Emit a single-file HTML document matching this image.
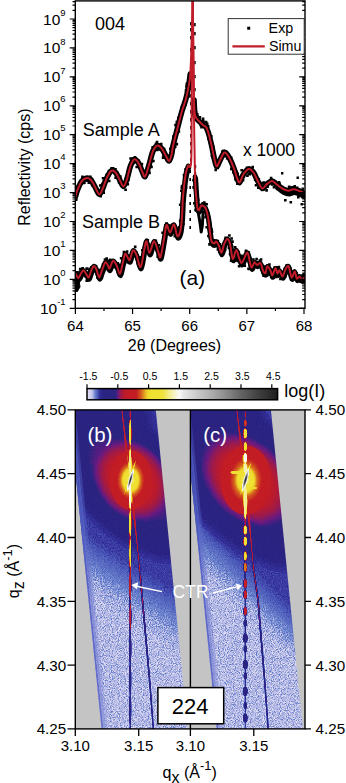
<!DOCTYPE html>
<html><head><meta charset="utf-8"><style>
html,body{margin:0;padding:0;background:#fff;width:346px;height:783px;overflow:hidden}
svg{display:block}
</style></head><body>
<svg xmlns="http://www.w3.org/2000/svg" width="346" height="783" viewBox="0 0 346 783">
<defs>
<clipPath id="plotclip"><rect x="75.3" y="0.9" width="229.7" height="307.4"/></clipPath>
</defs>
<rect width="346" height="783" fill="#fff"/>
<g clip-path="url(#plotclip)" fill="none" stroke-linejoin="round" stroke-linecap="round">
<path d="M74.00,198.50 C74.17,198.37 74.42,199.13 75.00,197.70 C75.58,196.27 76.37,192.65 77.50,189.90 C78.63,187.15 80.37,183.15 81.80,181.20 C83.23,179.25 84.65,178.48 86.10,178.20 C87.55,177.92 89.05,178.13 90.50,179.50 C91.95,180.87 93.37,183.95 94.80,186.40 C96.23,188.85 97.80,193.77 99.10,194.20 C100.40,194.63 101.30,191.75 102.60,189.00 C103.90,186.25 105.45,180.73 106.90,177.70 C108.35,174.67 109.85,171.67 111.30,170.80 C112.75,169.93 114.17,170.92 115.60,172.50 C117.03,174.08 118.60,177.98 119.90,180.30 C121.20,182.62 122.23,186.53 123.40,186.40 C124.57,186.27 125.75,182.82 126.90,179.50 C128.05,176.18 129.07,169.85 130.30,166.50 C131.53,163.15 132.93,159.98 134.30,159.40 C135.67,158.82 137.22,161.07 138.50,163.00 C139.78,164.93 140.90,168.75 142.00,171.00 C143.10,173.25 143.93,177.50 145.10,176.50 C146.27,175.50 147.68,169.25 149.00,165.00 C150.32,160.75 151.55,154.25 153.00,151.00 C154.45,147.75 156.20,145.83 157.70,145.50 C159.20,145.17 160.62,147.25 162.00,149.00 C163.38,150.75 164.83,154.00 166.00,156.00 C167.17,158.00 168.08,161.17 169.00,161.00 C169.92,160.83 170.78,157.72 171.50,155.00 C172.22,152.28 172.27,149.32 173.30,144.70 C174.33,140.08 176.25,132.92 177.70,127.30 C179.15,121.68 180.68,115.55 182.00,111.00 C183.32,106.45 184.55,103.83 185.60,100.00 C186.65,96.17 187.52,92.33 188.30,88.00 C189.08,83.67 189.97,76.33 190.30,74.00" stroke="#000" stroke-width="5.6"/>
<path d="M194.00,100.00 C194.17,102.50 194.42,111.75 195.00,115.00 C195.58,118.25 196.50,118.17 197.50,119.50 C198.50,120.83 199.98,121.98 201.00,123.00 C202.02,124.02 202.73,124.88 203.60,125.60 C204.47,126.32 205.33,125.85 206.20,127.30 C207.07,128.75 207.93,131.40 208.80,134.30 C209.67,137.20 210.53,140.95 211.40,144.70 C212.27,148.45 213.13,153.20 214.00,156.80 C214.87,160.40 215.60,165.72 216.60,166.30 C217.60,166.88 218.70,162.60 220.00,160.30 C221.30,158.00 222.95,153.08 224.40,152.50 C225.85,151.92 227.15,154.27 228.70,156.80 C230.25,159.33 232.30,164.15 233.70,167.70 C235.10,171.25 236.10,175.63 237.10,178.10 C238.10,180.57 238.68,183.07 239.70,182.50 C240.72,181.93 241.70,176.95 243.20,174.70 C244.70,172.45 246.98,169.37 248.70,169.00 C250.42,168.63 251.95,170.42 253.50,172.50 C255.05,174.58 256.53,178.83 258.00,181.50 C259.47,184.17 260.88,188.00 262.30,188.50 C263.72,189.00 264.88,185.75 266.50,184.50 C268.12,183.25 270.22,180.95 272.00,181.00 C273.78,181.05 275.37,183.47 277.20,184.80 C279.03,186.13 281.10,188.02 283.00,189.00 C284.90,189.98 286.83,190.67 288.60,190.70 C290.37,190.73 291.92,189.20 293.60,189.20 C295.28,189.20 296.83,189.95 298.70,190.70 C300.57,191.45 303.58,193.10 304.80,193.70 C306.02,194.30 305.80,194.20 306.00,194.30" stroke="#000" stroke-width="5.6"/>
<path d="M277.20,184.80 C278.17,185.50 281.10,188.02 283.00,189.00 C284.90,189.98 286.83,190.67 288.60,190.70 C290.37,190.73 291.92,189.20 293.60,189.20 C295.28,189.20 296.83,189.95 298.70,190.70 C300.57,191.45 303.58,193.10 304.80,193.70 C306.02,194.30 305.80,194.20 306.00,194.30" stroke="#000" stroke-width="5" transform="translate(0.5,3.2)"/>
<path d="M284,199h2.6v2.6h-2.6zM289.5,201h2.6v2.6h-2.6zM297,196h2.6v2.6h-2.6zM300.5,203h2.4v2.4h-2.4zM281,172h2.4v2.4h-2.4zM296.5,176.5h2.4v2.4h-2.4z" fill="#000" stroke="none"/>
<path d="M74.00,272.50 C74.17,272.58 74.57,272.50 75.00,273.00 C75.43,273.50 76.05,274.65 76.60,275.50 C77.15,276.35 77.58,278.38 78.30,278.10 C79.02,277.82 80.03,275.10 80.90,273.80 C81.77,272.50 82.63,270.30 83.50,270.30 C84.37,270.30 85.23,272.63 86.10,273.80 C86.97,274.97 87.83,277.88 88.70,277.30 C89.57,276.72 90.43,272.18 91.30,270.30 C92.17,268.42 93.03,266.13 93.90,266.00 C94.77,265.87 95.63,267.62 96.50,269.50 C97.37,271.38 98.23,277.02 99.10,277.30 C99.97,277.58 100.68,273.67 101.70,271.20 C102.72,268.73 104.18,263.52 105.20,262.50 C106.22,261.48 107.08,264.08 107.80,265.10 C108.52,266.12 108.63,269.32 109.50,268.60 C110.37,267.88 111.83,261.38 113.00,260.80 C114.17,260.22 115.35,262.93 116.50,265.10 C117.65,267.27 118.90,273.93 119.90,273.80 C120.90,273.67 121.63,267.62 122.50,264.30 C123.37,260.98 124.23,255.03 125.10,253.90 C125.97,252.77 126.92,256.48 127.70,257.50 C128.48,258.52 128.92,261.17 129.80,260.00 C130.68,258.83 131.88,251.33 133.00,250.50 C134.12,249.67 135.23,252.25 136.50,255.00 C137.77,257.75 139.35,267.67 140.60,267.00 C141.85,266.33 143.02,255.30 144.00,251.00 C144.98,246.70 145.58,240.87 146.50,241.20 C147.42,241.53 148.25,253.00 149.50,253.00 C150.75,253.00 152.58,241.53 154.00,241.20 C155.42,240.87 156.92,248.37 158.00,251.00 C159.08,253.63 159.50,259.00 160.50,257.00 C161.50,255.00 163.00,244.33 164.00,239.00 C165.00,233.67 165.50,226.08 166.50,225.00 C167.50,223.92 168.75,232.58 170.00,232.50 C171.25,232.42 172.78,223.92 174.00,224.50 C175.22,225.08 176.23,234.97 177.30,236.00 C178.37,237.03 179.62,233.87 180.40,230.70 C181.18,227.53 181.60,222.20 182.00,217.00 C182.40,211.80 182.42,204.97 182.80,199.50 C183.18,194.03 183.80,188.53 184.30,184.20 C184.80,179.87 185.17,176.57 185.80,173.50 C186.43,170.43 187.72,167.08 188.10,165.80" stroke="#000" stroke-width="4.6"/>
<path d="M74.00,272.50 C74.17,272.58 74.57,272.50 75.00,273.00 C75.43,273.50 76.05,274.65 76.60,275.50 C77.15,276.35 77.58,278.38 78.30,278.10 C79.02,277.82 80.03,275.10 80.90,273.80 C81.77,272.50 82.63,270.30 83.50,270.30 C84.37,270.30 85.23,272.63 86.10,273.80 C86.97,274.97 87.83,277.88 88.70,277.30 C89.57,276.72 90.43,272.18 91.30,270.30 C92.17,268.42 93.03,266.13 93.90,266.00 C94.77,265.87 95.63,267.62 96.50,269.50 C97.37,271.38 98.23,277.02 99.10,277.30 C99.97,277.58 100.68,273.67 101.70,271.20 C102.72,268.73 104.18,263.52 105.20,262.50 C106.22,261.48 107.08,264.08 107.80,265.10 C108.52,266.12 108.63,269.32 109.50,268.60 C110.37,267.88 111.83,261.38 113.00,260.80 C114.17,260.22 115.35,262.93 116.50,265.10 C117.65,267.27 118.90,273.93 119.90,273.80 C120.90,273.67 121.63,267.62 122.50,264.30 C123.37,260.98 124.23,255.03 125.10,253.90 C125.97,252.77 126.92,256.48 127.70,257.50 C128.48,258.52 128.92,261.17 129.80,260.00 C130.68,258.83 131.88,251.33 133.00,250.50 C134.12,249.67 135.23,252.25 136.50,255.00 C137.77,257.75 139.35,267.67 140.60,267.00 C141.85,266.33 143.02,255.30 144.00,251.00 C144.98,246.70 145.58,240.87 146.50,241.20 C147.42,241.53 148.25,253.00 149.50,253.00 C150.75,253.00 152.58,241.53 154.00,241.20 C155.42,240.87 156.92,248.37 158.00,251.00 C159.08,253.63 159.50,259.00 160.50,257.00 C161.50,255.00 163.00,244.33 164.00,239.00 C165.00,233.67 165.50,226.08 166.50,225.00 C167.50,223.92 168.75,232.58 170.00,232.50 C171.25,232.42 172.78,223.92 174.00,224.50 C175.22,225.08 176.23,234.97 177.30,236.00 C178.37,237.03 179.62,233.87 180.40,230.70 C181.18,227.53 181.60,222.20 182.00,217.00 C182.40,211.80 182.42,204.97 182.80,199.50 C183.18,194.03 183.80,188.53 184.30,184.20 C184.80,179.87 185.17,176.57 185.80,173.50 C186.43,170.43 187.72,167.08 188.10,165.80" stroke="#000" stroke-width="5" transform="translate(0.6,1.9)"/>
<path d="M195.00,176.60 C195.25,180.42 196.12,194.40 196.50,199.50 C196.88,204.60 196.92,205.40 197.30,207.20 C197.68,209.00 198.17,210.55 198.80,210.30 C199.43,210.05 200.32,206.38 201.10,205.70 C201.88,205.02 202.72,205.72 203.50,206.20 C204.28,206.68 205.02,206.67 205.80,208.60 C206.58,210.53 207.42,213.18 208.20,217.80 C208.98,222.42 209.88,232.22 210.50,236.30 C211.12,240.38 211.23,241.15 211.90,242.30 C212.57,243.45 213.77,243.33 214.50,243.20 C215.23,243.07 215.57,241.07 216.30,241.50 C217.03,241.93 218.03,243.93 218.90,245.80 C219.77,247.67 220.63,252.98 221.50,252.70 C222.37,252.42 223.10,246.40 224.10,244.10 C225.10,241.80 226.50,238.90 227.50,238.90 C228.50,238.90 229.23,240.78 230.10,244.10 C230.97,247.42 231.68,257.80 232.70,258.80 C233.72,259.80 235.18,250.38 236.20,250.10 C237.22,249.82 237.93,254.93 238.80,257.10 C239.67,259.27 240.53,262.82 241.40,263.10 C242.27,263.38 242.98,260.53 244.00,258.80 C245.02,257.07 246.48,251.98 247.50,252.70 C248.52,253.42 249.38,260.63 250.10,263.10 C250.82,265.57 251.08,267.63 251.80,267.50 C252.52,267.37 253.53,262.73 254.40,262.30 C255.27,261.87 255.98,264.77 257.00,264.90 C258.02,265.03 259.48,262.10 260.50,263.10 C261.52,264.10 262.27,269.25 263.10,270.90 C263.93,272.55 264.80,273.77 265.50,273.00 C266.20,272.23 266.48,266.73 267.30,266.30 C268.12,265.87 269.55,268.88 270.40,270.40 C271.25,271.92 271.57,275.75 272.40,275.40 C273.23,275.05 274.57,268.63 275.40,268.30 C276.23,267.97 276.72,273.05 277.40,273.40 C278.08,273.75 278.65,269.90 279.50,270.40 C280.35,270.90 281.50,276.57 282.50,276.40 C283.50,276.23 284.48,271.08 285.50,269.40 C286.52,267.72 287.58,264.97 288.60,266.30 C289.62,267.63 290.58,276.55 291.60,277.40 C292.62,278.25 293.85,271.22 294.70,271.40 C295.55,271.58 295.87,277.67 296.70,278.50 C297.53,279.33 298.87,276.23 299.70,276.40 C300.53,276.57 300.85,279.33 301.70,279.50 C302.55,279.67 304.08,277.65 304.80,277.40 C305.52,277.15 305.80,277.90 306.00,278.00" stroke="#000" stroke-width="4.6"/>
<path d="M195.00,176.60 C195.25,180.42 196.12,194.40 196.50,199.50 C196.88,204.60 196.92,205.40 197.30,207.20 C197.68,209.00 198.17,210.55 198.80,210.30 C199.43,210.05 200.32,206.38 201.10,205.70 C201.88,205.02 202.72,205.72 203.50,206.20 C204.28,206.68 205.02,206.67 205.80,208.60 C206.58,210.53 207.42,213.18 208.20,217.80 C208.98,222.42 209.88,232.22 210.50,236.30 C211.12,240.38 211.23,241.15 211.90,242.30 C212.57,243.45 213.77,243.33 214.50,243.20 C215.23,243.07 215.57,241.07 216.30,241.50 C217.03,241.93 218.03,243.93 218.90,245.80 C219.77,247.67 220.63,252.98 221.50,252.70 C222.37,252.42 223.10,246.40 224.10,244.10 C225.10,241.80 226.50,238.90 227.50,238.90 C228.50,238.90 229.23,240.78 230.10,244.10 C230.97,247.42 231.68,257.80 232.70,258.80 C233.72,259.80 235.18,250.38 236.20,250.10 C237.22,249.82 237.93,254.93 238.80,257.10 C239.67,259.27 240.53,262.82 241.40,263.10 C242.27,263.38 242.98,260.53 244.00,258.80 C245.02,257.07 246.48,251.98 247.50,252.70 C248.52,253.42 249.38,260.63 250.10,263.10 C250.82,265.57 251.08,267.63 251.80,267.50 C252.52,267.37 253.53,262.73 254.40,262.30 C255.27,261.87 255.98,264.77 257.00,264.90 C258.02,265.03 259.48,262.10 260.50,263.10 C261.52,264.10 262.27,269.25 263.10,270.90 C263.93,272.55 264.80,273.77 265.50,273.00 C266.20,272.23 266.48,266.73 267.30,266.30 C268.12,265.87 269.55,268.88 270.40,270.40 C271.25,271.92 271.57,275.75 272.40,275.40 C273.23,275.05 274.57,268.63 275.40,268.30 C276.23,267.97 276.72,273.05 277.40,273.40 C278.08,273.75 278.65,269.90 279.50,270.40 C280.35,270.90 281.50,276.57 282.50,276.40 C283.50,276.23 284.48,271.08 285.50,269.40 C286.52,267.72 287.58,264.97 288.60,266.30 C289.62,267.63 290.58,276.55 291.60,277.40 C292.62,278.25 293.85,271.22 294.70,271.40 C295.55,271.58 295.87,277.67 296.70,278.50 C297.53,279.33 298.87,276.23 299.70,276.40 C300.53,276.57 300.85,279.33 301.70,279.50 C302.55,279.67 304.08,277.65 304.80,277.40 C305.52,277.15 305.80,277.90 306.00,278.00" stroke="#000" stroke-width="5" transform="translate(0.6,1.9)"/>
<path d="M75,276 L79,280 L80,287 L77,292 L75,290 Z" fill="#000" stroke="#000" stroke-width="1"/>
<path d="M196.5,206 L198.5,214 L200.2,224 L201.2,232 L202.3,226 L203.2,212" stroke="#000" stroke-width="3"/>
<path d="M190.1,22.0h1.7v3.4h-1.7zM190.1,28.0h1.7v3.4h-1.7zM190.1,36.0h1.7v3.4h-1.7zM190.1,48.0h1.7v3.4h-1.7zM190.1,57.0h1.7v3.4h-1.7zM190.1,64.0h1.7v3.4h-1.7zM190.1,70.0h1.7v3.4h-1.7zM190.1,77.0h1.7v3.4h-1.7zM190.1,86.0h1.7v3.4h-1.7zM190.1,94.0h1.7v3.4h-1.7zM190.1,102.0h1.7v3.4h-1.7zM190.1,110.0h1.7v3.4h-1.7zM190.1,118.0h1.7v3.4h-1.7zM190.1,126.0h1.7v3.4h-1.7zM190.1,134.0h1.7v3.4h-1.7zM190.1,142.0h1.7v3.4h-1.7zM190.1,150.0h1.7v3.4h-1.7zM190.1,158.0h1.7v3.4h-1.7zM194.1,23.0h1.6v3.2h-1.6zM194.1,32.0h1.6v3.2h-1.6zM194.1,46.0h1.6v3.2h-1.6zM194.1,61.0h1.6v3.2h-1.6zM194.1,75.0h1.6v3.2h-1.6zM194.1,88.0h1.6v3.2h-1.6zM194.6,165.0h1.6v3.2h-1.6zM194.6,172.0h1.6v3.2h-1.6zM194.6,179.0h1.6v3.2h-1.6zM194.6,186.0h1.6v3.2h-1.6zM194.6,193.0h1.6v3.2h-1.6zM194.6,200.0h1.6v3.2h-1.6zM189.4,170.0h1.6v3h-1.6zM189.4,178.0h1.6v3h-1.6zM189.4,186.0h1.6v3h-1.6zM189.4,194.0h1.6v3h-1.6zM189.4,202.0h1.6v3h-1.6zM189.4,210.0h1.6v3h-1.6zM189.4,218.0h1.6v3h-1.6zM189.4,226.0h1.6v3h-1.6z" fill="#000" stroke="none"/>
<path d="M71.3,198.2h2.6v2.6h-2.6zM73.0,196.0h2.6v2.6h-2.6zM72.8,193.3h2.6v2.6h-2.6zM71.0,193.4h2.6v2.6h-2.6zM74.8,193.7h2.6v2.6h-2.6zM74.9,198.4h2.6v2.6h-2.6zM74.6,195.9h2.6v2.6h-2.6zM75.6,194.3h2.6v2.6h-2.6zM72.1,193.7h2.6v2.6h-2.6zM74.1,190.7h2.6v2.6h-2.6zM78.3,183.4h2.6v2.6h-2.6zM74.3,185.6h2.6v2.6h-2.6zM78.8,181.1h2.6v2.6h-2.6zM78.5,181.8h2.6v2.6h-2.6zM80.6,179.5h2.6v2.6h-2.6zM83.1,181.3h2.6v2.6h-2.6zM82.6,181.7h2.6v2.6h-2.6zM80.6,181.7h2.6v2.6h-2.6zM81.1,175.6h2.6v2.6h-2.6zM84.7,178.5h2.6v2.6h-2.6zM87.7,179.7h2.6v2.6h-2.6zM87.8,177.3h2.6v2.6h-2.6zM90.7,177.8h2.6v2.6h-2.6zM85.5,179.5h2.6v2.6h-2.6zM90.1,180.4h2.6v2.6h-2.6zM89.9,181.6h2.6v2.6h-2.6zM89.1,175.6h2.6v2.6h-2.6zM87.5,181.3h2.6v2.6h-2.6zM88.5,178.2h2.6v2.6h-2.6zM90.9,183.8h2.6v2.6h-2.6zM97.8,192.1h2.6v2.6h-2.6zM96.1,191.1h2.6v2.6h-2.6zM97.0,191.7h2.6v2.6h-2.6zM92.5,184.0h2.6v2.6h-2.6zM94.4,187.7h2.6v2.6h-2.6zM96.2,190.9h2.6v2.6h-2.6zM99.4,194.8h2.6v2.6h-2.6zM100.3,190.3h2.6v2.6h-2.6zM97.9,192.7h2.6v2.6h-2.6zM102.4,191.3h2.6v2.6h-2.6zM102.5,179.9h2.6v2.6h-2.6zM101.8,176.9h2.6v2.6h-2.6zM100.5,184.0h2.6v2.6h-2.6zM99.0,184.2h2.6v2.6h-2.6zM101.1,182.6h2.6v2.6h-2.6zM110.0,167.4h2.6v2.6h-2.6zM105.9,173.5h2.6v2.6h-2.6zM107.9,179.7h2.6v2.6h-2.6zM107.6,169.7h2.6v2.6h-2.6zM105.3,173.7h2.6v2.6h-2.6zM111.9,166.9h2.6v2.6h-2.6zM114.2,168.1h2.6v2.6h-2.6zM110.0,170.7h2.6v2.6h-2.6zM116.0,172.8h2.6v2.6h-2.6zM110.5,167.1h2.6v2.6h-2.6zM117.8,179.6h2.6v2.6h-2.6zM114.3,176.4h2.6v2.6h-2.6zM120.3,181.5h2.6v2.6h-2.6zM119.0,175.3h2.6v2.6h-2.6zM115.8,171.3h2.6v2.6h-2.6zM117.6,177.1h2.6v2.6h-2.6zM123.3,182.8h2.6v2.6h-2.6zM124.3,188.5h2.6v2.6h-2.6zM118.5,178.9h2.6v2.6h-2.6zM117.8,181.2h2.6v2.6h-2.6zM127.0,178.7h2.6v2.6h-2.6zM125.9,177.1h2.6v2.6h-2.6zM126.5,182.9h2.6v2.6h-2.6zM124.6,177.2h2.6v2.6h-2.6zM124.0,182.2h2.6v2.6h-2.6zM128.4,164.7h2.6v2.6h-2.6zM129.9,163.1h2.6v2.6h-2.6zM124.3,179.9h2.6v2.6h-2.6zM126.6,170.5h2.6v2.6h-2.6zM129.7,164.2h2.6v2.6h-2.6zM129.3,157.2h2.6v2.6h-2.6zM133.6,158.5h2.6v2.6h-2.6zM132.4,161.7h2.6v2.6h-2.6zM130.9,157.2h2.6v2.6h-2.6zM128.9,163.8h2.6v2.6h-2.6zM133.7,155.9h2.6v2.6h-2.6zM136.1,161.0h2.6v2.6h-2.6zM137.5,159.5h2.6v2.6h-2.6zM136.9,161.7h2.6v2.6h-2.6zM132.8,159.5h2.6v2.6h-2.6zM135.4,165.7h2.6v2.6h-2.6zM137.7,165.0h2.6v2.6h-2.6zM138.3,166.3h2.6v2.6h-2.6zM140.6,162.8h2.6v2.6h-2.6zM137.9,164.3h2.6v2.6h-2.6zM143.1,174.5h2.6v2.6h-2.6zM145.1,173.4h2.6v2.6h-2.6zM142.6,173.2h2.6v2.6h-2.6zM142.6,173.8h2.6v2.6h-2.6zM144.4,174.0h2.6v2.6h-2.6zM149.4,163.1h2.6v2.6h-2.6zM148.2,171.6h2.6v2.6h-2.6zM142.4,173.1h2.6v2.6h-2.6zM142.8,170.8h2.6v2.6h-2.6zM147.8,170.8h2.6v2.6h-2.6zM149.4,162.9h2.6v2.6h-2.6zM150.2,165.6h2.6v2.6h-2.6zM150.8,159.8h2.6v2.6h-2.6zM152.1,159.7h2.6v2.6h-2.6zM148.0,161.6h2.6v2.6h-2.6zM151.8,146.3h2.6v2.6h-2.6zM152.7,146.2h2.6v2.6h-2.6zM151.4,145.9h2.6v2.6h-2.6zM154.7,142.6h2.6v2.6h-2.6zM157.8,148.2h2.6v2.6h-2.6zM155.7,140.7h2.6v2.6h-2.6zM158.6,143.8h2.6v2.6h-2.6zM160.3,148.4h2.6v2.6h-2.6zM155.8,148.6h2.6v2.6h-2.6zM159.9,142.7h2.6v2.6h-2.6zM161.9,147.5h2.6v2.6h-2.6zM163.2,149.3h2.6v2.6h-2.6zM161.8,156.3h2.6v2.6h-2.6zM162.8,147.8h2.6v2.6h-2.6zM162.3,153.7h2.6v2.6h-2.6zM163.6,156.3h2.6v2.6h-2.6zM163.5,153.0h2.6v2.6h-2.6zM163.4,153.4h2.6v2.6h-2.6zM166.9,154.5h2.6v2.6h-2.6zM164.6,155.9h2.6v2.6h-2.6zM166.5,155.5h2.6v2.6h-2.6zM169.8,152.7h2.6v2.6h-2.6zM171.1,153.5h2.6v2.6h-2.6zM169.4,154.7h2.6v2.6h-2.6zM169.3,154.7h2.6v2.6h-2.6zM173.9,145.3h2.6v2.6h-2.6zM172.7,146.3h2.6v2.6h-2.6zM170.2,145.8h2.6v2.6h-2.6zM168.3,154.4h2.6v2.6h-2.6zM169.0,147.6h2.6v2.6h-2.6zM177.6,130.2h2.6v2.6h-2.6zM172.0,136.8h2.6v2.6h-2.6zM172.3,135.0h2.6v2.6h-2.6zM175.5,142.8h2.6v2.6h-2.6zM173.1,137.8h2.6v2.6h-2.6zM177.0,116.8h2.6v2.6h-2.6zM177.9,119.8h2.6v2.6h-2.6zM177.3,118.6h2.6v2.6h-2.6zM175.5,120.8h2.6v2.6h-2.6zM174.2,123.7h2.6v2.6h-2.6zM182.0,107.4h2.6v2.6h-2.6zM184.2,103.3h2.6v2.6h-2.6zM183.3,98.6h2.6v2.6h-2.6zM182.5,100.8h2.6v2.6h-2.6zM180.7,105.4h2.6v2.6h-2.6zM187.3,90.0h2.6v2.6h-2.6zM184.7,89.2h2.6v2.6h-2.6zM187.3,95.2h2.6v2.6h-2.6zM187.0,92.1h2.6v2.6h-2.6zM187.1,88.2h2.6v2.6h-2.6zM185.2,85.1h2.6v2.6h-2.6zM188.9,85.7h2.6v2.6h-2.6zM188.9,79.4h2.6v2.6h-2.6zM185.5,82.4h2.6v2.6h-2.6zM188.5,76.5h2.6v2.6h-2.6zM191.2,110.6h2.6v2.6h-2.6zM190.8,100.5h2.6v2.6h-2.6zM192.0,111.7h2.6v2.6h-2.6zM193.6,112.3h2.6v2.6h-2.6zM194.1,108.1h2.6v2.6h-2.6zM196.0,112.9h2.6v2.6h-2.6zM192.8,116.4h2.6v2.6h-2.6zM194.8,111.0h2.6v2.6h-2.6zM192.7,115.4h2.6v2.6h-2.6zM196.3,115.1h2.6v2.6h-2.6zM197.8,119.7h2.6v2.6h-2.6zM198.6,116.1h2.6v2.6h-2.6zM201.8,117.6h2.6v2.6h-2.6zM199.4,123.7h2.6v2.6h-2.6zM196.6,117.3h2.6v2.6h-2.6zM200.7,124.8h2.6v2.6h-2.6zM200.2,125.9h2.6v2.6h-2.6zM201.6,122.1h2.6v2.6h-2.6zM203.0,121.7h2.6v2.6h-2.6zM202.0,120.0h2.6v2.6h-2.6zM202.3,123.9h2.6v2.6h-2.6zM201.3,123.5h2.6v2.6h-2.6zM204.8,120.7h2.6v2.6h-2.6zM205.9,122.4h2.6v2.6h-2.6zM205.8,129.2h2.6v2.6h-2.6zM205.0,127.1h2.6v2.6h-2.6zM207.9,131.8h2.6v2.6h-2.6zM204.9,125.2h2.6v2.6h-2.6zM206.8,124.9h2.6v2.6h-2.6zM206.1,130.6h2.6v2.6h-2.6zM207.3,137.3h2.6v2.6h-2.6zM211.9,145.6h2.6v2.6h-2.6zM211.2,143.3h2.6v2.6h-2.6zM210.0,134.9h2.6v2.6h-2.6zM209.2,142.7h2.6v2.6h-2.6zM210.7,147.4h2.6v2.6h-2.6zM210.6,154.4h2.6v2.6h-2.6zM210.0,149.6h2.6v2.6h-2.6zM211.4,156.5h2.6v2.6h-2.6zM211.2,146.2h2.6v2.6h-2.6zM211.4,154.6h2.6v2.6h-2.6zM215.0,161.8h2.6v2.6h-2.6zM217.5,163.7h2.6v2.6h-2.6zM211.5,153.4h2.6v2.6h-2.6zM211.5,156.6h2.6v2.6h-2.6zM216.5,166.7h2.6v2.6h-2.6zM217.4,159.8h2.6v2.6h-2.6zM216.5,160.5h2.6v2.6h-2.6zM214.4,168.6h2.6v2.6h-2.6zM215.7,165.3h2.6v2.6h-2.6zM221.1,150.3h2.6v2.6h-2.6zM219.3,156.6h2.6v2.6h-2.6zM224.6,154.7h2.6v2.6h-2.6zM216.5,160.6h2.6v2.6h-2.6zM222.5,152.7h2.6v2.6h-2.6zM222.6,154.8h2.6v2.6h-2.6zM228.4,158.7h2.6v2.6h-2.6zM222.2,149.4h2.6v2.6h-2.6zM226.3,157.2h2.6v2.6h-2.6zM226.9,156.5h2.6v2.6h-2.6zM229.9,156.6h2.6v2.6h-2.6zM230.0,167.6h2.6v2.6h-2.6zM229.6,159.4h2.6v2.6h-2.6zM229.3,159.9h2.6v2.6h-2.6zM225.8,156.9h2.6v2.6h-2.6zM233.8,170.1h2.6v2.6h-2.6zM232.0,171.0h2.6v2.6h-2.6zM236.3,172.4h2.6v2.6h-2.6zM235.3,173.4h2.6v2.6h-2.6zM235.5,170.7h2.6v2.6h-2.6zM234.2,178.1h2.6v2.6h-2.6zM237.2,177.7h2.6v2.6h-2.6zM239.7,177.4h2.6v2.6h-2.6zM235.1,176.3h2.6v2.6h-2.6zM236.1,182.3h2.6v2.6h-2.6zM241.0,173.0h2.6v2.6h-2.6zM240.9,176.3h2.6v2.6h-2.6zM237.8,181.6h2.6v2.6h-2.6zM241.7,178.9h2.6v2.6h-2.6zM237.7,179.0h2.6v2.6h-2.6zM247.8,166.6h2.6v2.6h-2.6zM242.6,175.1h2.6v2.6h-2.6zM240.4,168.9h2.6v2.6h-2.6zM246.1,174.4h2.6v2.6h-2.6zM248.4,172.8h2.6v2.6h-2.6zM247.4,172.5h2.6v2.6h-2.6zM248.6,171.7h2.6v2.6h-2.6zM248.6,167.6h2.6v2.6h-2.6zM245.7,166.4h2.6v2.6h-2.6zM251.4,165.8h2.6v2.6h-2.6zM255.1,178.7h2.6v2.6h-2.6zM257.5,178.0h2.6v2.6h-2.6zM252.3,170.6h2.6v2.6h-2.6zM254.8,178.3h2.6v2.6h-2.6zM253.9,178.5h2.6v2.6h-2.6zM261.5,182.0h2.6v2.6h-2.6zM254.7,184.0h2.6v2.6h-2.6zM259.0,185.3h2.6v2.6h-2.6zM257.0,186.4h2.6v2.6h-2.6zM258.2,186.3h2.6v2.6h-2.6zM261.2,181.8h2.6v2.6h-2.6zM266.3,185.3h2.6v2.6h-2.6zM262.6,181.2h2.6v2.6h-2.6zM265.3,189.1h2.6v2.6h-2.6zM261.4,185.1h2.6v2.6h-2.6zM270.1,178.8h2.6v2.6h-2.6zM270.8,183.1h2.6v2.6h-2.6zM270.0,179.0h2.6v2.6h-2.6zM266.3,184.5h2.6v2.6h-2.6zM264.1,185.0h2.6v2.6h-2.6zM269.8,176.7h2.6v2.6h-2.6zM272.7,185.8h2.6v2.6h-2.6zM277.7,181.1h2.6v2.6h-2.6zM269.1,180.0h2.6v2.6h-2.6zM274.1,180.2h2.6v2.6h-2.6zM278.9,186.7h2.6v2.6h-2.6zM282.0,188.0h2.6v2.6h-2.6zM278.3,182.3h2.6v2.6h-2.6zM278.6,187.9h2.6v2.6h-2.6zM275.8,182.2h2.6v2.6h-2.6zM284.5,188.6h2.6v2.6h-2.6zM283.0,192.4h2.6v2.6h-2.6zM283.2,191.2h2.6v2.6h-2.6zM287.8,185.5h2.6v2.6h-2.6zM286.0,191.4h2.6v2.6h-2.6zM289.6,186.3h2.6v2.6h-2.6zM286.3,193.2h2.6v2.6h-2.6zM292.4,187.5h2.6v2.6h-2.6zM291.4,186.1h2.6v2.6h-2.6zM293.4,184.9h2.6v2.6h-2.6zM295.9,186.4h2.6v2.6h-2.6zM292.4,186.0h2.6v2.6h-2.6zM294.1,189.6h2.6v2.6h-2.6zM290.9,186.8h2.6v2.6h-2.6zM294.2,187.3h2.6v2.6h-2.6zM300.1,190.4h2.6v2.6h-2.6zM295.8,188.7h2.6v2.6h-2.6zM301.5,187.6h2.6v2.6h-2.6zM299.4,189.1h2.6v2.6h-2.6zM298.2,194.1h2.6v2.6h-2.6zM304.2,191.4h2.6v2.6h-2.6zM305.8,196.8h2.6v2.6h-2.6zM302.4,194.5h2.6v2.6h-2.6zM301.3,195.9h2.6v2.6h-2.6zM305.6,191.9h2.6v2.6h-2.6zM73.4,268.8h2.6v2.6h-2.6zM73.0,272.4h2.6v2.6h-2.6zM71.6,272.7h2.6v2.6h-2.6zM73.1,268.4h2.6v2.6h-2.6zM73.1,274.9h2.6v2.6h-2.6zM73.8,274.5h2.6v2.6h-2.6zM73.7,271.0h2.6v2.6h-2.6zM77.6,273.9h2.6v2.6h-2.6zM75.9,270.9h2.6v2.6h-2.6zM75.7,276.7h2.6v2.6h-2.6zM77.0,272.3h2.6v2.6h-2.6zM77.7,278.0h2.6v2.6h-2.6zM74.2,273.8h2.6v2.6h-2.6zM75.6,272.4h2.6v2.6h-2.6zM76.8,278.2h2.6v2.6h-2.6zM77.4,278.8h2.6v2.6h-2.6zM78.8,273.4h2.6v2.6h-2.6zM78.8,275.3h2.6v2.6h-2.6zM77.4,276.2h2.6v2.6h-2.6zM78.9,274.5h2.6v2.6h-2.6zM78.4,272.0h2.6v2.6h-2.6zM79.5,273.0h2.6v2.6h-2.6zM81.4,267.1h2.6v2.6h-2.6zM78.9,267.7h2.6v2.6h-2.6zM78.7,270.5h2.6v2.6h-2.6zM81.2,271.9h2.6v2.6h-2.6zM83.6,271.6h2.6v2.6h-2.6zM81.3,270.8h2.6v2.6h-2.6zM85.4,267.3h2.6v2.6h-2.6zM86.9,273.9h2.6v2.6h-2.6zM85.4,279.4h2.6v2.6h-2.6zM88.4,277.7h2.6v2.6h-2.6zM86.7,276.7h2.6v2.6h-2.6zM84.2,274.9h2.6v2.6h-2.6zM87.2,271.2h2.6v2.6h-2.6zM87.7,270.3h2.6v2.6h-2.6zM88.3,267.6h2.6v2.6h-2.6zM87.8,268.6h2.6v2.6h-2.6zM86.2,278.4h2.6v2.6h-2.6zM91.1,268.5h2.6v2.6h-2.6zM90.1,265.9h2.6v2.6h-2.6zM91.0,269.4h2.6v2.6h-2.6zM91.8,269.8h2.6v2.6h-2.6zM92.7,269.6h2.6v2.6h-2.6zM92.5,265.3h2.6v2.6h-2.6zM95.6,267.0h2.6v2.6h-2.6zM94.3,264.7h2.6v2.6h-2.6zM92.3,270.0h2.6v2.6h-2.6zM94.0,269.7h2.6v2.6h-2.6zM94.9,265.2h2.6v2.6h-2.6zM92.9,265.3h2.6v2.6h-2.6zM96.5,273.1h2.6v2.6h-2.6zM95.7,272.9h2.6v2.6h-2.6zM94.5,269.1h2.6v2.6h-2.6zM94.2,269.8h2.6v2.6h-2.6zM98.8,275.4h2.6v2.6h-2.6zM99.0,274.5h2.6v2.6h-2.6zM100.3,273.0h2.6v2.6h-2.6zM96.2,276.3h2.6v2.6h-2.6zM101.5,269.9h2.6v2.6h-2.6zM98.9,268.8h2.6v2.6h-2.6zM101.6,266.2h2.6v2.6h-2.6zM104.1,268.0h2.6v2.6h-2.6zM103.3,263.9h2.6v2.6h-2.6zM101.8,263.1h2.6v2.6h-2.6zM105.4,257.3h2.6v2.6h-2.6zM107.5,259.6h2.6v2.6h-2.6zM105.0,261.8h2.6v2.6h-2.6zM107.1,260.1h2.6v2.6h-2.6zM103.7,258.2h2.6v2.6h-2.6zM109.4,268.7h2.6v2.6h-2.6zM108.2,265.9h2.6v2.6h-2.6zM108.5,265.0h2.6v2.6h-2.6zM104.9,262.3h2.6v2.6h-2.6zM105.7,266.0h2.6v2.6h-2.6zM112.4,263.7h2.6v2.6h-2.6zM109.4,264.7h2.6v2.6h-2.6zM111.1,259.2h2.6v2.6h-2.6zM112.8,259.9h2.6v2.6h-2.6zM108.9,258.4h2.6v2.6h-2.6zM113.7,264.3h2.6v2.6h-2.6zM113.4,265.9h2.6v2.6h-2.6zM111.5,264.3h2.6v2.6h-2.6zM114.9,263.6h2.6v2.6h-2.6zM115.0,266.6h2.6v2.6h-2.6zM119.4,269.3h2.6v2.6h-2.6zM118.0,268.5h2.6v2.6h-2.6zM116.5,262.1h2.6v2.6h-2.6zM116.5,267.7h2.6v2.6h-2.6zM117.7,263.4h2.6v2.6h-2.6zM116.6,267.3h2.6v2.6h-2.6zM121.1,267.6h2.6v2.6h-2.6zM118.3,266.3h2.6v2.6h-2.6zM121.1,271.7h2.6v2.6h-2.6zM118.7,267.1h2.6v2.6h-2.6zM125.8,250.2h2.6v2.6h-2.6zM119.8,256.9h2.6v2.6h-2.6zM125.0,255.3h2.6v2.6h-2.6zM124.0,252.6h2.6v2.6h-2.6zM119.4,264.1h2.6v2.6h-2.6zM123.4,252.7h2.6v2.6h-2.6zM122.6,250.8h2.6v2.6h-2.6zM125.0,253.7h2.6v2.6h-2.6zM126.3,259.0h2.6v2.6h-2.6zM123.1,254.1h2.6v2.6h-2.6zM128.7,256.0h2.6v2.6h-2.6zM128.1,255.6h2.6v2.6h-2.6zM126.2,261.0h2.6v2.6h-2.6zM124.3,254.1h2.6v2.6h-2.6zM130.4,253.9h2.6v2.6h-2.6zM130.0,256.5h2.6v2.6h-2.6zM129.1,255.7h2.6v2.6h-2.6zM130.0,254.5h2.6v2.6h-2.6zM128.0,257.7h2.6v2.6h-2.6zM128.1,255.1h2.6v2.6h-2.6zM133.4,251.2h2.6v2.6h-2.6zM135.1,251.5h2.6v2.6h-2.6zM132.6,254.3h2.6v2.6h-2.6zM133.9,245.6h2.6v2.6h-2.6zM131.2,253.5h2.6v2.6h-2.6zM136.7,262.9h2.6v2.6h-2.6zM136.0,256.8h2.6v2.6h-2.6zM139.6,264.0h2.6v2.6h-2.6zM135.8,255.0h2.6v2.6h-2.6zM139.5,265.8h2.6v2.6h-2.6zM139.6,265.3h2.6v2.6h-2.6zM139.4,256.1h2.6v2.6h-2.6zM141.0,248.9h2.6v2.6h-2.6zM141.3,263.8h2.6v2.6h-2.6zM138.1,261.1h2.6v2.6h-2.6zM143.6,243.7h2.6v2.6h-2.6zM142.0,250.5h2.6v2.6h-2.6zM142.5,246.4h2.6v2.6h-2.6zM142.4,252.8h2.6v2.6h-2.6zM145.9,241.4h2.6v2.6h-2.6zM146.5,238.9h2.6v2.6h-2.6zM145.3,238.4h2.6v2.6h-2.6zM147.9,246.2h2.6v2.6h-2.6zM147.4,245.5h2.6v2.6h-2.6zM146.1,240.8h2.6v2.6h-2.6zM153.6,242.4h2.6v2.6h-2.6zM152.0,244.3h2.6v2.6h-2.6zM150.3,252.2h2.6v2.6h-2.6zM152.7,245.5h2.6v2.6h-2.6zM152.0,243.3h2.6v2.6h-2.6zM154.6,239.6h2.6v2.6h-2.6zM155.8,245.8h2.6v2.6h-2.6zM154.0,245.4h2.6v2.6h-2.6zM155.1,243.6h2.6v2.6h-2.6zM157.6,243.9h2.6v2.6h-2.6zM159.7,252.7h2.6v2.6h-2.6zM160.3,248.8h2.6v2.6h-2.6zM156.4,255.3h2.6v2.6h-2.6zM159.1,252.0h2.6v2.6h-2.6zM158.3,255.0h2.6v2.6h-2.6zM161.7,249.2h2.6v2.6h-2.6zM160.6,250.1h2.6v2.6h-2.6zM160.9,251.0h2.6v2.6h-2.6zM160.0,246.0h2.6v2.6h-2.6zM158.2,247.4h2.6v2.6h-2.6zM161.3,231.4h2.6v2.6h-2.6zM164.7,230.6h2.6v2.6h-2.6zM162.0,236.0h2.6v2.6h-2.6zM165.2,222.2h2.6v2.6h-2.6zM164.2,224.1h2.6v2.6h-2.6zM167.0,227.3h2.6v2.6h-2.6zM167.3,229.0h2.6v2.6h-2.6zM168.3,224.2h2.6v2.6h-2.6zM169.0,231.1h2.6v2.6h-2.6zM165.8,227.6h2.6v2.6h-2.6zM170.9,229.0h2.6v2.6h-2.6zM170.9,223.4h2.6v2.6h-2.6zM169.3,226.5h2.6v2.6h-2.6zM169.8,229.3h2.6v2.6h-2.6zM168.7,229.1h2.6v2.6h-2.6zM174.8,229.5h2.6v2.6h-2.6zM176.0,230.3h2.6v2.6h-2.6zM174.5,227.3h2.6v2.6h-2.6zM173.5,235.0h2.6v2.6h-2.6zM172.4,226.4h2.6v2.6h-2.6zM179.7,227.6h2.6v2.6h-2.6zM174.5,231.9h2.6v2.6h-2.6zM177.6,227.7h2.6v2.6h-2.6zM180.3,227.1h2.6v2.6h-2.6zM179.3,232.3h2.6v2.6h-2.6zM182.1,222.7h2.6v2.6h-2.6zM178.9,219.5h2.6v2.6h-2.6zM181.2,221.6h2.6v2.6h-2.6zM180.8,215.3h2.6v2.6h-2.6zM177.7,226.1h2.6v2.6h-2.6zM180.6,211.7h2.6v2.6h-2.6zM181.1,207.4h2.6v2.6h-2.6zM178.9,203.5h2.6v2.6h-2.6zM181.4,208.9h2.6v2.6h-2.6zM180.7,200.3h2.6v2.6h-2.6zM180.8,184.7h2.6v2.6h-2.6zM180.1,189.4h2.6v2.6h-2.6zM184.7,186.3h2.6v2.6h-2.6zM183.0,183.1h2.6v2.6h-2.6zM180.5,186.3h2.6v2.6h-2.6zM183.1,179.2h2.6v2.6h-2.6zM183.4,179.2h2.6v2.6h-2.6zM182.7,174.1h2.6v2.6h-2.6zM183.9,181.1h2.6v2.6h-2.6zM185.1,179.0h2.6v2.6h-2.6zM184.5,168.4h2.6v2.6h-2.6zM187.5,167.1h2.6v2.6h-2.6zM184.3,168.0h2.6v2.6h-2.6zM186.5,170.1h2.6v2.6h-2.6zM185.7,175.1h2.6v2.6h-2.6zM192.3,186.1h2.6v2.6h-2.6zM192.2,179.0h2.6v2.6h-2.6zM195.4,191.7h2.6v2.6h-2.6zM195.6,197.1h2.6v2.6h-2.6zM195.6,190.5h2.6v2.6h-2.6zM194.3,204.8h2.6v2.6h-2.6zM196.9,198.4h2.6v2.6h-2.6zM193.0,201.9h2.6v2.6h-2.6zM196.7,204.1h2.6v2.6h-2.6zM197.3,205.1h2.6v2.6h-2.6zM195.4,206.0h2.6v2.6h-2.6zM196.1,208.1h2.6v2.6h-2.6zM195.2,209.4h2.6v2.6h-2.6zM194.2,208.6h2.6v2.6h-2.6zM199.0,207.2h2.6v2.6h-2.6zM197.0,209.7h2.6v2.6h-2.6zM202.1,204.5h2.6v2.6h-2.6zM196.5,208.3h2.6v2.6h-2.6zM196.2,204.0h2.6v2.6h-2.6zM198.4,205.8h2.6v2.6h-2.6zM200.1,208.0h2.6v2.6h-2.6zM197.7,206.3h2.6v2.6h-2.6zM201.5,201.9h2.6v2.6h-2.6zM201.3,206.2h2.6v2.6h-2.6zM203.0,201.3h2.6v2.6h-2.6zM204.7,206.1h2.6v2.6h-2.6zM203.1,211.0h2.6v2.6h-2.6zM201.4,202.5h2.6v2.6h-2.6zM205.3,202.9h2.6v2.6h-2.6zM204.1,202.8h2.6v2.6h-2.6zM206.5,211.5h2.6v2.6h-2.6zM205.8,210.2h2.6v2.6h-2.6zM204.3,216.0h2.6v2.6h-2.6zM206.1,211.7h2.6v2.6h-2.6zM204.9,213.5h2.6v2.6h-2.6zM210.5,234.5h2.6v2.6h-2.6zM205.4,225.9h2.6v2.6h-2.6zM210.2,228.1h2.6v2.6h-2.6zM210.7,230.5h2.6v2.6h-2.6zM207.3,227.0h2.6v2.6h-2.6zM209.8,241.9h2.6v2.6h-2.6zM212.0,241.2h2.6v2.6h-2.6zM207.1,234.7h2.6v2.6h-2.6zM210.2,240.2h2.6v2.6h-2.6zM208.2,243.1h2.6v2.6h-2.6zM214.5,242.3h2.6v2.6h-2.6zM213.1,243.8h2.6v2.6h-2.6zM214.4,240.3h2.6v2.6h-2.6zM211.1,243.6h2.6v2.6h-2.6zM212.4,244.8h2.6v2.6h-2.6zM214.2,243.0h2.6v2.6h-2.6zM212.6,239.0h2.6v2.6h-2.6zM216.0,240.3h2.6v2.6h-2.6zM214.9,244.0h2.6v2.6h-2.6zM214.0,244.8h2.6v2.6h-2.6zM217.4,243.8h2.6v2.6h-2.6zM215.0,240.1h2.6v2.6h-2.6zM216.5,239.8h2.6v2.6h-2.6zM216.0,242.8h2.6v2.6h-2.6zM213.1,245.0h2.6v2.6h-2.6zM216.6,248.2h2.6v2.6h-2.6zM217.9,250.7h2.6v2.6h-2.6zM218.6,242.9h2.6v2.6h-2.6zM220.1,247.8h2.6v2.6h-2.6zM219.2,245.9h2.6v2.6h-2.6zM221.9,248.4h2.6v2.6h-2.6zM223.8,248.7h2.6v2.6h-2.6zM218.5,246.7h2.6v2.6h-2.6zM218.6,246.1h2.6v2.6h-2.6zM223.5,246.3h2.6v2.6h-2.6zM228.1,234.2h2.6v2.6h-2.6zM224.3,236.5h2.6v2.6h-2.6zM224.8,238.4h2.6v2.6h-2.6zM227.3,240.9h2.6v2.6h-2.6zM223.9,237.9h2.6v2.6h-2.6zM231.2,240.3h2.6v2.6h-2.6zM225.1,236.6h2.6v2.6h-2.6zM230.6,245.1h2.6v2.6h-2.6zM227.8,239.6h2.6v2.6h-2.6zM230.3,237.2h2.6v2.6h-2.6zM230.5,248.6h2.6v2.6h-2.6zM229.6,253.5h2.6v2.6h-2.6zM228.8,252.5h2.6v2.6h-2.6zM227.6,246.4h2.6v2.6h-2.6zM227.9,242.3h2.6v2.6h-2.6zM231.3,253.4h2.6v2.6h-2.6zM229.8,259.4h2.6v2.6h-2.6zM234.3,258.7h2.6v2.6h-2.6zM232.7,249.3h2.6v2.6h-2.6zM233.9,259.5h2.6v2.6h-2.6zM236.3,251.9h2.6v2.6h-2.6zM236.9,255.6h2.6v2.6h-2.6zM233.9,246.1h2.6v2.6h-2.6zM237.0,250.8h2.6v2.6h-2.6zM236.0,254.2h2.6v2.6h-2.6zM236.8,259.6h2.6v2.6h-2.6zM236.7,257.7h2.6v2.6h-2.6zM240.3,254.5h2.6v2.6h-2.6zM237.8,265.0h2.6v2.6h-2.6zM237.8,259.6h2.6v2.6h-2.6zM239.6,258.1h2.6v2.6h-2.6zM243.5,264.4h2.6v2.6h-2.6zM240.5,256.1h2.6v2.6h-2.6zM240.2,259.8h2.6v2.6h-2.6zM243.3,256.5h2.6v2.6h-2.6zM244.7,249.6h2.6v2.6h-2.6zM244.4,257.7h2.6v2.6h-2.6zM243.0,259.8h2.6v2.6h-2.6zM243.8,253.1h2.6v2.6h-2.6zM244.7,258.2h2.6v2.6h-2.6zM244.6,250.0h2.6v2.6h-2.6zM247.8,255.8h2.6v2.6h-2.6zM247.3,255.3h2.6v2.6h-2.6zM248.7,257.3h2.6v2.6h-2.6zM247.5,251.3h2.6v2.6h-2.6zM247.8,267.6h2.6v2.6h-2.6zM251.1,266.3h2.6v2.6h-2.6zM247.2,267.4h2.6v2.6h-2.6zM251.5,261.9h2.6v2.6h-2.6zM250.8,261.5h2.6v2.6h-2.6zM250.3,266.1h2.6v2.6h-2.6zM250.6,265.7h2.6v2.6h-2.6zM249.9,265.3h2.6v2.6h-2.6zM254.5,260.5h2.6v2.6h-2.6zM251.8,264.6h2.6v2.6h-2.6zM255.1,265.0h2.6v2.6h-2.6zM254.5,262.5h2.6v2.6h-2.6zM252.1,266.3h2.6v2.6h-2.6zM252.1,258.2h2.6v2.6h-2.6zM255.3,257.7h2.6v2.6h-2.6zM257.0,260.9h2.6v2.6h-2.6zM256.3,264.2h2.6v2.6h-2.6zM258.5,259.3h2.6v2.6h-2.6zM259.8,258.2h2.6v2.6h-2.6zM256.1,263.4h2.6v2.6h-2.6zM258.0,263.2h2.6v2.6h-2.6zM260.0,265.9h2.6v2.6h-2.6zM259.9,265.0h2.6v2.6h-2.6zM261.3,266.8h2.6v2.6h-2.6zM259.8,267.7h2.6v2.6h-2.6zM262.5,274.4h2.6v2.6h-2.6zM262.9,269.1h2.6v2.6h-2.6zM262.3,274.3h2.6v2.6h-2.6zM265.8,273.9h2.6v2.6h-2.6zM261.6,271.5h2.6v2.6h-2.6zM268.1,263.2h2.6v2.6h-2.6zM265.6,267.7h2.6v2.6h-2.6zM263.0,267.6h2.6v2.6h-2.6zM262.7,265.3h2.6v2.6h-2.6zM267.3,268.9h2.6v2.6h-2.6zM269.5,270.8h2.6v2.6h-2.6zM266.4,269.8h2.6v2.6h-2.6zM267.7,264.2h2.6v2.6h-2.6zM269.8,268.2h2.6v2.6h-2.6zM266.9,265.5h2.6v2.6h-2.6zM269.9,272.2h2.6v2.6h-2.6zM268.5,273.1h2.6v2.6h-2.6zM271.1,271.9h2.6v2.6h-2.6zM270.2,268.5h2.6v2.6h-2.6zM267.5,268.0h2.6v2.6h-2.6zM271.3,269.1h2.6v2.6h-2.6zM271.6,276.3h2.6v2.6h-2.6zM273.3,271.0h2.6v2.6h-2.6zM272.8,272.3h2.6v2.6h-2.6zM273.3,269.9h2.6v2.6h-2.6zM273.4,266.2h2.6v2.6h-2.6zM274.5,270.3h2.6v2.6h-2.6zM273.4,270.1h2.6v2.6h-2.6zM274.9,268.1h2.6v2.6h-2.6zM277.1,266.7h2.6v2.6h-2.6zM276.0,266.1h2.6v2.6h-2.6zM277.6,265.8h2.6v2.6h-2.6zM276.6,272.9h2.6v2.6h-2.6zM275.0,275.6h2.6v2.6h-2.6zM275.9,268.5h2.6v2.6h-2.6zM280.1,272.2h2.6v2.6h-2.6zM282.4,274.3h2.6v2.6h-2.6zM281.6,275.7h2.6v2.6h-2.6zM281.1,273.7h2.6v2.6h-2.6zM279.1,277.7h2.6v2.6h-2.6zM282.5,275.8h2.6v2.6h-2.6zM285.0,272.2h2.6v2.6h-2.6zM283.9,275.3h2.6v2.6h-2.6zM282.4,270.4h2.6v2.6h-2.6zM283.7,270.2h2.6v2.6h-2.6zM285.7,265.9h2.6v2.6h-2.6zM286.6,270.0h2.6v2.6h-2.6zM285.5,263.9h2.6v2.6h-2.6zM283.4,267.8h2.6v2.6h-2.6zM283.9,269.8h2.6v2.6h-2.6zM290.0,271.4h2.6v2.6h-2.6zM288.7,275.0h2.6v2.6h-2.6zM287.6,271.3h2.6v2.6h-2.6zM289.0,274.8h2.6v2.6h-2.6zM289.8,277.8h2.6v2.6h-2.6zM292.0,274.6h2.6v2.6h-2.6zM290.8,274.6h2.6v2.6h-2.6zM293.6,275.5h2.6v2.6h-2.6zM289.9,271.9h2.6v2.6h-2.6zM291.8,274.3h2.6v2.6h-2.6zM297.5,276.2h2.6v2.6h-2.6zM294.9,277.4h2.6v2.6h-2.6zM294.2,275.2h2.6v2.6h-2.6zM292.8,275.3h2.6v2.6h-2.6zM295.1,272.7h2.6v2.6h-2.6zM299.0,278.0h2.6v2.6h-2.6zM300.3,274.5h2.6v2.6h-2.6zM294.8,277.0h2.6v2.6h-2.6zM295.4,273.5h2.6v2.6h-2.6zM297.8,274.6h2.6v2.6h-2.6zM301.1,274.3h2.6v2.6h-2.6zM300.7,274.8h2.6v2.6h-2.6zM297.3,275.6h2.6v2.6h-2.6zM300.5,279.1h2.6v2.6h-2.6zM298.8,276.2h2.6v2.6h-2.6zM302.0,277.9h2.6v2.6h-2.6zM303.9,275.4h2.6v2.6h-2.6zM299.1,280.1h2.6v2.6h-2.6zM298.7,275.2h2.6v2.6h-2.6zM303.6,278.1h2.6v2.6h-2.6zM302.3,272.5h2.6v2.6h-2.6zM303.5,278.4h2.6v2.6h-2.6zM302.3,274.4h2.6v2.6h-2.6zM305.6,276.9h2.6v2.6h-2.6zM303.7,275.3h2.6v2.6h-2.6z" fill="#000" stroke="none"/>
<path d="M74.00,198.50 C74.17,198.37 74.42,199.13 75.00,197.70 C75.58,196.27 76.37,192.65 77.50,189.90 C78.63,187.15 80.37,183.15 81.80,181.20 C83.23,179.25 84.65,178.48 86.10,178.20 C87.55,177.92 89.05,178.13 90.50,179.50 C91.95,180.87 93.37,183.95 94.80,186.40 C96.23,188.85 97.80,193.77 99.10,194.20 C100.40,194.63 101.30,191.75 102.60,189.00 C103.90,186.25 105.45,180.73 106.90,177.70 C108.35,174.67 109.85,171.67 111.30,170.80 C112.75,169.93 114.17,170.92 115.60,172.50 C117.03,174.08 118.60,177.98 119.90,180.30 C121.20,182.62 122.23,186.53 123.40,186.40 C124.57,186.27 125.75,182.82 126.90,179.50 C128.05,176.18 129.07,169.85 130.30,166.50 C131.53,163.15 132.93,159.98 134.30,159.40 C135.67,158.82 137.22,161.07 138.50,163.00 C139.78,164.93 140.90,168.75 142.00,171.00 C143.10,173.25 143.93,177.50 145.10,176.50 C146.27,175.50 147.68,169.25 149.00,165.00 C150.32,160.75 151.55,154.25 153.00,151.00 C154.45,147.75 156.20,145.83 157.70,145.50 C159.20,145.17 160.62,147.25 162.00,149.00 C163.38,150.75 164.83,154.00 166.00,156.00 C167.17,158.00 168.08,161.17 169.00,161.00 C169.92,160.83 170.78,157.72 171.50,155.00 C172.22,152.28 172.27,149.32 173.30,144.70 C174.33,140.08 176.25,132.92 177.70,127.30 C179.15,121.68 180.68,115.55 182.00,111.00 C183.32,106.45 184.55,103.83 185.60,100.00 C186.65,96.17 187.52,92.33 188.30,88.00 C189.08,83.67 189.77,81.17 190.30,74.00 C190.83,66.83 191.17,54.83 191.50,45.00 C191.83,35.17 192.12,23.33 192.30,15.00 C192.48,6.67 192.55,-1.67 192.60,-5.00" stroke="#c01c2a" stroke-width="2.0"/>
<path d="M192.90,-5.00 C192.93,0.83 192.98,17.50 193.10,30.00 C193.22,42.50 193.45,58.33 193.60,70.00 C193.75,81.67 193.77,92.50 194.00,100.00 C194.23,107.50 194.42,111.75 195.00,115.00 C195.58,118.25 196.50,118.17 197.50,119.50 C198.50,120.83 199.98,121.98 201.00,123.00 C202.02,124.02 202.73,124.88 203.60,125.60 C204.47,126.32 205.33,125.85 206.20,127.30 C207.07,128.75 207.93,131.40 208.80,134.30 C209.67,137.20 210.53,140.95 211.40,144.70 C212.27,148.45 213.13,153.20 214.00,156.80 C214.87,160.40 215.60,165.72 216.60,166.30 C217.60,166.88 218.70,162.60 220.00,160.30 C221.30,158.00 222.95,153.08 224.40,152.50 C225.85,151.92 227.15,154.27 228.70,156.80 C230.25,159.33 232.30,164.15 233.70,167.70 C235.10,171.25 236.10,175.63 237.10,178.10 C238.10,180.57 238.68,183.07 239.70,182.50 C240.72,181.93 241.70,176.95 243.20,174.70 C244.70,172.45 246.98,169.37 248.70,169.00 C250.42,168.63 251.95,170.42 253.50,172.50 C255.05,174.58 256.53,178.83 258.00,181.50 C259.47,184.17 260.88,188.00 262.30,188.50 C263.72,189.00 264.88,185.75 266.50,184.50 C268.12,183.25 270.22,180.95 272.00,181.00 C273.78,181.05 275.37,183.47 277.20,184.80 C279.03,186.13 281.10,188.02 283.00,189.00 C284.90,189.98 286.83,190.67 288.60,190.70 C290.37,190.73 291.92,189.20 293.60,189.20 C295.28,189.20 296.83,189.95 298.70,190.70 C300.57,191.45 303.58,193.10 304.80,193.70 C306.02,194.30 305.80,194.20 306.00,194.30" stroke="#c01c2a" stroke-width="2.0"/>
<path d="M74.00,272.50 C74.17,272.58 74.57,272.50 75.00,273.00 C75.43,273.50 76.05,274.65 76.60,275.50 C77.15,276.35 77.58,278.38 78.30,278.10 C79.02,277.82 80.03,275.10 80.90,273.80 C81.77,272.50 82.63,270.30 83.50,270.30 C84.37,270.30 85.23,272.63 86.10,273.80 C86.97,274.97 87.83,277.88 88.70,277.30 C89.57,276.72 90.43,272.18 91.30,270.30 C92.17,268.42 93.03,266.13 93.90,266.00 C94.77,265.87 95.63,267.62 96.50,269.50 C97.37,271.38 98.23,277.02 99.10,277.30 C99.97,277.58 100.68,273.67 101.70,271.20 C102.72,268.73 104.18,263.52 105.20,262.50 C106.22,261.48 107.08,264.08 107.80,265.10 C108.52,266.12 108.63,269.32 109.50,268.60 C110.37,267.88 111.83,261.38 113.00,260.80 C114.17,260.22 115.35,262.93 116.50,265.10 C117.65,267.27 118.90,273.93 119.90,273.80 C120.90,273.67 121.63,267.62 122.50,264.30 C123.37,260.98 124.23,255.03 125.10,253.90 C125.97,252.77 126.92,256.48 127.70,257.50 C128.48,258.52 128.92,261.17 129.80,260.00 C130.68,258.83 131.88,251.33 133.00,250.50 C134.12,249.67 135.23,252.25 136.50,255.00 C137.77,257.75 139.35,267.67 140.60,267.00 C141.85,266.33 143.02,255.30 144.00,251.00 C144.98,246.70 145.58,240.87 146.50,241.20 C147.42,241.53 148.25,253.00 149.50,253.00 C150.75,253.00 152.58,241.53 154.00,241.20 C155.42,240.87 156.92,248.37 158.00,251.00 C159.08,253.63 159.50,259.00 160.50,257.00 C161.50,255.00 163.00,244.33 164.00,239.00 C165.00,233.67 165.50,226.08 166.50,225.00 C167.50,223.92 168.75,232.58 170.00,232.50 C171.25,232.42 172.78,223.92 174.00,224.50 C175.22,225.08 176.23,234.97 177.30,236.00 C178.37,237.03 179.62,233.87 180.40,230.70 C181.18,227.53 181.60,222.20 182.00,217.00 C182.40,211.80 182.42,204.97 182.80,199.50 C183.18,194.03 183.80,188.53 184.30,184.20 C184.80,179.87 185.17,176.57 185.80,173.50 C186.43,170.43 187.20,167.83 188.10,165.80 C189.00,163.77 190.60,172.27 191.20,161.30 C191.80,150.33 191.53,119.38 191.70,100.00 C191.87,80.62 192.05,62.50 192.20,45.00 C192.35,27.50 192.53,3.33 192.60,-5.00" stroke="#c01c2a" stroke-width="2.0"/>
<path d="M192.90,-5.00 C192.95,3.33 193.05,27.50 193.20,45.00 C193.35,62.50 193.50,78.07 193.80,100.00 C194.10,121.93 194.55,160.02 195.00,176.60 C195.45,193.18 196.12,194.40 196.50,199.50 C196.88,204.60 196.92,205.40 197.30,207.20 C197.68,209.00 198.17,210.55 198.80,210.30 C199.43,210.05 200.32,206.38 201.10,205.70 C201.88,205.02 202.72,205.72 203.50,206.20 C204.28,206.68 205.02,206.67 205.80,208.60 C206.58,210.53 207.42,213.18 208.20,217.80 C208.98,222.42 209.88,232.22 210.50,236.30 C211.12,240.38 211.23,241.15 211.90,242.30 C212.57,243.45 213.77,243.33 214.50,243.20 C215.23,243.07 215.57,241.07 216.30,241.50 C217.03,241.93 218.03,243.93 218.90,245.80 C219.77,247.67 220.63,252.98 221.50,252.70 C222.37,252.42 223.10,246.40 224.10,244.10 C225.10,241.80 226.50,238.90 227.50,238.90 C228.50,238.90 229.23,240.78 230.10,244.10 C230.97,247.42 231.68,257.80 232.70,258.80 C233.72,259.80 235.18,250.38 236.20,250.10 C237.22,249.82 237.93,254.93 238.80,257.10 C239.67,259.27 240.53,262.82 241.40,263.10 C242.27,263.38 242.98,260.53 244.00,258.80 C245.02,257.07 246.48,251.98 247.50,252.70 C248.52,253.42 249.38,260.63 250.10,263.10 C250.82,265.57 251.08,267.63 251.80,267.50 C252.52,267.37 253.53,262.73 254.40,262.30 C255.27,261.87 255.98,264.77 257.00,264.90 C258.02,265.03 259.48,262.10 260.50,263.10 C261.52,264.10 262.27,269.25 263.10,270.90 C263.93,272.55 264.80,273.77 265.50,273.00 C266.20,272.23 266.48,266.73 267.30,266.30 C268.12,265.87 269.55,268.88 270.40,270.40 C271.25,271.92 271.57,275.75 272.40,275.40 C273.23,275.05 274.57,268.63 275.40,268.30 C276.23,267.97 276.72,273.05 277.40,273.40 C278.08,273.75 278.65,269.90 279.50,270.40 C280.35,270.90 281.50,276.57 282.50,276.40 C283.50,276.23 284.48,271.08 285.50,269.40 C286.52,267.72 287.58,264.97 288.60,266.30 C289.62,267.63 290.58,276.55 291.60,277.40 C292.62,278.25 293.85,271.22 294.70,271.40 C295.55,271.58 295.87,277.67 296.70,278.50 C297.53,279.33 298.87,276.23 299.70,276.40 C300.53,276.57 300.85,279.33 301.70,279.50 C302.55,279.67 304.08,277.65 304.80,277.40 C305.52,277.15 305.80,277.90 306.00,278.00" stroke="#c01c2a" stroke-width="2.0"/>
</g>
<rect x="75.30" y="0.90" width="229.70" height="307.40" fill="none" stroke="#000" stroke-width="1.4"/>
<path d="M69.70,308.30H75.30M305.00,308.30H299.20M72.50,299.59H75.30M305.00,299.59H302.20M72.50,294.50H75.30M305.00,294.50H302.20M72.50,290.88H75.30M305.00,290.88H302.20M72.50,288.08H75.30M305.00,288.08H302.20M72.50,285.79H75.30M305.00,285.79H302.20M72.50,283.85H75.30M305.00,283.85H302.20M72.50,282.17H75.30M305.00,282.17H302.20M72.50,280.69H75.30M305.00,280.69H302.20M69.70,279.37H75.30M305.00,279.37H299.20M72.50,270.66H75.30M305.00,270.66H302.20M72.50,265.57H75.30M305.00,265.57H302.20M72.50,261.95H75.30M305.00,261.95H302.20M72.50,259.15H75.30M305.00,259.15H302.20M72.50,256.86H75.30M305.00,256.86H302.20M72.50,254.92H75.30M305.00,254.92H302.20M72.50,253.24H75.30M305.00,253.24H302.20M72.50,251.76H75.30M305.00,251.76H302.20M69.70,250.44H75.30M305.00,250.44H299.20M72.50,241.73H75.30M305.00,241.73H302.20M72.50,236.64H75.30M305.00,236.64H302.20M72.50,233.02H75.30M305.00,233.02H302.20M72.50,230.22H75.30M305.00,230.22H302.20M72.50,227.93H75.30M305.00,227.93H302.20M72.50,225.99H75.30M305.00,225.99H302.20M72.50,224.31H75.30M305.00,224.31H302.20M72.50,222.83H75.30M305.00,222.83H302.20M69.70,221.51H75.30M305.00,221.51H299.20M72.50,212.80H75.30M305.00,212.80H302.20M72.50,207.71H75.30M305.00,207.71H302.20M72.50,204.09H75.30M305.00,204.09H302.20M72.50,201.29H75.30M305.00,201.29H302.20M72.50,199.00H75.30M305.00,199.00H302.20M72.50,197.06H75.30M305.00,197.06H302.20M72.50,195.38H75.30M305.00,195.38H302.20M72.50,193.90H75.30M305.00,193.90H302.20M69.70,192.58H75.30M305.00,192.58H299.20M72.50,183.87H75.30M305.00,183.87H302.20M72.50,178.78H75.30M305.00,178.78H302.20M72.50,175.16H75.30M305.00,175.16H302.20M72.50,172.36H75.30M305.00,172.36H302.20M72.50,170.07H75.30M305.00,170.07H302.20M72.50,168.13H75.30M305.00,168.13H302.20M72.50,166.45H75.30M305.00,166.45H302.20M72.50,164.97H75.30M305.00,164.97H302.20M69.70,163.65H75.30M305.00,163.65H299.20M72.50,154.94H75.30M305.00,154.94H302.20M72.50,149.85H75.30M305.00,149.85H302.20M72.50,146.23H75.30M305.00,146.23H302.20M72.50,143.43H75.30M305.00,143.43H302.20M72.50,141.14H75.30M305.00,141.14H302.20M72.50,139.20H75.30M305.00,139.20H302.20M72.50,137.52H75.30M305.00,137.52H302.20M72.50,136.04H75.30M305.00,136.04H302.20M69.70,134.72H75.30M305.00,134.72H299.20M72.50,126.01H75.30M305.00,126.01H302.20M72.50,120.92H75.30M305.00,120.92H302.20M72.50,117.30H75.30M305.00,117.30H302.20M72.50,114.50H75.30M305.00,114.50H302.20M72.50,112.21H75.30M305.00,112.21H302.20M72.50,110.27H75.30M305.00,110.27H302.20M72.50,108.59H75.30M305.00,108.59H302.20M72.50,107.11H75.30M305.00,107.11H302.20M69.70,105.79H75.30M305.00,105.79H299.20M72.50,97.08H75.30M305.00,97.08H302.20M72.50,91.99H75.30M305.00,91.99H302.20M72.50,88.37H75.30M305.00,88.37H302.20M72.50,85.57H75.30M305.00,85.57H302.20M72.50,83.28H75.30M305.00,83.28H302.20M72.50,81.34H75.30M305.00,81.34H302.20M72.50,79.66H75.30M305.00,79.66H302.20M72.50,78.18H75.30M305.00,78.18H302.20M69.70,76.86H75.30M305.00,76.86H299.20M72.50,68.15H75.30M305.00,68.15H302.20M72.50,63.06H75.30M305.00,63.06H302.20M72.50,59.44H75.30M305.00,59.44H302.20M72.50,56.64H75.30M305.00,56.64H302.20M72.50,54.35H75.30M305.00,54.35H302.20M72.50,52.41H75.30M305.00,52.41H302.20M72.50,50.73H75.30M305.00,50.73H302.20M72.50,49.25H75.30M305.00,49.25H302.20M69.70,47.93H75.30M305.00,47.93H299.20M72.50,39.22H75.30M305.00,39.22H302.20M72.50,34.13H75.30M305.00,34.13H302.20M72.50,30.51H75.30M305.00,30.51H302.20M72.50,27.71H75.30M305.00,27.71H302.20M72.50,25.42H75.30M305.00,25.42H302.20M72.50,23.48H75.30M305.00,23.48H302.20M72.50,21.80H75.30M305.00,21.80H302.20M72.50,20.32H75.30M305.00,20.32H302.20M69.70,19.00H75.30M305.00,19.00H299.20M72.50,10.29H75.30M305.00,10.29H302.20M72.50,5.20H75.30M305.00,5.20H302.20M72.50,1.58H75.30M305.00,1.58H302.20M75.40,308.30V313.90M103.98,308.30V311.10M132.55,308.30V313.90M161.12,308.30V311.10M189.70,308.30V313.90M218.28,308.30V311.10M246.85,308.30V313.90M275.43,308.30V311.10M304.00,308.30V313.90" stroke="#000" stroke-width="1.2" fill="none"/>
<text x="65.6" y="313.80" font-family='"Liberation Sans", sans-serif' font-size="15.5" text-anchor="end">10<tspan dy="-8.8" font-size="9.5">-1</tspan></text>
<text x="65.6" y="284.87" font-family='"Liberation Sans", sans-serif' font-size="15.5" text-anchor="end">10<tspan dy="-8.8" font-size="9.5">0</tspan></text>
<text x="65.6" y="255.94" font-family='"Liberation Sans", sans-serif' font-size="15.5" text-anchor="end">10<tspan dy="-8.8" font-size="9.5">1</tspan></text>
<text x="65.6" y="227.01" font-family='"Liberation Sans", sans-serif' font-size="15.5" text-anchor="end">10<tspan dy="-8.8" font-size="9.5">2</tspan></text>
<text x="65.6" y="198.08" font-family='"Liberation Sans", sans-serif' font-size="15.5" text-anchor="end">10<tspan dy="-8.8" font-size="9.5">3</tspan></text>
<text x="65.6" y="169.15" font-family='"Liberation Sans", sans-serif' font-size="15.5" text-anchor="end">10<tspan dy="-8.8" font-size="9.5">4</tspan></text>
<text x="65.6" y="140.22" font-family='"Liberation Sans", sans-serif' font-size="15.5" text-anchor="end">10<tspan dy="-8.8" font-size="9.5">5</tspan></text>
<text x="65.6" y="111.29" font-family='"Liberation Sans", sans-serif' font-size="15.5" text-anchor="end">10<tspan dy="-8.8" font-size="9.5">6</tspan></text>
<text x="65.6" y="82.36" font-family='"Liberation Sans", sans-serif' font-size="15.5" text-anchor="end">10<tspan dy="-8.8" font-size="9.5">7</tspan></text>
<text x="65.6" y="53.43" font-family='"Liberation Sans", sans-serif' font-size="15.5" text-anchor="end">10<tspan dy="-8.8" font-size="9.5">8</tspan></text>
<text x="65.6" y="24.50" font-family='"Liberation Sans", sans-serif' font-size="15.5" text-anchor="end">10<tspan dy="-8.8" font-size="9.5">9</tspan></text>
<text x="75.40" y="330.8" font-family='"Liberation Sans", sans-serif' font-size="15" text-anchor="middle">64</text>
<text x="132.55" y="330.8" font-family='"Liberation Sans", sans-serif' font-size="15" text-anchor="middle">65</text>
<text x="189.70" y="330.8" font-family='"Liberation Sans", sans-serif' font-size="15" text-anchor="middle">66</text>
<text x="246.85" y="330.8" font-family='"Liberation Sans", sans-serif' font-size="15" text-anchor="middle">67</text>
<text x="304.00" y="330.8" font-family='"Liberation Sans", sans-serif' font-size="15" text-anchor="middle">68</text>
<text x="174.5" y="350.8" font-family='"Liberation Sans", sans-serif' font-size="16" text-anchor="middle">2θ (Degrees)</text>
<text transform="translate(30.4,167.1) rotate(-90)" font-family='"Liberation Sans", sans-serif' font-size="16" text-anchor="middle">Reflectivity (cps)</text>
<text x="95" y="30" font-family='"Liberation Sans", sans-serif' font-size="18">004</text>
<text x="82.8" y="136.4" font-family='"Liberation Sans", sans-serif' font-size="18">Sample A</text>
<text x="82" y="227.9" font-family='"Liberation Sans", sans-serif' font-size="18">Sample B</text>
<text x="243" y="155.9" font-family='"Liberation Sans", sans-serif' font-size="17.5" textLength="52" lengthAdjust="spacing">x 1000</text>
<text x="179.6" y="284.6" font-family='"Liberation Sans", sans-serif' font-size="21">(a)</text>
<rect x="228.2" y="18.6" width="76" height="35.6" fill="#fff" stroke="#333" stroke-width="1"/>
<rect x="247.2" y="26.7" width="3" height="3" fill="#000"/>
<path d="M232.4,46.4H264.8" stroke="#c01c2a" stroke-width="2.2"/>
<text x="268.6" y="33.3" font-family='"Liberation Sans", sans-serif' font-size="14.3">Exp</text>
<text x="268.9" y="50.8" font-family='"Liberation Sans", sans-serif' font-size="14.3">Simu</text>
<defs><linearGradient id="cbar" x1="0" y1="0" x2="1" y2="0"><stop offset="0.0000" stop-color="#e2e2f4"/><stop offset="0.0083" stop-color="#d9d9f1"/><stop offset="0.0167" stop-color="#d0d0ee"/><stop offset="0.0250" stop-color="#c5c6eb"/><stop offset="0.0333" stop-color="#a1abde"/><stop offset="0.0417" stop-color="#6d84ce"/><stop offset="0.0500" stop-color="#596bc2"/><stop offset="0.0583" stop-color="#454fb1"/><stop offset="0.0667" stop-color="#332e97"/><stop offset="0.0750" stop-color="#2e288c"/><stop offset="0.0833" stop-color="#2a2484"/><stop offset="0.0917" stop-color="#2a2483"/><stop offset="0.1000" stop-color="#2b2483"/><stop offset="0.1083" stop-color="#2b2482"/><stop offset="0.1167" stop-color="#2b2482"/><stop offset="0.1250" stop-color="#2b2482"/><stop offset="0.1333" stop-color="#2b2481"/><stop offset="0.1417" stop-color="#2c2481"/><stop offset="0.1500" stop-color="#2c2480"/><stop offset="0.1583" stop-color="#501e80"/><stop offset="0.1667" stop-color="#781a72"/><stop offset="0.1750" stop-color="#951a53"/><stop offset="0.1833" stop-color="#a91a3f"/><stop offset="0.1917" stop-color="#b51a33"/><stop offset="0.2000" stop-color="#bc1b2c"/><stop offset="0.2083" stop-color="#c11c27"/><stop offset="0.2167" stop-color="#c21c26"/><stop offset="0.2250" stop-color="#c31c25"/><stop offset="0.2333" stop-color="#c31c25"/><stop offset="0.2417" stop-color="#c31c25"/><stop offset="0.2500" stop-color="#c41c24"/><stop offset="0.2583" stop-color="#c41c24"/><stop offset="0.2667" stop-color="#c83020"/><stop offset="0.2750" stop-color="#ce4620"/><stop offset="0.2833" stop-color="#d45c20"/><stop offset="0.2917" stop-color="#db7c20"/><stop offset="0.3000" stop-color="#e19c21"/><stop offset="0.3083" stop-color="#e7b925"/><stop offset="0.3167" stop-color="#ecd229"/><stop offset="0.3250" stop-color="#eeda2d"/><stop offset="0.3333" stop-color="#f0e030"/><stop offset="0.3417" stop-color="#f0e031"/><stop offset="0.3500" stop-color="#f0e132"/><stop offset="0.3583" stop-color="#f0e133"/><stop offset="0.3667" stop-color="#f0e134"/><stop offset="0.3750" stop-color="#f0e135"/><stop offset="0.3833" stop-color="#f0e236"/><stop offset="0.3917" stop-color="#f0e237"/><stop offset="0.4000" stop-color="#f0e342"/><stop offset="0.4083" stop-color="#f1e656"/><stop offset="0.4167" stop-color="#f2e86a"/><stop offset="0.4250" stop-color="#f3eb7d"/><stop offset="0.4333" stop-color="#f4ed91"/><stop offset="0.4417" stop-color="#f4efa3"/><stop offset="0.4500" stop-color="#f5f1b3"/><stop offset="0.4583" stop-color="#f5f2c4"/><stop offset="0.4667" stop-color="#f6f4d4"/><stop offset="0.4750" stop-color="#f8f6e6"/><stop offset="0.4833" stop-color="#fafaf7"/><stop offset="0.4917" stop-color="#f4f4f4"/><stop offset="0.5000" stop-color="#ededed"/><stop offset="0.5083" stop-color="#e6e6e6"/><stop offset="0.5167" stop-color="#e3e3e3"/><stop offset="0.5250" stop-color="#dfdfdf"/><stop offset="0.5333" stop-color="#dcdcdc"/><stop offset="0.5417" stop-color="#d8d8d8"/><stop offset="0.5500" stop-color="#d5d5d5"/><stop offset="0.5583" stop-color="#d1d1d1"/><stop offset="0.5667" stop-color="#cecece"/><stop offset="0.5750" stop-color="#cacaca"/><stop offset="0.5833" stop-color="#c7c7c7"/><stop offset="0.5917" stop-color="#c4c4c4"/><stop offset="0.6000" stop-color="#c1c1c1"/><stop offset="0.6083" stop-color="#bebebe"/><stop offset="0.6167" stop-color="#bbbbbb"/><stop offset="0.6250" stop-color="#b8b8b8"/><stop offset="0.6333" stop-color="#b5b5b5"/><stop offset="0.6417" stop-color="#b2b2b2"/><stop offset="0.6500" stop-color="#aeaeae"/><stop offset="0.6583" stop-color="#ababab"/><stop offset="0.6667" stop-color="#a7a7a7"/><stop offset="0.6750" stop-color="#a3a3a3"/><stop offset="0.6833" stop-color="#9f9f9f"/><stop offset="0.6917" stop-color="#9c9c9c"/><stop offset="0.7000" stop-color="#989898"/><stop offset="0.7083" stop-color="#949494"/><stop offset="0.7167" stop-color="#919191"/><stop offset="0.7250" stop-color="#8d8d8d"/><stop offset="0.7333" stop-color="#898989"/><stop offset="0.7417" stop-color="#858585"/><stop offset="0.7500" stop-color="#818181"/><stop offset="0.7583" stop-color="#7c7c7c"/><stop offset="0.7667" stop-color="#787878"/><stop offset="0.7750" stop-color="#747474"/><stop offset="0.7833" stop-color="#707070"/><stop offset="0.7917" stop-color="#6c6c6c"/><stop offset="0.8000" stop-color="#686868"/><stop offset="0.8083" stop-color="#646464"/><stop offset="0.8167" stop-color="#606060"/><stop offset="0.8250" stop-color="#5d5d5d"/><stop offset="0.8333" stop-color="#5a5a5a"/><stop offset="0.8417" stop-color="#575757"/><stop offset="0.8500" stop-color="#535353"/><stop offset="0.8583" stop-color="#505050"/><stop offset="0.8667" stop-color="#4d4d4d"/><stop offset="0.8750" stop-color="#494949"/><stop offset="0.8833" stop-color="#464646"/><stop offset="0.8917" stop-color="#434343"/><stop offset="0.9000" stop-color="#404040"/><stop offset="0.9083" stop-color="#3d3d3d"/><stop offset="0.9167" stop-color="#3a3a3a"/><stop offset="0.9250" stop-color="#373737"/><stop offset="0.9333" stop-color="#343434"/><stop offset="0.9417" stop-color="#323232"/><stop offset="0.9500" stop-color="#2f2f2f"/><stop offset="0.9583" stop-color="#2c2c2c"/><stop offset="0.9667" stop-color="#292929"/><stop offset="0.9750" stop-color="#262626"/><stop offset="0.9833" stop-color="#232323"/><stop offset="0.9917" stop-color="#202020"/><stop offset="1.0000" stop-color="#1d1d1d"/></linearGradient><filter id="cm" filterUnits="userSpaceOnUse" x="70" y="405" width="240" height="330" color-interpolation-filters="sRGB">
<feTurbulence type="fractalNoise" baseFrequency="1.130" numOctaves="1" seed="3" result="n0"/>
<feColorMatrix in="n0" type="matrix" values="2.40 0 0 0 -0.700  2.40 0 0 0 -0.700  2.40 0 0 0 -0.700  0 0 0 0 1" result="n1"/>
<feGaussianBlur in="n1" stdDeviation="0.30" result="n2"/>
<feComponentTransfer in="SourceGraphic" result="m"><feFuncR type="table" tableValues="1.000 1.000 1.000 1.000 1.000 0.878 0.433 0.287 0.268 0.249 0.230 0.210 0.191 0.172 0.153 0.134 0.120 0.120 0.120 0.120 0.120 0.120 0.120 0.120 0.120 0.120 0.120 0.120 0.120 0.120 0.120 0.120 0.120 0.120 0.120 0.120 0.120 0.120 0.120 0.120 0.120 0.120 0.120 0.120 0.120 0.120 0.120 0.120 0.120 0.120 0.120 0.120 0.120 0.120 0.120 0.120 0.120 0.120 0.120 0.120 0.120 0.120 0.120 0.120"/><feFuncG type="table" tableValues="1.000 1.000 1.000 1.000 1.000 0.878 0.433 0.287 0.268 0.249 0.230 0.210 0.191 0.172 0.153 0.134 0.120 0.120 0.120 0.120 0.120 0.120 0.120 0.120 0.120 0.120 0.120 0.120 0.120 0.120 0.120 0.120 0.120 0.120 0.120 0.120 0.120 0.120 0.120 0.120 0.120 0.120 0.120 0.120 0.120 0.120 0.120 0.120 0.120 0.120 0.120 0.120 0.120 0.120 0.120 0.120 0.120 0.120 0.120 0.120 0.120 0.120 0.120 0.120"/><feFuncB type="table" tableValues="1.000 1.000 1.000 1.000 1.000 0.878 0.433 0.287 0.268 0.249 0.230 0.210 0.191 0.172 0.153 0.134 0.120 0.120 0.120 0.120 0.120 0.120 0.120 0.120 0.120 0.120 0.120 0.120 0.120 0.120 0.120 0.120 0.120 0.120 0.120 0.120 0.120 0.120 0.120 0.120 0.120 0.120 0.120 0.120 0.120 0.120 0.120 0.120 0.120 0.120 0.120 0.120 0.120 0.120 0.120 0.120 0.120 0.120 0.120 0.120 0.120 0.120 0.120 0.120"/></feComponentTransfer>
<feComposite in="m" in2="n2" operator="arithmetic" k1="1" k2="-0.5" k3="0" k4="0.5" result="nm"/>
<feComposite in="SourceGraphic" in2="nm" operator="arithmetic" k1="0" k2="1" k3="0.0300" k4="-0.0150" result="f"/>
<feComponentTransfer in="f" result="c"><feFuncR type="table" tableValues="0.902 0.900 0.897 0.895 0.892 0.890 0.887 0.880 0.869 0.858 0.848 0.837 0.826 0.816 0.805 0.794 0.782 0.742 0.703 0.664 0.599 0.530 0.461 0.423 0.400 0.376 0.353 0.330 0.306 0.282 0.255 0.228 0.203 0.197 0.191 0.185 0.179 0.172 0.166 0.165 0.165 0.165 0.166 0.166 0.166 0.167 0.167 0.167 0.167 0.168 0.168 0.168 0.169 0.169 0.169 0.169 0.170 0.170 0.170 0.171 0.171 0.171 0.171 0.172 0.172 0.172 0.172 0.211 0.265 0.320 0.374 0.425 0.464 0.503 0.542 0.575 0.599 0.624 0.649 0.667 0.681 0.695 0.709 0.722 0.728 0.735 0.741 0.747 0.753 0.759 0.761 0.762 0.762 0.762 0.763 0.763 0.764 0.764 0.764 0.765 0.765 0.766 0.766 0.766 0.767 0.767 0.768 0.768 0.768 0.772 0.777 0.782 0.788 0.795 0.802 0.810 0.817 0.824 0.832 0.839 0.847 0.854 0.861 0.869 0.876 0.884 0.891 0.898 0.906 0.913 0.920 0.926 0.929 0.931 0.934 0.936 0.939 0.941 0.941 0.941 0.941 0.941 0.941 0.941 0.941 0.941 0.941 0.941 0.941 0.941 0.941 0.941 0.941 0.941 0.941 0.941 0.941 0.941 0.941 0.941 0.941 0.941 0.941 0.942 0.943 0.944 0.945 0.946 0.947 0.948 0.948 0.949 0.950 0.951 0.952 0.953 0.954 0.955 0.956 0.957 0.958 0.958 0.959 0.960 0.960 0.961 0.961 0.962 0.963 0.963 0.964 0.965 0.967 0.969 0.971 0.974 0.976 0.979 0.977 0.969 0.961 0.953 0.945 0.936 0.928 0.899 0.883 0.866 0.850 0.834 0.817 0.802 0.788 0.773 0.759 0.745 0.730 0.716 0.702 0.687 0.670 0.653 0.635 0.618 0.601 0.584 0.567 0.550 0.531 0.511 0.492 0.473 0.454 0.435 0.416 0.397 0.381 0.366 0.350 0.335 0.320 0.305 0.289 0.274 0.260 0.246 0.233 0.220 0.206 0.193 0.180 0.166 0.153 0.138 0.124 0.110"/><feFuncG type="table" tableValues="0.902 0.900 0.897 0.895 0.892 0.890 0.887 0.880 0.869 0.858 0.848 0.837 0.826 0.816 0.805 0.794 0.782 0.753 0.723 0.694 0.647 0.598 0.549 0.513 0.484 0.454 0.424 0.395 0.365 0.330 0.281 0.231 0.187 0.180 0.173 0.165 0.158 0.150 0.143 0.141 0.141 0.141 0.141 0.141 0.141 0.141 0.141 0.141 0.141 0.141 0.141 0.141 0.141 0.141 0.141 0.141 0.141 0.141 0.141 0.141 0.141 0.141 0.141 0.141 0.141 0.141 0.141 0.135 0.126 0.117 0.109 0.102 0.102 0.102 0.102 0.102 0.102 0.102 0.102 0.102 0.102 0.102 0.102 0.102 0.103 0.105 0.106 0.107 0.108 0.109 0.110 0.110 0.110 0.110 0.110 0.110 0.110 0.110 0.110 0.110 0.110 0.110 0.110 0.110 0.110 0.110 0.110 0.110 0.110 0.125 0.150 0.174 0.200 0.225 0.251 0.277 0.303 0.329 0.355 0.393 0.432 0.470 0.508 0.546 0.584 0.620 0.654 0.689 0.723 0.758 0.792 0.819 0.829 0.838 0.848 0.858 0.868 0.878 0.879 0.879 0.879 0.880 0.880 0.880 0.881 0.881 0.881 0.881 0.882 0.882 0.882 0.883 0.883 0.883 0.884 0.884 0.884 0.885 0.885 0.885 0.885 0.886 0.886 0.888 0.891 0.893 0.896 0.899 0.902 0.905 0.908 0.911 0.914 0.917 0.920 0.923 0.926 0.929 0.932 0.934 0.936 0.938 0.940 0.942 0.943 0.945 0.947 0.949 0.951 0.953 0.955 0.956 0.960 0.963 0.967 0.971 0.974 0.978 0.977 0.969 0.961 0.953 0.945 0.936 0.928 0.899 0.883 0.866 0.850 0.834 0.817 0.802 0.788 0.773 0.759 0.745 0.730 0.716 0.702 0.687 0.670 0.653 0.635 0.618 0.601 0.584 0.567 0.550 0.531 0.511 0.492 0.473 0.454 0.435 0.416 0.397 0.381 0.366 0.350 0.335 0.320 0.305 0.289 0.274 0.260 0.246 0.233 0.220 0.206 0.193 0.180 0.166 0.153 0.138 0.124 0.110"/><feFuncB type="table" tableValues="0.965 0.963 0.962 0.961 0.960 0.959 0.957 0.955 0.952 0.948 0.945 0.942 0.938 0.935 0.932 0.929 0.925 0.910 0.895 0.880 0.861 0.842 0.822 0.806 0.791 0.776 0.761 0.746 0.732 0.710 0.673 0.636 0.602 0.589 0.575 0.562 0.548 0.535 0.521 0.517 0.517 0.516 0.516 0.515 0.514 0.514 0.513 0.513 0.512 0.512 0.511 0.511 0.510 0.509 0.509 0.508 0.508 0.507 0.507 0.506 0.505 0.505 0.504 0.504 0.503 0.503 0.502 0.502 0.502 0.502 0.502 0.492 0.451 0.410 0.369 0.335 0.310 0.286 0.261 0.243 0.229 0.215 0.201 0.187 0.181 0.175 0.169 0.163 0.157 0.151 0.149 0.148 0.148 0.147 0.147 0.147 0.146 0.146 0.145 0.145 0.145 0.144 0.144 0.143 0.143 0.143 0.142 0.142 0.141 0.138 0.133 0.128 0.125 0.125 0.125 0.125 0.125 0.125 0.125 0.125 0.125 0.125 0.125 0.125 0.125 0.129 0.134 0.139 0.144 0.149 0.153 0.158 0.163 0.168 0.173 0.178 0.183 0.188 0.189 0.191 0.192 0.193 0.194 0.196 0.197 0.198 0.199 0.200 0.202 0.203 0.204 0.205 0.207 0.208 0.209 0.210 0.212 0.213 0.214 0.215 0.216 0.218 0.219 0.230 0.254 0.277 0.301 0.324 0.348 0.372 0.395 0.419 0.443 0.466 0.490 0.513 0.537 0.561 0.584 0.606 0.626 0.645 0.665 0.685 0.704 0.724 0.744 0.763 0.783 0.803 0.822 0.842 0.863 0.884 0.905 0.925 0.946 0.967 0.977 0.969 0.961 0.953 0.945 0.936 0.928 0.899 0.883 0.866 0.850 0.834 0.817 0.802 0.788 0.773 0.759 0.745 0.730 0.716 0.702 0.687 0.670 0.653 0.635 0.618 0.601 0.584 0.567 0.550 0.531 0.511 0.492 0.473 0.454 0.435 0.416 0.397 0.381 0.366 0.350 0.335 0.320 0.305 0.289 0.274 0.260 0.246 0.233 0.220 0.206 0.193 0.180 0.166 0.153 0.138 0.124 0.110"/><feFuncA type="identity"/></feComponentTransfer>
<feColorMatrix in="nm" type="matrix" values="-1 0 0 0 1  -0.85 0 0 0 0.925  -0.35 0 0 0 0.675  0 0 0 0 1" result="nmc"/>
<feComposite in="c" in2="nmc" operator="arithmetic" k1="0" k2="1" k3="0.2000" k4="-0.1000" result="c2"/>
<feGaussianBlur in="c2" stdDeviation="0.55"/>
</filter>
<filter id="blur05" x="-50%" y="-10%" width="200%" height="120%" color-interpolation-filters="sRGB"><feGaussianBlur stdDeviation="0.5"/></filter>
<filter id="blur3" x="-10%" y="-10%" width="120%" height="120%" color-interpolation-filters="sRGB"><feGaussianBlur stdDeviation="2.5"/></filter></defs>
<rect x="87.0" y="388.6" width="190.6" height="11.2" fill="url(#cbar)" stroke="#000" stroke-width="1.5"/>
<text x="88.40" y="379.8" font-family='"Liberation Sans", sans-serif' font-size="10.5" text-anchor="middle">-1.5</text>
<text x="119.20" y="379.8" font-family='"Liberation Sans", sans-serif' font-size="10.5" text-anchor="middle">-0.5</text>
<text x="150.00" y="379.8" font-family='"Liberation Sans", sans-serif' font-size="10.5" text-anchor="middle">0.5</text>
<text x="180.80" y="379.8" font-family='"Liberation Sans", sans-serif' font-size="10.5" text-anchor="middle">1.5</text>
<text x="211.60" y="379.8" font-family='"Liberation Sans", sans-serif' font-size="10.5" text-anchor="middle">2.5</text>
<text x="242.40" y="379.8" font-family='"Liberation Sans", sans-serif' font-size="10.5" text-anchor="middle">3.5</text>
<text x="273.20" y="379.8" font-family='"Liberation Sans", sans-serif' font-size="10.5" text-anchor="middle">4.5</text>
<path d="M87.00,388.6V384.3M117.80,388.6V384.3M148.60,388.6V384.3M179.40,388.6V384.3M210.20,388.6V384.3M241.00,388.6V384.3M271.80,388.6V384.3" stroke="#000" stroke-width="1.2"/>
<text x="284.2" y="397" font-family='"Liberation Sans", sans-serif' font-size="18">log(I)</text>
<rect x="75.3" y="409.9" width="229.7" height="319" fill="#c4c4c4"/>
<clipPath id="clip_b"><polygon points="69.05,409.90 155.79,409.90 187.82,728.90 101.59,728.90"/></clipPath>
<clipPath id="pclip_b"><rect x="75.30" y="409.90" width="115.10" height="319.00"/></clipPath>
<defs><radialGradient id="fld0_b" gradientUnits="userSpaceOnUse" cx="0" cy="0" r="1" gradientTransform="translate(130.30 479.00) rotate(-20.0) scale(79.56 198.90)"><stop offset="0.0000" stop-color="#434343"/><stop offset="0.3771" stop-color="#333333"/><stop offset="0.5656" stop-color="#262626"/><stop offset="0.7164" stop-color="#1d1d1d"/><stop offset="0.8296" stop-color="#131313"/><stop offset="0.9804" stop-color="#0b0b0b"/><stop offset="1" stop-color="#000"/></radialGradient><radialGradient id="fld1_b" gradientUnits="userSpaceOnUse" cx="0" cy="0" r="1" gradientTransform="translate(115.30 452.00) rotate(-35.0) scale(73.44 89.76)"><stop offset="0.0000" stop-color="#464646"/><stop offset="0.3676" stop-color="#3e3e3e"/><stop offset="0.6127" stop-color="#303030"/><stop offset="0.7966" stop-color="#202020"/><stop offset="0.9804" stop-color="#0b0b0b"/><stop offset="1" stop-color="#000"/></radialGradient><radialGradient id="fld2_b" gradientUnits="userSpaceOnUse" cx="0" cy="0" r="1" gradientTransform="translate(129.80 478.00) rotate(-15.0) scale(89.25 110.67)"><stop offset="0.0000" stop-color="#6c6c6c"/><stop offset="0.1401" stop-color="#5c5c5c"/><stop offset="0.2801" stop-color="#4e4e4e"/><stop offset="0.3922" stop-color="#454545"/><stop offset="0.5042" stop-color="#3c3c3c"/><stop offset="0.6443" stop-color="#303030"/><stop offset="0.7843" stop-color="#262626"/><stop offset="0.9804" stop-color="#0b0b0b"/><stop offset="1" stop-color="#000"/></radialGradient><radialGradient id="glow_b" gradientUnits="userSpaceOnUse" cx="0" cy="0" r="1" gradientTransform="translate(130.70 480.10) scale(21.4 30.0)"><stop offset="0.0000" stop-color="#bcbcbc"/><stop offset="0.1167" stop-color="#acacac"/><stop offset="0.2334" stop-color="#999999"/><stop offset="0.3501" stop-color="#868686"/><stop offset="0.4669" stop-color="#797979"/><stop offset="0.6069" stop-color="#6e6e6e"/><stop offset="0.7937" stop-color="#636363"/><stop offset="0.9804" stop-color="#595959"/><stop offset="1" stop-color="#000"/></radialGradient><radialGradient id="pk_b" gradientUnits="userSpaceOnUse" cx="0" cy="0" r="1" gradientTransform="translate(130.40 479.90) rotate(16) scale(1.80 11.50)"><stop offset="0.0000" stop-color="#fdfdfd"/><stop offset="0.3431" stop-color="#ededed"/><stop offset="0.5882" stop-color="#d6d6d6"/><stop offset="0.7843" stop-color="#cccccc"/><stop offset="0.9804" stop-color="#b2b2b2"/><stop offset="1" stop-color="#000"/></radialGradient><linearGradient id="ctr_b" gradientUnits="userSpaceOnUse" x1="0" y1="409.9" x2="0" y2="728.9"><stop offset="0.0003" stop-color="#464646"/><stop offset="0.0944" stop-color="#737373"/><stop offset="0.2166" stop-color="#999999"/><stop offset="0.3451" stop-color="#808080"/><stop offset="0.4705" stop-color="#6c6c6c"/><stop offset="0.5959" stop-color="#4d4d4d"/><stop offset="0.7213" stop-color="#333333"/><stop offset="1.0003" stop-color="#262626"/></linearGradient><linearGradient id="an_b" gradientUnits="userSpaceOnUse" x1="0" y1="409.9" x2="0" y2="728.9"><stop offset="0.0003" stop-color="#535353"/><stop offset="0.0944" stop-color="#606060"/><stop offset="0.1884" stop-color="#868686"/><stop offset="0.2166" stop-color="#a6a6a6"/><stop offset="0.2511" stop-color="#868686"/><stop offset="0.3451" stop-color="#606060"/><stop offset="0.4705" stop-color="#535353"/><stop offset="0.5959" stop-color="#4d4d4d"/><stop offset="0.7213" stop-color="#3d3d3d"/><stop offset="0.8467" stop-color="#303030"/><stop offset="1.0003" stop-color="#292929"/></linearGradient></defs>
<g clip-path="url(#pclip_b)"><g clip-path="url(#clip_b)"><g filter="url(#cm)">
<g filter="url(#blur3)"><rect x="60.0" y="397.9" width="4.3" height="4.3" fill="#252525"/><rect x="64.0" y="397.9" width="4.3" height="4.3" fill="#282828"/><rect x="68.0" y="397.9" width="4.3" height="4.3" fill="#2a2a2a"/><rect x="72.0" y="397.9" width="4.3" height="4.3" fill="#2c2c2c"/><rect x="76.0" y="397.9" width="4.3" height="4.3" fill="#2f2f2f"/><rect x="80.0" y="397.9" width="4.3" height="4.3" fill="#303030"/><rect x="84.0" y="397.9" width="4.3" height="4.3" fill="#323232"/><rect x="88.0" y="397.9" width="4.3" height="4.3" fill="#333333"/><rect x="92.0" y="397.9" width="4.3" height="4.3" fill="#343434"/><rect x="96.0" y="397.9" width="8.3" height="4.3" fill="#353535"/><rect x="104.0" y="397.9" width="4.3" height="4.3" fill="#343434"/><rect x="108.0" y="397.9" width="4.3" height="4.3" fill="#333333"/><rect x="112.0" y="397.9" width="4.3" height="4.3" fill="#323232"/><rect x="116.0" y="397.9" width="4.3" height="4.3" fill="#303030"/><rect x="120.0" y="397.9" width="4.3" height="4.3" fill="#2f2f2f"/><rect x="124.0" y="397.9" width="4.3" height="4.3" fill="#2c2c2c"/><rect x="128.0" y="397.9" width="4.3" height="4.3" fill="#2a2a2a"/><rect x="132.0" y="397.9" width="4.3" height="4.3" fill="#282828"/><rect x="136.0" y="397.9" width="4.3" height="4.3" fill="#252525"/><rect x="140.0" y="397.9" width="4.3" height="4.3" fill="#232323"/><rect x="144.0" y="397.9" width="4.3" height="4.3" fill="#212121"/><rect x="148.0" y="397.9" width="52.3" height="4.3" fill="#1f1f1f"/><rect x="60.0" y="401.9" width="4.3" height="4.3" fill="#272727"/><rect x="64.0" y="401.9" width="4.3" height="4.3" fill="#2a2a2a"/><rect x="68.0" y="401.9" width="4.3" height="4.3" fill="#2c2c2c"/><rect x="72.0" y="401.9" width="4.3" height="4.3" fill="#2f2f2f"/><rect x="76.0" y="401.9" width="4.3" height="4.3" fill="#313131"/><rect x="80.0" y="401.9" width="4.3" height="4.3" fill="#343434"/><rect x="84.0" y="401.9" width="4.3" height="4.3" fill="#353535"/><rect x="88.0" y="401.9" width="4.3" height="4.3" fill="#373737"/><rect x="92.0" y="401.9" width="16.3" height="4.3" fill="#383838"/><rect x="108.0" y="401.9" width="4.3" height="4.3" fill="#373737"/><rect x="112.0" y="401.9" width="4.3" height="4.3" fill="#353535"/><rect x="116.0" y="401.9" width="4.3" height="4.3" fill="#343434"/><rect x="120.0" y="401.9" width="4.3" height="4.3" fill="#313131"/><rect x="124.0" y="401.9" width="4.3" height="4.3" fill="#2f2f2f"/><rect x="128.0" y="401.9" width="4.3" height="4.3" fill="#2c2c2c"/><rect x="132.0" y="401.9" width="4.3" height="4.3" fill="#2a2a2a"/><rect x="136.0" y="401.9" width="4.3" height="4.3" fill="#272727"/><rect x="140.0" y="401.9" width="4.3" height="4.3" fill="#252525"/><rect x="144.0" y="401.9" width="4.3" height="4.3" fill="#222222"/><rect x="148.0" y="401.9" width="4.3" height="4.3" fill="#202020"/><rect x="152.0" y="401.9" width="48.3" height="4.3" fill="#1f1f1f"/><rect x="60.0" y="405.9" width="4.3" height="4.3" fill="#292929"/><rect x="64.0" y="405.9" width="4.3" height="4.3" fill="#2c2c2c"/><rect x="68.0" y="405.9" width="4.3" height="4.3" fill="#2f2f2f"/><rect x="72.0" y="405.9" width="4.3" height="4.3" fill="#323232"/><rect x="76.0" y="405.9" width="4.3" height="4.3" fill="#343434"/><rect x="80.0" y="405.9" width="4.3" height="4.3" fill="#363636"/><rect x="84.0" y="405.9" width="4.3" height="4.3" fill="#393939"/><rect x="88.0" y="405.9" width="24.3" height="4.3" fill="#3a3a3a"/><rect x="112.0" y="405.9" width="4.3" height="4.3" fill="#393939"/><rect x="116.0" y="405.9" width="4.3" height="4.3" fill="#363636"/><rect x="120.0" y="405.9" width="4.3" height="4.3" fill="#343434"/><rect x="124.0" y="405.9" width="4.3" height="4.3" fill="#323232"/><rect x="128.0" y="405.9" width="4.3" height="4.3" fill="#2f2f2f"/><rect x="132.0" y="405.9" width="4.3" height="4.3" fill="#2c2c2c"/><rect x="136.0" y="405.9" width="4.3" height="4.3" fill="#292929"/><rect x="140.0" y="405.9" width="4.3" height="4.3" fill="#262626"/><rect x="144.0" y="405.9" width="4.3" height="4.3" fill="#242424"/><rect x="148.0" y="405.9" width="4.3" height="4.3" fill="#212121"/><rect x="152.0" y="405.9" width="48.3" height="4.3" fill="#1f1f1f"/><rect x="60.0" y="409.9" width="4.3" height="4.3" fill="#2a2a2a"/><rect x="64.0" y="409.9" width="4.3" height="4.3" fill="#2e2e2e"/><rect x="68.0" y="409.9" width="4.3" height="4.3" fill="#313131"/><rect x="72.0" y="409.9" width="4.3" height="4.3" fill="#343434"/><rect x="76.0" y="409.9" width="4.3" height="4.3" fill="#373737"/><rect x="80.0" y="409.9" width="4.3" height="4.3" fill="#393939"/><rect x="84.0" y="409.9" width="8.3" height="4.3" fill="#3a3a3a"/><rect x="92.0" y="409.9" width="16.3" height="4.3" fill="#3b3b3b"/><rect x="108.0" y="409.9" width="8.3" height="4.3" fill="#3a3a3a"/><rect x="116.0" y="409.9" width="4.3" height="4.3" fill="#393939"/><rect x="120.0" y="409.9" width="4.3" height="4.3" fill="#373737"/><rect x="124.0" y="409.9" width="4.3" height="4.3" fill="#343434"/><rect x="128.0" y="409.9" width="4.3" height="4.3" fill="#313131"/><rect x="132.0" y="409.9" width="4.3" height="4.3" fill="#2e2e2e"/><rect x="136.0" y="409.9" width="4.3" height="4.3" fill="#2a2a2a"/><rect x="140.0" y="409.9" width="4.3" height="4.3" fill="#282828"/><rect x="144.0" y="409.9" width="4.3" height="4.3" fill="#252525"/><rect x="148.0" y="409.9" width="4.3" height="4.3" fill="#222222"/><rect x="152.0" y="409.9" width="48.3" height="4.3" fill="#1f1f1f"/><rect x="60.0" y="413.9" width="4.3" height="4.3" fill="#2c2c2c"/><rect x="64.0" y="413.9" width="4.3" height="4.3" fill="#303030"/><rect x="68.0" y="413.9" width="4.3" height="4.3" fill="#333333"/><rect x="72.0" y="413.9" width="4.3" height="4.3" fill="#363636"/><rect x="76.0" y="413.9" width="4.3" height="4.3" fill="#393939"/><rect x="80.0" y="413.9" width="4.3" height="4.3" fill="#3a3a3a"/><rect x="84.0" y="413.9" width="12.3" height="4.3" fill="#3b3b3b"/><rect x="96.0" y="413.9" width="8.3" height="4.3" fill="#3c3c3c"/><rect x="104.0" y="413.9" width="12.3" height="4.3" fill="#3b3b3b"/><rect x="116.0" y="413.9" width="4.3" height="4.3" fill="#3a3a3a"/><rect x="120.0" y="413.9" width="4.3" height="4.3" fill="#393939"/><rect x="124.0" y="413.9" width="4.3" height="4.3" fill="#363636"/><rect x="128.0" y="413.9" width="4.3" height="4.3" fill="#333333"/><rect x="132.0" y="413.9" width="4.3" height="4.3" fill="#303030"/><rect x="136.0" y="413.9" width="4.3" height="4.3" fill="#2c2c2c"/><rect x="140.0" y="413.9" width="4.3" height="4.3" fill="#292929"/><rect x="144.0" y="413.9" width="4.3" height="4.3" fill="#262626"/><rect x="148.0" y="413.9" width="4.3" height="4.3" fill="#232323"/><rect x="152.0" y="413.9" width="4.3" height="4.3" fill="#202020"/><rect x="156.0" y="413.9" width="44.3" height="4.3" fill="#1f1f1f"/><rect x="60.0" y="417.9" width="4.3" height="4.3" fill="#2d2d2d"/><rect x="64.0" y="417.9" width="4.3" height="4.3" fill="#313131"/><rect x="68.0" y="417.9" width="4.3" height="4.3" fill="#343434"/><rect x="72.0" y="417.9" width="4.3" height="4.3" fill="#383838"/><rect x="76.0" y="417.9" width="4.3" height="4.3" fill="#3a3a3a"/><rect x="80.0" y="417.9" width="8.3" height="4.3" fill="#3b3b3b"/><rect x="88.0" y="417.9" width="8.3" height="4.3" fill="#3c3c3c"/><rect x="96.0" y="417.9" width="8.3" height="4.3" fill="#3d3d3d"/><rect x="104.0" y="417.9" width="8.3" height="4.3" fill="#3c3c3c"/><rect x="112.0" y="417.9" width="8.3" height="4.3" fill="#3b3b3b"/><rect x="120.0" y="417.9" width="4.3" height="4.3" fill="#3a3a3a"/><rect x="124.0" y="417.9" width="4.3" height="4.3" fill="#383838"/><rect x="128.0" y="417.9" width="4.3" height="4.3" fill="#343434"/><rect x="132.0" y="417.9" width="4.3" height="4.3" fill="#313131"/><rect x="136.0" y="417.9" width="4.3" height="4.3" fill="#2d2d2d"/><rect x="140.0" y="417.9" width="4.3" height="4.3" fill="#2a2a2a"/><rect x="144.0" y="417.9" width="4.3" height="4.3" fill="#272727"/><rect x="148.0" y="417.9" width="4.3" height="4.3" fill="#242424"/><rect x="152.0" y="417.9" width="4.3" height="4.3" fill="#212121"/><rect x="156.0" y="417.9" width="44.3" height="4.3" fill="#1f1f1f"/><rect x="60.0" y="421.9" width="4.3" height="4.3" fill="#2f2f2f"/><rect x="64.0" y="421.9" width="4.3" height="4.3" fill="#323232"/><rect x="68.0" y="421.9" width="4.3" height="4.3" fill="#363636"/><rect x="72.0" y="421.9" width="4.3" height="4.3" fill="#393939"/><rect x="76.0" y="421.9" width="4.3" height="4.3" fill="#3a3a3a"/><rect x="80.0" y="421.9" width="4.3" height="4.3" fill="#3b3b3b"/><rect x="84.0" y="421.9" width="8.3" height="4.3" fill="#3c3c3c"/><rect x="92.0" y="421.9" width="16.3" height="4.3" fill="#3d3d3d"/><rect x="108.0" y="421.9" width="8.3" height="4.3" fill="#3c3c3c"/><rect x="116.0" y="421.9" width="4.3" height="4.3" fill="#3b3b3b"/><rect x="120.0" y="421.9" width="4.3" height="4.3" fill="#3a3a3a"/><rect x="124.0" y="421.9" width="4.3" height="4.3" fill="#393939"/><rect x="128.0" y="421.9" width="4.3" height="4.3" fill="#363636"/><rect x="132.0" y="421.9" width="4.3" height="4.3" fill="#323232"/><rect x="136.0" y="421.9" width="4.3" height="4.3" fill="#2f2f2f"/><rect x="140.0" y="421.9" width="4.3" height="4.3" fill="#2b2b2b"/><rect x="144.0" y="421.9" width="4.3" height="4.3" fill="#282828"/><rect x="148.0" y="421.9" width="4.3" height="4.3" fill="#252525"/><rect x="152.0" y="421.9" width="4.3" height="4.3" fill="#222222"/><rect x="156.0" y="421.9" width="44.3" height="4.3" fill="#1f1f1f"/><rect x="60.0" y="425.9" width="4.3" height="4.3" fill="#2f2f2f"/><rect x="64.0" y="425.9" width="4.3" height="4.3" fill="#333333"/><rect x="68.0" y="425.9" width="4.3" height="4.3" fill="#373737"/><rect x="72.0" y="425.9" width="4.3" height="4.3" fill="#3a3a3a"/><rect x="76.0" y="425.9" width="8.3" height="4.3" fill="#3b3b3b"/><rect x="84.0" y="425.9" width="4.3" height="4.3" fill="#3c3c3c"/><rect x="88.0" y="425.9" width="4.3" height="4.3" fill="#3d3d3d"/><rect x="92.0" y="425.9" width="16.3" height="4.3" fill="#3e3e3e"/><rect x="108.0" y="425.9" width="4.3" height="4.3" fill="#3d3d3d"/><rect x="112.0" y="425.9" width="4.3" height="4.3" fill="#3c3c3c"/><rect x="116.0" y="425.9" width="8.3" height="4.3" fill="#3b3b3b"/><rect x="124.0" y="425.9" width="4.3" height="4.3" fill="#3a3a3a"/><rect x="128.0" y="425.9" width="4.3" height="4.3" fill="#373737"/><rect x="132.0" y="425.9" width="4.3" height="4.3" fill="#333333"/><rect x="136.0" y="425.9" width="4.3" height="4.3" fill="#2f2f2f"/><rect x="140.0" y="425.9" width="4.3" height="4.3" fill="#2c2c2c"/><rect x="144.0" y="425.9" width="4.3" height="4.3" fill="#282828"/><rect x="148.0" y="425.9" width="4.3" height="4.3" fill="#252525"/><rect x="152.0" y="425.9" width="4.3" height="4.3" fill="#222222"/><rect x="156.0" y="425.9" width="44.3" height="4.3" fill="#1f1f1f"/><rect x="60.0" y="429.9" width="4.3" height="4.3" fill="#303030"/><rect x="64.0" y="429.9" width="4.3" height="4.3" fill="#343434"/><rect x="68.0" y="429.9" width="4.3" height="4.3" fill="#373737"/><rect x="72.0" y="429.9" width="4.3" height="4.3" fill="#3a3a3a"/><rect x="76.0" y="429.9" width="4.3" height="4.3" fill="#3b3b3b"/><rect x="80.0" y="429.9" width="8.3" height="4.3" fill="#3c3c3c"/><rect x="88.0" y="429.9" width="4.3" height="4.3" fill="#3e3e3e"/><rect x="92.0" y="429.9" width="8.3" height="4.3" fill="#3f3f3f"/><rect x="100.0" y="429.9" width="8.3" height="4.3" fill="#404040"/><rect x="108.0" y="429.9" width="4.3" height="4.3" fill="#3f3f3f"/><rect x="112.0" y="429.9" width="4.3" height="4.3" fill="#3e3e3e"/><rect x="116.0" y="429.9" width="4.3" height="4.3" fill="#3d3d3d"/><rect x="120.0" y="429.9" width="4.3" height="4.3" fill="#3c3c3c"/><rect x="124.0" y="429.9" width="4.3" height="4.3" fill="#3a3a3a"/><rect x="128.0" y="429.9" width="4.3" height="4.3" fill="#383838"/><rect x="132.0" y="429.9" width="4.3" height="4.3" fill="#363636"/><rect x="136.0" y="429.9" width="4.3" height="4.3" fill="#323232"/><rect x="140.0" y="429.9" width="4.3" height="4.3" fill="#2f2f2f"/><rect x="144.0" y="429.9" width="4.3" height="4.3" fill="#2b2b2b"/><rect x="148.0" y="429.9" width="4.3" height="4.3" fill="#282828"/><rect x="152.0" y="429.9" width="4.3" height="4.3" fill="#252525"/><rect x="156.0" y="429.9" width="4.3" height="4.3" fill="#212121"/><rect x="160.0" y="429.9" width="40.3" height="4.3" fill="#1f1f1f"/><rect x="60.0" y="433.9" width="4.3" height="4.3" fill="#303030"/><rect x="64.0" y="433.9" width="4.3" height="4.3" fill="#343434"/><rect x="68.0" y="433.9" width="4.3" height="4.3" fill="#373737"/><rect x="72.0" y="433.9" width="4.3" height="4.3" fill="#3a3a3a"/><rect x="76.0" y="433.9" width="4.3" height="4.3" fill="#3b3b3b"/><rect x="80.0" y="433.9" width="4.3" height="4.3" fill="#3c3c3c"/><rect x="84.0" y="433.9" width="4.3" height="4.3" fill="#3e3e3e"/><rect x="88.0" y="433.9" width="4.3" height="4.3" fill="#404040"/><rect x="92.0" y="433.9" width="24.3" height="4.3" fill="#414141"/><rect x="116.0" y="433.9" width="4.3" height="4.3" fill="#404040"/><rect x="120.0" y="433.9" width="8.3" height="4.3" fill="#3f3f3f"/><rect x="128.0" y="433.9" width="4.3" height="4.3" fill="#3e3e3e"/><rect x="132.0" y="433.9" width="4.3" height="4.3" fill="#3c3c3c"/><rect x="136.0" y="433.9" width="4.3" height="4.3" fill="#393939"/><rect x="140.0" y="433.9" width="4.3" height="4.3" fill="#353535"/><rect x="144.0" y="433.9" width="4.3" height="4.3" fill="#313131"/><rect x="148.0" y="433.9" width="4.3" height="4.3" fill="#2c2c2c"/><rect x="152.0" y="433.9" width="4.3" height="4.3" fill="#282828"/><rect x="156.0" y="433.9" width="4.3" height="4.3" fill="#252525"/><rect x="160.0" y="433.9" width="4.3" height="4.3" fill="#222222"/><rect x="164.0" y="433.9" width="36.3" height="4.3" fill="#1f1f1f"/><rect x="60.0" y="437.9" width="4.3" height="4.3" fill="#303030"/><rect x="64.0" y="437.9" width="4.3" height="4.3" fill="#333333"/><rect x="68.0" y="437.9" width="4.3" height="4.3" fill="#373737"/><rect x="72.0" y="437.9" width="4.3" height="4.3" fill="#3a3a3a"/><rect x="76.0" y="437.9" width="4.3" height="4.3" fill="#3b3b3b"/><rect x="80.0" y="437.9" width="4.3" height="4.3" fill="#3e3e3e"/><rect x="84.0" y="437.9" width="4.3" height="4.3" fill="#404040"/><rect x="88.0" y="437.9" width="4.3" height="4.3" fill="#414141"/><rect x="92.0" y="437.9" width="8.3" height="4.3" fill="#424242"/><rect x="100.0" y="437.9" width="20.3" height="4.3" fill="#434343"/><rect x="120.0" y="437.9" width="8.3" height="4.3" fill="#444444"/><rect x="128.0" y="437.9" width="4.3" height="4.3" fill="#434343"/><rect x="132.0" y="437.9" width="4.3" height="4.3" fill="#424242"/><rect x="136.0" y="437.9" width="4.3" height="4.3" fill="#414141"/><rect x="140.0" y="437.9" width="4.3" height="4.3" fill="#3e3e3e"/><rect x="144.0" y="437.9" width="4.3" height="4.3" fill="#393939"/><rect x="148.0" y="437.9" width="4.3" height="4.3" fill="#343434"/><rect x="152.0" y="437.9" width="4.3" height="4.3" fill="#2f2f2f"/><rect x="156.0" y="437.9" width="4.3" height="4.3" fill="#292929"/><rect x="160.0" y="437.9" width="4.3" height="4.3" fill="#262626"/><rect x="164.0" y="437.9" width="4.3" height="4.3" fill="#222222"/><rect x="168.0" y="437.9" width="32.3" height="4.3" fill="#1f1f1f"/><rect x="60.0" y="441.9" width="4.3" height="4.3" fill="#2f2f2f"/><rect x="64.0" y="441.9" width="4.3" height="4.3" fill="#333333"/><rect x="68.0" y="441.9" width="4.3" height="4.3" fill="#363636"/><rect x="72.0" y="441.9" width="4.3" height="4.3" fill="#3a3a3a"/><rect x="76.0" y="441.9" width="4.3" height="4.3" fill="#3c3c3c"/><rect x="80.0" y="441.9" width="4.3" height="4.3" fill="#3f3f3f"/><rect x="84.0" y="441.9" width="4.3" height="4.3" fill="#414141"/><rect x="88.0" y="441.9" width="4.3" height="4.3" fill="#424242"/><rect x="92.0" y="441.9" width="4.3" height="4.3" fill="#434343"/><rect x="96.0" y="441.9" width="8.3" height="4.3" fill="#444444"/><rect x="104.0" y="441.9" width="8.3" height="4.3" fill="#454545"/><rect x="112.0" y="441.9" width="4.3" height="4.3" fill="#464646"/><rect x="116.0" y="441.9" width="4.3" height="4.3" fill="#474747"/><rect x="120.0" y="441.9" width="8.3" height="4.3" fill="#484848"/><rect x="128.0" y="441.9" width="4.3" height="4.3" fill="#474747"/><rect x="132.0" y="441.9" width="4.3" height="4.3" fill="#464646"/><rect x="136.0" y="441.9" width="4.3" height="4.3" fill="#454545"/><rect x="140.0" y="441.9" width="4.3" height="4.3" fill="#434343"/><rect x="144.0" y="441.9" width="4.3" height="4.3" fill="#414141"/><rect x="148.0" y="441.9" width="4.3" height="4.3" fill="#3c3c3c"/><rect x="152.0" y="441.9" width="4.3" height="4.3" fill="#373737"/><rect x="156.0" y="441.9" width="4.3" height="4.3" fill="#303030"/><rect x="160.0" y="441.9" width="4.3" height="4.3" fill="#292929"/><rect x="164.0" y="441.9" width="4.3" height="4.3" fill="#262626"/><rect x="168.0" y="441.9" width="4.3" height="4.3" fill="#222222"/><rect x="172.0" y="441.9" width="28.3" height="4.3" fill="#1f1f1f"/><rect x="60.0" y="445.9" width="4.3" height="4.3" fill="#2e2e2e"/><rect x="64.0" y="445.9" width="4.3" height="4.3" fill="#323232"/><rect x="68.0" y="445.9" width="4.3" height="4.3" fill="#363636"/><rect x="72.0" y="445.9" width="4.3" height="4.3" fill="#393939"/><rect x="76.0" y="445.9" width="4.3" height="4.3" fill="#3d3d3d"/><rect x="80.0" y="445.9" width="4.3" height="4.3" fill="#3f3f3f"/><rect x="84.0" y="445.9" width="4.3" height="4.3" fill="#414141"/><rect x="88.0" y="445.9" width="4.3" height="4.3" fill="#424242"/><rect x="92.0" y="445.9" width="4.3" height="4.3" fill="#444444"/><rect x="96.0" y="445.9" width="8.3" height="4.3" fill="#454545"/><rect x="104.0" y="445.9" width="4.3" height="4.3" fill="#464646"/><rect x="108.0" y="445.9" width="4.3" height="4.3" fill="#484848"/><rect x="112.0" y="445.9" width="4.3" height="4.3" fill="#4a4a4a"/><rect x="116.0" y="445.9" width="4.3" height="4.3" fill="#4b4b4b"/><rect x="120.0" y="445.9" width="8.3" height="4.3" fill="#4c4c4c"/><rect x="128.0" y="445.9" width="8.3" height="4.3" fill="#4b4b4b"/><rect x="136.0" y="445.9" width="4.3" height="4.3" fill="#494949"/><rect x="140.0" y="445.9" width="4.3" height="4.3" fill="#474747"/><rect x="144.0" y="445.9" width="4.3" height="4.3" fill="#454545"/><rect x="148.0" y="445.9" width="4.3" height="4.3" fill="#424242"/><rect x="152.0" y="445.9" width="4.3" height="4.3" fill="#3e3e3e"/><rect x="156.0" y="445.9" width="4.3" height="4.3" fill="#383838"/><rect x="160.0" y="445.9" width="4.3" height="4.3" fill="#313131"/><rect x="164.0" y="445.9" width="4.3" height="4.3" fill="#292929"/><rect x="168.0" y="445.9" width="4.3" height="4.3" fill="#262626"/><rect x="172.0" y="445.9" width="4.3" height="4.3" fill="#222222"/><rect x="176.0" y="445.9" width="24.3" height="4.3" fill="#1f1f1f"/><rect x="60.0" y="449.9" width="4.3" height="4.3" fill="#2d2d2d"/><rect x="64.0" y="449.9" width="4.3" height="4.3" fill="#313131"/><rect x="68.0" y="449.9" width="4.3" height="4.3" fill="#363636"/><rect x="72.0" y="449.9" width="4.3" height="4.3" fill="#393939"/><rect x="76.0" y="449.9" width="4.3" height="4.3" fill="#3d3d3d"/><rect x="80.0" y="449.9" width="4.3" height="4.3" fill="#404040"/><rect x="84.0" y="449.9" width="4.3" height="4.3" fill="#414141"/><rect x="88.0" y="449.9" width="4.3" height="4.3" fill="#434343"/><rect x="92.0" y="449.9" width="4.3" height="4.3" fill="#444444"/><rect x="96.0" y="449.9" width="4.3" height="4.3" fill="#454545"/><rect x="100.0" y="449.9" width="4.3" height="4.3" fill="#464646"/><rect x="104.0" y="449.9" width="4.3" height="4.3" fill="#494949"/><rect x="108.0" y="449.9" width="4.3" height="4.3" fill="#4b4b4b"/><rect x="112.0" y="449.9" width="4.3" height="4.3" fill="#4d4d4d"/><rect x="116.0" y="449.9" width="4.3" height="4.3" fill="#4f4f4f"/><rect x="120.0" y="449.9" width="4.3" height="4.3" fill="#505050"/><rect x="124.0" y="449.9" width="4.3" height="4.3" fill="#515151"/><rect x="128.0" y="449.9" width="4.3" height="4.3" fill="#505050"/><rect x="132.0" y="449.9" width="4.3" height="4.3" fill="#4f4f4f"/><rect x="136.0" y="449.9" width="4.3" height="4.3" fill="#4d4d4d"/><rect x="140.0" y="449.9" width="4.3" height="4.3" fill="#4b4b4b"/><rect x="144.0" y="449.9" width="4.3" height="4.3" fill="#494949"/><rect x="148.0" y="449.9" width="4.3" height="4.3" fill="#464646"/><rect x="152.0" y="449.9" width="4.3" height="4.3" fill="#434343"/><rect x="156.0" y="449.9" width="4.3" height="4.3" fill="#3f3f3f"/><rect x="160.0" y="449.9" width="4.3" height="4.3" fill="#373737"/><rect x="164.0" y="449.9" width="4.3" height="4.3" fill="#303030"/><rect x="168.0" y="449.9" width="4.3" height="4.3" fill="#292929"/><rect x="172.0" y="449.9" width="4.3" height="4.3" fill="#252525"/><rect x="176.0" y="449.9" width="4.3" height="4.3" fill="#212121"/><rect x="180.0" y="449.9" width="20.3" height="4.3" fill="#1f1f1f"/><rect x="60.0" y="453.9" width="4.3" height="4.3" fill="#2c2c2c"/><rect x="64.0" y="453.9" width="4.3" height="4.3" fill="#303030"/><rect x="68.0" y="453.9" width="4.3" height="4.3" fill="#353535"/><rect x="72.0" y="453.9" width="4.3" height="4.3" fill="#393939"/><rect x="76.0" y="453.9" width="4.3" height="4.3" fill="#3c3c3c"/><rect x="80.0" y="453.9" width="4.3" height="4.3" fill="#404040"/><rect x="84.0" y="453.9" width="4.3" height="4.3" fill="#414141"/><rect x="88.0" y="453.9" width="4.3" height="4.3" fill="#434343"/><rect x="92.0" y="453.9" width="8.3" height="4.3" fill="#454545"/><rect x="100.0" y="453.9" width="4.3" height="4.3" fill="#484848"/><rect x="104.0" y="453.9" width="4.3" height="4.3" fill="#4b4b4b"/><rect x="108.0" y="453.9" width="4.3" height="4.3" fill="#4e4e4e"/><rect x="112.0" y="453.9" width="4.3" height="4.3" fill="#515151"/><rect x="116.0" y="453.9" width="4.3" height="4.3" fill="#535353"/><rect x="120.0" y="453.9" width="4.3" height="4.3" fill="#555555"/><rect x="124.0" y="453.9" width="4.3" height="4.3" fill="#565656"/><rect x="128.0" y="453.9" width="4.3" height="4.3" fill="#555555"/><rect x="132.0" y="453.9" width="4.3" height="4.3" fill="#545454"/><rect x="136.0" y="453.9" width="4.3" height="4.3" fill="#525252"/><rect x="140.0" y="453.9" width="4.3" height="4.3" fill="#4f4f4f"/><rect x="144.0" y="453.9" width="4.3" height="4.3" fill="#4c4c4c"/><rect x="148.0" y="453.9" width="4.3" height="4.3" fill="#494949"/><rect x="152.0" y="453.9" width="4.3" height="4.3" fill="#464646"/><rect x="156.0" y="453.9" width="4.3" height="4.3" fill="#434343"/><rect x="160.0" y="453.9" width="4.3" height="4.3" fill="#3e3e3e"/><rect x="164.0" y="453.9" width="4.3" height="4.3" fill="#363636"/><rect x="168.0" y="453.9" width="4.3" height="4.3" fill="#2e2e2e"/><rect x="172.0" y="453.9" width="4.3" height="4.3" fill="#292929"/><rect x="176.0" y="453.9" width="4.3" height="4.3" fill="#252525"/><rect x="180.0" y="453.9" width="4.3" height="4.3" fill="#212121"/><rect x="184.0" y="453.9" width="16.3" height="4.3" fill="#1f1f1f"/><rect x="60.0" y="457.9" width="4.3" height="4.3" fill="#2a2a2a"/><rect x="64.0" y="457.9" width="4.3" height="4.3" fill="#2f2f2f"/><rect x="68.0" y="457.9" width="4.3" height="4.3" fill="#343434"/><rect x="72.0" y="457.9" width="4.3" height="4.3" fill="#383838"/><rect x="76.0" y="457.9" width="4.3" height="4.3" fill="#3c3c3c"/><rect x="80.0" y="457.9" width="4.3" height="4.3" fill="#3f3f3f"/><rect x="84.0" y="457.9" width="4.3" height="4.3" fill="#414141"/><rect x="88.0" y="457.9" width="4.3" height="4.3" fill="#434343"/><rect x="92.0" y="457.9" width="4.3" height="4.3" fill="#454545"/><rect x="96.0" y="457.9" width="4.3" height="4.3" fill="#474747"/><rect x="100.0" y="457.9" width="4.3" height="4.3" fill="#4a4a4a"/><rect x="104.0" y="457.9" width="4.3" height="4.3" fill="#4d4d4d"/><rect x="108.0" y="457.9" width="4.3" height="4.3" fill="#515151"/><rect x="112.0" y="457.9" width="4.3" height="4.3" fill="#555555"/><rect x="116.0" y="457.9" width="4.3" height="4.3" fill="#585858"/><rect x="120.0" y="457.9" width="4.3" height="4.3" fill="#5a5a5a"/><rect x="124.0" y="457.9" width="8.3" height="4.3" fill="#5b5b5b"/><rect x="132.0" y="457.9" width="4.3" height="4.3" fill="#595959"/><rect x="136.0" y="457.9" width="4.3" height="4.3" fill="#575757"/><rect x="140.0" y="457.9" width="4.3" height="4.3" fill="#545454"/><rect x="144.0" y="457.9" width="4.3" height="4.3" fill="#505050"/><rect x="148.0" y="457.9" width="4.3" height="4.3" fill="#4d4d4d"/><rect x="152.0" y="457.9" width="4.3" height="4.3" fill="#494949"/><rect x="156.0" y="457.9" width="4.3" height="4.3" fill="#464646"/><rect x="160.0" y="457.9" width="4.3" height="4.3" fill="#424242"/><rect x="164.0" y="457.9" width="4.3" height="4.3" fill="#3c3c3c"/><rect x="168.0" y="457.9" width="4.3" height="4.3" fill="#343434"/><rect x="172.0" y="457.9" width="4.3" height="4.3" fill="#2c2c2c"/><rect x="176.0" y="457.9" width="4.3" height="4.3" fill="#282828"/><rect x="180.0" y="457.9" width="4.3" height="4.3" fill="#242424"/><rect x="184.0" y="457.9" width="4.3" height="4.3" fill="#202020"/><rect x="188.0" y="457.9" width="12.3" height="4.3" fill="#1f1f1f"/><rect x="60.0" y="461.9" width="4.3" height="4.3" fill="#292929"/><rect x="64.0" y="461.9" width="4.3" height="4.3" fill="#2e2e2e"/><rect x="68.0" y="461.9" width="4.3" height="4.3" fill="#333333"/><rect x="72.0" y="461.9" width="4.3" height="4.3" fill="#373737"/><rect x="76.0" y="461.9" width="4.3" height="4.3" fill="#3b3b3b"/><rect x="80.0" y="461.9" width="4.3" height="4.3" fill="#3e3e3e"/><rect x="84.0" y="461.9" width="4.3" height="4.3" fill="#414141"/><rect x="88.0" y="461.9" width="4.3" height="4.3" fill="#434343"/><rect x="92.0" y="461.9" width="4.3" height="4.3" fill="#454545"/><rect x="96.0" y="461.9" width="4.3" height="4.3" fill="#484848"/><rect x="100.0" y="461.9" width="4.3" height="4.3" fill="#4c4c4c"/><rect x="104.0" y="461.9" width="4.3" height="4.3" fill="#505050"/><rect x="108.0" y="461.9" width="4.3" height="4.3" fill="#545454"/><rect x="112.0" y="461.9" width="4.3" height="4.3" fill="#585858"/><rect x="116.0" y="461.9" width="4.3" height="4.3" fill="#5c5c5c"/><rect x="120.0" y="461.9" width="4.3" height="4.3" fill="#5e5e5e"/><rect x="124.0" y="461.9" width="8.3" height="4.3" fill="#606060"/><rect x="132.0" y="461.9" width="4.3" height="4.3" fill="#5f5f5f"/><rect x="136.0" y="461.9" width="4.3" height="4.3" fill="#5c5c5c"/><rect x="140.0" y="461.9" width="4.3" height="4.3" fill="#595959"/><rect x="144.0" y="461.9" width="4.3" height="4.3" fill="#555555"/><rect x="148.0" y="461.9" width="4.3" height="4.3" fill="#515151"/><rect x="152.0" y="461.9" width="4.3" height="4.3" fill="#4c4c4c"/><rect x="156.0" y="461.9" width="4.3" height="4.3" fill="#494949"/><rect x="160.0" y="461.9" width="4.3" height="4.3" fill="#454545"/><rect x="164.0" y="461.9" width="4.3" height="4.3" fill="#404040"/><rect x="168.0" y="461.9" width="4.3" height="4.3" fill="#393939"/><rect x="172.0" y="461.9" width="4.3" height="4.3" fill="#303030"/><rect x="176.0" y="461.9" width="4.3" height="4.3" fill="#2b2b2b"/><rect x="180.0" y="461.9" width="4.3" height="4.3" fill="#272727"/><rect x="184.0" y="461.9" width="4.3" height="4.3" fill="#232323"/><rect x="188.0" y="461.9" width="12.3" height="4.3" fill="#1f1f1f"/><rect x="60.0" y="465.9" width="4.3" height="4.3" fill="#272727"/><rect x="64.0" y="465.9" width="4.3" height="4.3" fill="#2c2c2c"/><rect x="68.0" y="465.9" width="4.3" height="4.3" fill="#313131"/><rect x="72.0" y="465.9" width="4.3" height="4.3" fill="#363636"/><rect x="76.0" y="465.9" width="4.3" height="4.3" fill="#3a3a3a"/><rect x="80.0" y="465.9" width="4.3" height="4.3" fill="#3d3d3d"/><rect x="84.0" y="465.9" width="4.3" height="4.3" fill="#404040"/><rect x="88.0" y="465.9" width="4.3" height="4.3" fill="#424242"/><rect x="92.0" y="465.9" width="4.3" height="4.3" fill="#444444"/><rect x="96.0" y="465.9" width="4.3" height="4.3" fill="#484848"/><rect x="100.0" y="465.9" width="4.3" height="4.3" fill="#4c4c4c"/><rect x="104.0" y="465.9" width="4.3" height="4.3" fill="#515151"/><rect x="108.0" y="465.9" width="4.3" height="4.3" fill="#565656"/><rect x="112.0" y="465.9" width="4.3" height="4.3" fill="#5a5a5a"/><rect x="116.0" y="465.9" width="4.3" height="4.3" fill="#5f5f5f"/><rect x="120.0" y="465.9" width="4.3" height="4.3" fill="#636363"/><rect x="124.0" y="465.9" width="4.3" height="4.3" fill="#656565"/><rect x="128.0" y="465.9" width="4.3" height="4.3" fill="#666666"/><rect x="132.0" y="465.9" width="4.3" height="4.3" fill="#656565"/><rect x="136.0" y="465.9" width="4.3" height="4.3" fill="#626262"/><rect x="140.0" y="465.9" width="4.3" height="4.3" fill="#5e5e5e"/><rect x="144.0" y="465.9" width="4.3" height="4.3" fill="#595959"/><rect x="148.0" y="465.9" width="4.3" height="4.3" fill="#545454"/><rect x="152.0" y="465.9" width="4.3" height="4.3" fill="#4f4f4f"/><rect x="156.0" y="465.9" width="4.3" height="4.3" fill="#4b4b4b"/><rect x="160.0" y="465.9" width="4.3" height="4.3" fill="#474747"/><rect x="164.0" y="465.9" width="4.3" height="4.3" fill="#434343"/><rect x="168.0" y="465.9" width="4.3" height="4.3" fill="#3d3d3d"/><rect x="172.0" y="465.9" width="4.3" height="4.3" fill="#343434"/><rect x="176.0" y="465.9" width="4.3" height="4.3" fill="#2f2f2f"/><rect x="180.0" y="465.9" width="4.3" height="4.3" fill="#2a2a2a"/><rect x="184.0" y="465.9" width="4.3" height="4.3" fill="#262626"/><rect x="188.0" y="465.9" width="4.3" height="4.3" fill="#222222"/><rect x="192.0" y="465.9" width="8.3" height="4.3" fill="#1f1f1f"/><rect x="60.0" y="469.9" width="4.3" height="4.3" fill="#252525"/><rect x="64.0" y="469.9" width="4.3" height="4.3" fill="#292929"/><rect x="68.0" y="469.9" width="4.3" height="4.3" fill="#2f2f2f"/><rect x="72.0" y="469.9" width="4.3" height="4.3" fill="#343434"/><rect x="76.0" y="469.9" width="4.3" height="4.3" fill="#383838"/><rect x="80.0" y="469.9" width="4.3" height="4.3" fill="#3c3c3c"/><rect x="84.0" y="469.9" width="4.3" height="4.3" fill="#404040"/><rect x="88.0" y="469.9" width="4.3" height="4.3" fill="#424242"/><rect x="92.0" y="469.9" width="4.3" height="4.3" fill="#444444"/><rect x="96.0" y="469.9" width="4.3" height="4.3" fill="#494949"/><rect x="100.0" y="469.9" width="4.3" height="4.3" fill="#4d4d4d"/><rect x="104.0" y="469.9" width="4.3" height="4.3" fill="#525252"/><rect x="108.0" y="469.9" width="4.3" height="4.3" fill="#575757"/><rect x="112.0" y="469.9" width="4.3" height="4.3" fill="#5c5c5c"/><rect x="116.0" y="469.9" width="4.3" height="4.3" fill="#616161"/><rect x="120.0" y="469.9" width="4.3" height="4.3" fill="#666666"/><rect x="124.0" y="469.9" width="4.3" height="4.3" fill="#686868"/><rect x="128.0" y="469.9" width="4.3" height="4.3" fill="#696969"/><rect x="132.0" y="469.9" width="4.3" height="4.3" fill="#686868"/><rect x="136.0" y="469.9" width="4.3" height="4.3" fill="#666666"/><rect x="140.0" y="469.9" width="4.3" height="4.3" fill="#626262"/><rect x="144.0" y="469.9" width="4.3" height="4.3" fill="#5d5d5d"/><rect x="148.0" y="469.9" width="4.3" height="4.3" fill="#575757"/><rect x="152.0" y="469.9" width="4.3" height="4.3" fill="#525252"/><rect x="156.0" y="469.9" width="4.3" height="4.3" fill="#4d4d4d"/><rect x="160.0" y="469.9" width="4.3" height="4.3" fill="#494949"/><rect x="164.0" y="469.9" width="4.3" height="4.3" fill="#454545"/><rect x="168.0" y="469.9" width="4.3" height="4.3" fill="#404040"/><rect x="172.0" y="469.9" width="4.3" height="4.3" fill="#383838"/><rect x="176.0" y="469.9" width="4.3" height="4.3" fill="#323232"/><rect x="180.0" y="469.9" width="4.3" height="4.3" fill="#2d2d2d"/><rect x="184.0" y="469.9" width="4.3" height="4.3" fill="#282828"/><rect x="188.0" y="469.9" width="4.3" height="4.3" fill="#242424"/><rect x="192.0" y="469.9" width="4.3" height="4.3" fill="#202020"/><rect x="196.0" y="469.9" width="4.3" height="4.3" fill="#1f1f1f"/><rect x="60.0" y="473.9" width="4.3" height="4.3" fill="#232323"/><rect x="64.0" y="473.9" width="4.3" height="4.3" fill="#272727"/><rect x="68.0" y="473.9" width="4.3" height="4.3" fill="#2c2c2c"/><rect x="72.0" y="473.9" width="4.3" height="4.3" fill="#313131"/><rect x="76.0" y="473.9" width="4.3" height="4.3" fill="#363636"/><rect x="80.0" y="473.9" width="4.3" height="4.3" fill="#3a3a3a"/><rect x="84.0" y="473.9" width="4.3" height="4.3" fill="#3e3e3e"/><rect x="88.0" y="473.9" width="4.3" height="4.3" fill="#414141"/><rect x="92.0" y="473.9" width="4.3" height="4.3" fill="#444444"/><rect x="96.0" y="473.9" width="4.3" height="4.3" fill="#484848"/><rect x="100.0" y="473.9" width="4.3" height="4.3" fill="#4d4d4d"/><rect x="104.0" y="473.9" width="4.3" height="4.3" fill="#525252"/><rect x="108.0" y="473.9" width="4.3" height="4.3" fill="#575757"/><rect x="112.0" y="473.9" width="4.3" height="4.3" fill="#5d5d5d"/><rect x="116.0" y="473.9" width="4.3" height="4.3" fill="#636363"/><rect x="120.0" y="473.9" width="4.3" height="4.3" fill="#676767"/><rect x="124.0" y="473.9" width="4.3" height="4.3" fill="#6a6a6a"/><rect x="128.0" y="473.9" width="8.3" height="4.3" fill="#6c6c6c"/><rect x="136.0" y="473.9" width="4.3" height="4.3" fill="#696969"/><rect x="140.0" y="473.9" width="4.3" height="4.3" fill="#666666"/><rect x="144.0" y="473.9" width="4.3" height="4.3" fill="#606060"/><rect x="148.0" y="473.9" width="4.3" height="4.3" fill="#5a5a5a"/><rect x="152.0" y="473.9" width="4.3" height="4.3" fill="#555555"/><rect x="156.0" y="473.9" width="4.3" height="4.3" fill="#4f4f4f"/><rect x="160.0" y="473.9" width="4.3" height="4.3" fill="#4b4b4b"/><rect x="164.0" y="473.9" width="4.3" height="4.3" fill="#464646"/><rect x="168.0" y="473.9" width="4.3" height="4.3" fill="#424242"/><rect x="172.0" y="473.9" width="4.3" height="4.3" fill="#3b3b3b"/><rect x="176.0" y="473.9" width="4.3" height="4.3" fill="#363636"/><rect x="180.0" y="473.9" width="4.3" height="4.3" fill="#303030"/><rect x="184.0" y="473.9" width="4.3" height="4.3" fill="#2b2b2b"/><rect x="188.0" y="473.9" width="4.3" height="4.3" fill="#272727"/><rect x="192.0" y="473.9" width="4.3" height="4.3" fill="#232323"/><rect x="196.0" y="473.9" width="4.3" height="4.3" fill="#1f1f1f"/><rect x="60.0" y="477.9" width="4.3" height="4.3" fill="#212121"/><rect x="64.0" y="477.9" width="4.3" height="4.3" fill="#252525"/><rect x="68.0" y="477.9" width="4.3" height="4.3" fill="#292929"/><rect x="72.0" y="477.9" width="4.3" height="4.3" fill="#2e2e2e"/><rect x="76.0" y="477.9" width="4.3" height="4.3" fill="#343434"/><rect x="80.0" y="477.9" width="4.3" height="4.3" fill="#383838"/><rect x="84.0" y="477.9" width="4.3" height="4.3" fill="#3c3c3c"/><rect x="88.0" y="477.9" width="4.3" height="4.3" fill="#404040"/><rect x="92.0" y="477.9" width="4.3" height="4.3" fill="#434343"/><rect x="96.0" y="477.9" width="4.3" height="4.3" fill="#484848"/><rect x="100.0" y="477.9" width="4.3" height="4.3" fill="#4c4c4c"/><rect x="104.0" y="477.9" width="4.3" height="4.3" fill="#515151"/><rect x="108.0" y="477.9" width="4.3" height="4.3" fill="#565656"/><rect x="112.0" y="477.9" width="4.3" height="4.3" fill="#5c5c5c"/><rect x="116.0" y="477.9" width="4.3" height="4.3" fill="#626262"/><rect x="120.0" y="477.9" width="4.3" height="4.3" fill="#676767"/><rect x="124.0" y="477.9" width="4.3" height="4.3" fill="#6b6b6b"/><rect x="128.0" y="477.9" width="8.3" height="4.3" fill="#6e6e6e"/><rect x="136.0" y="477.9" width="4.3" height="4.3" fill="#6a6a6a"/><rect x="140.0" y="477.9" width="4.3" height="4.3" fill="#676767"/><rect x="144.0" y="477.9" width="4.3" height="4.3" fill="#626262"/><rect x="148.0" y="477.9" width="4.3" height="4.3" fill="#5c5c5c"/><rect x="152.0" y="477.9" width="4.3" height="4.3" fill="#565656"/><rect x="156.0" y="477.9" width="4.3" height="4.3" fill="#515151"/><rect x="160.0" y="477.9" width="4.3" height="4.3" fill="#4c4c4c"/><rect x="164.0" y="477.9" width="4.3" height="4.3" fill="#484848"/><rect x="168.0" y="477.9" width="4.3" height="4.3" fill="#434343"/><rect x="172.0" y="477.9" width="4.3" height="4.3" fill="#3e3e3e"/><rect x="176.0" y="477.9" width="4.3" height="4.3" fill="#383838"/><rect x="180.0" y="477.9" width="4.3" height="4.3" fill="#333333"/><rect x="184.0" y="477.9" width="4.3" height="4.3" fill="#2e2e2e"/><rect x="188.0" y="477.9" width="4.3" height="4.3" fill="#292929"/><rect x="192.0" y="477.9" width="4.3" height="4.3" fill="#252525"/><rect x="196.0" y="477.9" width="4.3" height="4.3" fill="#212121"/><rect x="60.0" y="481.9" width="4.3" height="4.3" fill="#1f1f1f"/><rect x="64.0" y="481.9" width="4.3" height="4.3" fill="#232323"/><rect x="68.0" y="481.9" width="4.3" height="4.3" fill="#272727"/><rect x="72.0" y="481.9" width="4.3" height="4.3" fill="#2c2c2c"/><rect x="76.0" y="481.9" width="4.3" height="4.3" fill="#313131"/><rect x="80.0" y="481.9" width="4.3" height="4.3" fill="#363636"/><rect x="84.0" y="481.9" width="4.3" height="4.3" fill="#3a3a3a"/><rect x="88.0" y="481.9" width="4.3" height="4.3" fill="#3d3d3d"/><rect x="92.0" y="481.9" width="4.3" height="4.3" fill="#424242"/><rect x="96.0" y="481.9" width="4.3" height="4.3" fill="#464646"/><rect x="100.0" y="481.9" width="4.3" height="4.3" fill="#4b4b4b"/><rect x="104.0" y="481.9" width="4.3" height="4.3" fill="#4f4f4f"/><rect x="108.0" y="481.9" width="4.3" height="4.3" fill="#555555"/><rect x="112.0" y="481.9" width="4.3" height="4.3" fill="#5a5a5a"/><rect x="116.0" y="481.9" width="4.3" height="4.3" fill="#606060"/><rect x="120.0" y="481.9" width="4.3" height="4.3" fill="#666666"/><rect x="124.0" y="481.9" width="4.3" height="4.3" fill="#696969"/><rect x="128.0" y="481.9" width="8.3" height="4.3" fill="#6c6c6c"/><rect x="136.0" y="481.9" width="4.3" height="4.3" fill="#6a6a6a"/><rect x="140.0" y="481.9" width="4.3" height="4.3" fill="#676767"/><rect x="144.0" y="481.9" width="4.3" height="4.3" fill="#636363"/><rect x="148.0" y="481.9" width="4.3" height="4.3" fill="#5d5d5d"/><rect x="152.0" y="481.9" width="4.3" height="4.3" fill="#575757"/><rect x="156.0" y="481.9" width="4.3" height="4.3" fill="#525252"/><rect x="160.0" y="481.9" width="4.3" height="4.3" fill="#4d4d4d"/><rect x="164.0" y="481.9" width="4.3" height="4.3" fill="#484848"/><rect x="168.0" y="481.9" width="4.3" height="4.3" fill="#444444"/><rect x="172.0" y="481.9" width="4.3" height="4.3" fill="#3f3f3f"/><rect x="176.0" y="481.9" width="4.3" height="4.3" fill="#3a3a3a"/><rect x="180.0" y="481.9" width="4.3" height="4.3" fill="#363636"/><rect x="184.0" y="481.9" width="4.3" height="4.3" fill="#313131"/><rect x="188.0" y="481.9" width="4.3" height="4.3" fill="#2c2c2c"/><rect x="192.0" y="481.9" width="4.3" height="4.3" fill="#272727"/><rect x="196.0" y="481.9" width="4.3" height="4.3" fill="#232323"/><rect x="60.0" y="485.9" width="4.3" height="4.3" fill="#1f1f1f"/><rect x="64.0" y="485.9" width="4.3" height="4.3" fill="#202020"/><rect x="68.0" y="485.9" width="4.3" height="4.3" fill="#242424"/><rect x="72.0" y="485.9" width="4.3" height="4.3" fill="#292929"/><rect x="76.0" y="485.9" width="4.3" height="4.3" fill="#2d2d2d"/><rect x="80.0" y="485.9" width="4.3" height="4.3" fill="#323232"/><rect x="84.0" y="485.9" width="4.3" height="4.3" fill="#373737"/><rect x="88.0" y="485.9" width="4.3" height="4.3" fill="#3b3b3b"/><rect x="92.0" y="485.9" width="4.3" height="4.3" fill="#404040"/><rect x="96.0" y="485.9" width="4.3" height="4.3" fill="#454545"/><rect x="100.0" y="485.9" width="4.3" height="4.3" fill="#494949"/><rect x="104.0" y="485.9" width="4.3" height="4.3" fill="#4d4d4d"/><rect x="108.0" y="485.9" width="4.3" height="4.3" fill="#525252"/><rect x="112.0" y="485.9" width="4.3" height="4.3" fill="#585858"/><rect x="116.0" y="485.9" width="4.3" height="4.3" fill="#5d5d5d"/><rect x="120.0" y="485.9" width="4.3" height="4.3" fill="#626262"/><rect x="124.0" y="485.9" width="4.3" height="4.3" fill="#676767"/><rect x="128.0" y="485.9" width="8.3" height="4.3" fill="#696969"/><rect x="136.0" y="485.9" width="4.3" height="4.3" fill="#686868"/><rect x="140.0" y="485.9" width="4.3" height="4.3" fill="#666666"/><rect x="144.0" y="485.9" width="4.3" height="4.3" fill="#626262"/><rect x="148.0" y="485.9" width="4.3" height="4.3" fill="#5c5c5c"/><rect x="152.0" y="485.9" width="4.3" height="4.3" fill="#575757"/><rect x="156.0" y="485.9" width="4.3" height="4.3" fill="#525252"/><rect x="160.0" y="485.9" width="4.3" height="4.3" fill="#4d4d4d"/><rect x="164.0" y="485.9" width="4.3" height="4.3" fill="#494949"/><rect x="168.0" y="485.9" width="4.3" height="4.3" fill="#444444"/><rect x="172.0" y="485.9" width="4.3" height="4.3" fill="#404040"/><rect x="176.0" y="485.9" width="4.3" height="4.3" fill="#3c3c3c"/><rect x="180.0" y="485.9" width="4.3" height="4.3" fill="#383838"/><rect x="184.0" y="485.9" width="4.3" height="4.3" fill="#343434"/><rect x="188.0" y="485.9" width="4.3" height="4.3" fill="#2e2e2e"/><rect x="192.0" y="485.9" width="4.3" height="4.3" fill="#292929"/><rect x="196.0" y="485.9" width="4.3" height="4.3" fill="#252525"/><rect x="60.0" y="489.9" width="8.3" height="4.3" fill="#1f1f1f"/><rect x="68.0" y="489.9" width="4.3" height="4.3" fill="#222222"/><rect x="72.0" y="489.9" width="4.3" height="4.3" fill="#262626"/><rect x="76.0" y="489.9" width="4.3" height="4.3" fill="#2a2a2a"/><rect x="80.0" y="489.9" width="4.3" height="4.3" fill="#2f2f2f"/><rect x="84.0" y="489.9" width="4.3" height="4.3" fill="#343434"/><rect x="88.0" y="489.9" width="4.3" height="4.3" fill="#383838"/><rect x="92.0" y="489.9" width="4.3" height="4.3" fill="#3d3d3d"/><rect x="96.0" y="489.9" width="4.3" height="4.3" fill="#434343"/><rect x="100.0" y="489.9" width="4.3" height="4.3" fill="#474747"/><rect x="104.0" y="489.9" width="4.3" height="4.3" fill="#4b4b4b"/><rect x="108.0" y="489.9" width="4.3" height="4.3" fill="#505050"/><rect x="112.0" y="489.9" width="4.3" height="4.3" fill="#545454"/><rect x="116.0" y="489.9" width="4.3" height="4.3" fill="#595959"/><rect x="120.0" y="489.9" width="4.3" height="4.3" fill="#5e5e5e"/><rect x="124.0" y="489.9" width="4.3" height="4.3" fill="#626262"/><rect x="128.0" y="489.9" width="4.3" height="4.3" fill="#656565"/><rect x="132.0" y="489.9" width="8.3" height="4.3" fill="#666666"/><rect x="140.0" y="489.9" width="4.3" height="4.3" fill="#636363"/><rect x="144.0" y="489.9" width="4.3" height="4.3" fill="#5f5f5f"/><rect x="148.0" y="489.9" width="4.3" height="4.3" fill="#5b5b5b"/><rect x="152.0" y="489.9" width="4.3" height="4.3" fill="#565656"/><rect x="156.0" y="489.9" width="4.3" height="4.3" fill="#515151"/><rect x="160.0" y="489.9" width="4.3" height="4.3" fill="#4c4c4c"/><rect x="164.0" y="489.9" width="4.3" height="4.3" fill="#484848"/><rect x="168.0" y="489.9" width="4.3" height="4.3" fill="#444444"/><rect x="172.0" y="489.9" width="4.3" height="4.3" fill="#404040"/><rect x="176.0" y="489.9" width="4.3" height="4.3" fill="#3d3d3d"/><rect x="180.0" y="489.9" width="4.3" height="4.3" fill="#3a3a3a"/><rect x="184.0" y="489.9" width="4.3" height="4.3" fill="#363636"/><rect x="188.0" y="489.9" width="4.3" height="4.3" fill="#313131"/><rect x="192.0" y="489.9" width="4.3" height="4.3" fill="#2c2c2c"/><rect x="196.0" y="489.9" width="4.3" height="4.3" fill="#272727"/><rect x="60.0" y="493.9" width="12.3" height="4.3" fill="#1f1f1f"/><rect x="72.0" y="493.9" width="4.3" height="4.3" fill="#232323"/><rect x="76.0" y="493.9" width="4.3" height="4.3" fill="#272727"/><rect x="80.0" y="493.9" width="4.3" height="4.3" fill="#2b2b2b"/><rect x="84.0" y="493.9" width="4.3" height="4.3" fill="#303030"/><rect x="88.0" y="493.9" width="4.3" height="4.3" fill="#353535"/><rect x="92.0" y="493.9" width="4.3" height="4.3" fill="#393939"/><rect x="96.0" y="493.9" width="4.3" height="4.3" fill="#414141"/><rect x="100.0" y="493.9" width="4.3" height="4.3" fill="#454545"/><rect x="104.0" y="493.9" width="4.3" height="4.3" fill="#494949"/><rect x="108.0" y="493.9" width="4.3" height="4.3" fill="#4c4c4c"/><rect x="112.0" y="493.9" width="4.3" height="4.3" fill="#515151"/><rect x="116.0" y="493.9" width="4.3" height="4.3" fill="#555555"/><rect x="120.0" y="493.9" width="4.3" height="4.3" fill="#595959"/><rect x="124.0" y="493.9" width="4.3" height="4.3" fill="#5d5d5d"/><rect x="128.0" y="493.9" width="4.3" height="4.3" fill="#5f5f5f"/><rect x="132.0" y="493.9" width="4.3" height="4.3" fill="#616161"/><rect x="136.0" y="493.9" width="4.3" height="4.3" fill="#606060"/><rect x="140.0" y="493.9" width="4.3" height="4.3" fill="#5f5f5f"/><rect x="144.0" y="493.9" width="4.3" height="4.3" fill="#5c5c5c"/><rect x="148.0" y="493.9" width="4.3" height="4.3" fill="#585858"/><rect x="152.0" y="493.9" width="4.3" height="4.3" fill="#545454"/><rect x="156.0" y="493.9" width="4.3" height="4.3" fill="#505050"/><rect x="160.0" y="493.9" width="4.3" height="4.3" fill="#4c4c4c"/><rect x="164.0" y="493.9" width="4.3" height="4.3" fill="#484848"/><rect x="168.0" y="493.9" width="4.3" height="4.3" fill="#444444"/><rect x="172.0" y="493.9" width="4.3" height="4.3" fill="#414141"/><rect x="176.0" y="493.9" width="4.3" height="4.3" fill="#3e3e3e"/><rect x="180.0" y="493.9" width="4.3" height="4.3" fill="#3b3b3b"/><rect x="184.0" y="493.9" width="4.3" height="4.3" fill="#373737"/><rect x="188.0" y="493.9" width="4.3" height="4.3" fill="#323232"/><rect x="192.0" y="493.9" width="4.3" height="4.3" fill="#2e2e2e"/><rect x="196.0" y="493.9" width="4.3" height="4.3" fill="#292929"/><rect x="60.0" y="497.9" width="12.3" height="4.3" fill="#1f1f1f"/><rect x="72.0" y="497.9" width="4.3" height="4.3" fill="#202020"/><rect x="76.0" y="497.9" width="4.3" height="4.3" fill="#242424"/><rect x="80.0" y="497.9" width="4.3" height="4.3" fill="#282828"/><rect x="84.0" y="497.9" width="4.3" height="4.3" fill="#2c2c2c"/><rect x="88.0" y="497.9" width="4.3" height="4.3" fill="#313131"/><rect x="92.0" y="497.9" width="4.3" height="4.3" fill="#363636"/><rect x="96.0" y="497.9" width="4.3" height="4.3" fill="#3c3c3c"/><rect x="100.0" y="497.9" width="4.3" height="4.3" fill="#424242"/><rect x="104.0" y="497.9" width="4.3" height="4.3" fill="#464646"/><rect x="108.0" y="497.9" width="4.3" height="4.3" fill="#494949"/><rect x="112.0" y="497.9" width="4.3" height="4.3" fill="#4d4d4d"/><rect x="116.0" y="497.9" width="4.3" height="4.3" fill="#515151"/><rect x="120.0" y="497.9" width="4.3" height="4.3" fill="#545454"/><rect x="124.0" y="497.9" width="4.3" height="4.3" fill="#575757"/><rect x="128.0" y="497.9" width="4.3" height="4.3" fill="#595959"/><rect x="132.0" y="497.9" width="8.3" height="4.3" fill="#5b5b5b"/><rect x="140.0" y="497.9" width="4.3" height="4.3" fill="#5a5a5a"/><rect x="144.0" y="497.9" width="4.3" height="4.3" fill="#585858"/><rect x="148.0" y="497.9" width="4.3" height="4.3" fill="#555555"/><rect x="152.0" y="497.9" width="4.3" height="4.3" fill="#515151"/><rect x="156.0" y="497.9" width="4.3" height="4.3" fill="#4e4e4e"/><rect x="160.0" y="497.9" width="4.3" height="4.3" fill="#4a4a4a"/><rect x="164.0" y="497.9" width="4.3" height="4.3" fill="#474747"/><rect x="168.0" y="497.9" width="4.3" height="4.3" fill="#434343"/><rect x="172.0" y="497.9" width="4.3" height="4.3" fill="#414141"/><rect x="176.0" y="497.9" width="4.3" height="4.3" fill="#3f3f3f"/><rect x="180.0" y="497.9" width="4.3" height="4.3" fill="#3c3c3c"/><rect x="184.0" y="497.9" width="4.3" height="4.3" fill="#383838"/><rect x="188.0" y="497.9" width="4.3" height="4.3" fill="#343434"/><rect x="192.0" y="497.9" width="4.3" height="4.3" fill="#2f2f2f"/><rect x="196.0" y="497.9" width="4.3" height="4.3" fill="#2a2a2a"/><rect x="60.0" y="501.9" width="16.3" height="4.3" fill="#1f1f1f"/><rect x="76.0" y="501.9" width="4.3" height="4.3" fill="#212121"/><rect x="80.0" y="501.9" width="4.3" height="4.3" fill="#252525"/><rect x="84.0" y="501.9" width="4.3" height="4.3" fill="#292929"/><rect x="88.0" y="501.9" width="4.3" height="4.3" fill="#2d2d2d"/><rect x="92.0" y="501.9" width="4.3" height="4.3" fill="#323232"/><rect x="96.0" y="501.9" width="4.3" height="4.3" fill="#373737"/><rect x="100.0" y="501.9" width="4.3" height="4.3" fill="#3e3e3e"/><rect x="104.0" y="501.9" width="4.3" height="4.3" fill="#434343"/><rect x="108.0" y="501.9" width="4.3" height="4.3" fill="#464646"/><rect x="112.0" y="501.9" width="4.3" height="4.3" fill="#4a4a4a"/><rect x="116.0" y="501.9" width="4.3" height="4.3" fill="#4c4c4c"/><rect x="120.0" y="501.9" width="4.3" height="4.3" fill="#4f4f4f"/><rect x="124.0" y="501.9" width="4.3" height="4.3" fill="#525252"/><rect x="128.0" y="501.9" width="4.3" height="4.3" fill="#545454"/><rect x="132.0" y="501.9" width="8.3" height="4.3" fill="#565656"/><rect x="140.0" y="501.9" width="4.3" height="4.3" fill="#555555"/><rect x="144.0" y="501.9" width="4.3" height="4.3" fill="#545454"/><rect x="148.0" y="501.9" width="4.3" height="4.3" fill="#515151"/><rect x="152.0" y="501.9" width="4.3" height="4.3" fill="#4e4e4e"/><rect x="156.0" y="501.9" width="4.3" height="4.3" fill="#4b4b4b"/><rect x="160.0" y="501.9" width="4.3" height="4.3" fill="#484848"/><rect x="164.0" y="501.9" width="4.3" height="4.3" fill="#454545"/><rect x="168.0" y="501.9" width="4.3" height="4.3" fill="#434343"/><rect x="172.0" y="501.9" width="4.3" height="4.3" fill="#414141"/><rect x="176.0" y="501.9" width="4.3" height="4.3" fill="#404040"/><rect x="180.0" y="501.9" width="4.3" height="4.3" fill="#3c3c3c"/><rect x="184.0" y="501.9" width="4.3" height="4.3" fill="#393939"/><rect x="188.0" y="501.9" width="4.3" height="4.3" fill="#353535"/><rect x="192.0" y="501.9" width="4.3" height="4.3" fill="#303030"/><rect x="196.0" y="501.9" width="4.3" height="4.3" fill="#2c2c2c"/><rect x="60.0" y="505.9" width="20.3" height="4.3" fill="#1f1f1f"/><rect x="80.0" y="505.9" width="4.3" height="4.3" fill="#222222"/><rect x="84.0" y="505.9" width="4.3" height="4.3" fill="#252525"/><rect x="88.0" y="505.9" width="4.3" height="4.3" fill="#292929"/><rect x="92.0" y="505.9" width="4.3" height="4.3" fill="#2e2e2e"/><rect x="96.0" y="505.9" width="4.3" height="4.3" fill="#323232"/><rect x="100.0" y="505.9" width="4.3" height="4.3" fill="#383838"/><rect x="104.0" y="505.9" width="4.3" height="4.3" fill="#3f3f3f"/><rect x="108.0" y="505.9" width="4.3" height="4.3" fill="#434343"/><rect x="112.0" y="505.9" width="4.3" height="4.3" fill="#464646"/><rect x="116.0" y="505.9" width="4.3" height="4.3" fill="#494949"/><rect x="120.0" y="505.9" width="4.3" height="4.3" fill="#4b4b4b"/><rect x="124.0" y="505.9" width="4.3" height="4.3" fill="#4d4d4d"/><rect x="128.0" y="505.9" width="4.3" height="4.3" fill="#4f4f4f"/><rect x="132.0" y="505.9" width="4.3" height="4.3" fill="#505050"/><rect x="136.0" y="505.9" width="4.3" height="4.3" fill="#515151"/><rect x="140.0" y="505.9" width="4.3" height="4.3" fill="#505050"/><rect x="144.0" y="505.9" width="4.3" height="4.3" fill="#4f4f4f"/><rect x="148.0" y="505.9" width="4.3" height="4.3" fill="#4d4d4d"/><rect x="152.0" y="505.9" width="4.3" height="4.3" fill="#4b4b4b"/><rect x="156.0" y="505.9" width="4.3" height="4.3" fill="#494949"/><rect x="160.0" y="505.9" width="4.3" height="4.3" fill="#464646"/><rect x="164.0" y="505.9" width="4.3" height="4.3" fill="#444444"/><rect x="168.0" y="505.9" width="4.3" height="4.3" fill="#434343"/><rect x="172.0" y="505.9" width="4.3" height="4.3" fill="#414141"/><rect x="176.0" y="505.9" width="4.3" height="4.3" fill="#404040"/><rect x="180.0" y="505.9" width="4.3" height="4.3" fill="#3d3d3d"/><rect x="184.0" y="505.9" width="4.3" height="4.3" fill="#393939"/><rect x="188.0" y="505.9" width="4.3" height="4.3" fill="#363636"/><rect x="192.0" y="505.9" width="4.3" height="4.3" fill="#313131"/><rect x="196.0" y="505.9" width="4.3" height="4.3" fill="#2d2d2d"/><rect x="60.0" y="509.9" width="24.3" height="4.3" fill="#1f1f1f"/><rect x="84.0" y="509.9" width="4.3" height="4.3" fill="#222222"/><rect x="88.0" y="509.9" width="4.3" height="4.3" fill="#262626"/><rect x="92.0" y="509.9" width="4.3" height="4.3" fill="#292929"/><rect x="96.0" y="509.9" width="4.3" height="4.3" fill="#2e2e2e"/><rect x="100.0" y="509.9" width="4.3" height="4.3" fill="#323232"/><rect x="104.0" y="509.9" width="4.3" height="4.3" fill="#383838"/><rect x="108.0" y="509.9" width="4.3" height="4.3" fill="#3e3e3e"/><rect x="112.0" y="509.9" width="4.3" height="4.3" fill="#424242"/><rect x="116.0" y="509.9" width="4.3" height="4.3" fill="#454545"/><rect x="120.0" y="509.9" width="4.3" height="4.3" fill="#474747"/><rect x="124.0" y="509.9" width="4.3" height="4.3" fill="#494949"/><rect x="128.0" y="509.9" width="4.3" height="4.3" fill="#4b4b4b"/><rect x="132.0" y="509.9" width="12.3" height="4.3" fill="#4c4c4c"/><rect x="144.0" y="509.9" width="4.3" height="4.3" fill="#4b4b4b"/><rect x="148.0" y="509.9" width="4.3" height="4.3" fill="#4a4a4a"/><rect x="152.0" y="509.9" width="4.3" height="4.3" fill="#484848"/><rect x="156.0" y="509.9" width="4.3" height="4.3" fill="#464646"/><rect x="160.0" y="509.9" width="4.3" height="4.3" fill="#454545"/><rect x="164.0" y="509.9" width="4.3" height="4.3" fill="#444444"/><rect x="168.0" y="509.9" width="4.3" height="4.3" fill="#424242"/><rect x="172.0" y="509.9" width="4.3" height="4.3" fill="#414141"/><rect x="176.0" y="509.9" width="4.3" height="4.3" fill="#3f3f3f"/><rect x="180.0" y="509.9" width="4.3" height="4.3" fill="#3d3d3d"/><rect x="184.0" y="509.9" width="4.3" height="4.3" fill="#393939"/><rect x="188.0" y="509.9" width="4.3" height="4.3" fill="#363636"/><rect x="192.0" y="509.9" width="4.3" height="4.3" fill="#323232"/><rect x="196.0" y="509.9" width="4.3" height="4.3" fill="#2d2d2d"/><rect x="60.0" y="513.9" width="28.3" height="4.3" fill="#1f1f1f"/><rect x="88.0" y="513.9" width="4.3" height="4.3" fill="#222222"/><rect x="92.0" y="513.9" width="4.3" height="4.3" fill="#262626"/><rect x="96.0" y="513.9" width="4.3" height="4.3" fill="#292929"/><rect x="100.0" y="513.9" width="4.3" height="4.3" fill="#2e2e2e"/><rect x="104.0" y="513.9" width="4.3" height="4.3" fill="#323232"/><rect x="108.0" y="513.9" width="4.3" height="4.3" fill="#373737"/><rect x="112.0" y="513.9" width="4.3" height="4.3" fill="#3d3d3d"/><rect x="116.0" y="513.9" width="4.3" height="4.3" fill="#414141"/><rect x="120.0" y="513.9" width="4.3" height="4.3" fill="#434343"/><rect x="124.0" y="513.9" width="4.3" height="4.3" fill="#454545"/><rect x="128.0" y="513.9" width="4.3" height="4.3" fill="#474747"/><rect x="132.0" y="513.9" width="16.3" height="4.3" fill="#484848"/><rect x="148.0" y="513.9" width="4.3" height="4.3" fill="#474747"/><rect x="152.0" y="513.9" width="4.3" height="4.3" fill="#454545"/><rect x="156.0" y="513.9" width="8.3" height="4.3" fill="#444444"/><rect x="164.0" y="513.9" width="4.3" height="4.3" fill="#434343"/><rect x="168.0" y="513.9" width="4.3" height="4.3" fill="#424242"/><rect x="172.0" y="513.9" width="4.3" height="4.3" fill="#414141"/><rect x="176.0" y="513.9" width="4.3" height="4.3" fill="#3f3f3f"/><rect x="180.0" y="513.9" width="4.3" height="4.3" fill="#3c3c3c"/><rect x="184.0" y="513.9" width="4.3" height="4.3" fill="#393939"/><rect x="188.0" y="513.9" width="4.3" height="4.3" fill="#363636"/><rect x="192.0" y="513.9" width="4.3" height="4.3" fill="#323232"/><rect x="196.0" y="513.9" width="4.3" height="4.3" fill="#2e2e2e"/><rect x="60.0" y="517.9" width="32.3" height="4.3" fill="#1f1f1f"/><rect x="92.0" y="517.9" width="4.3" height="4.3" fill="#222222"/><rect x="96.0" y="517.9" width="4.3" height="4.3" fill="#262626"/><rect x="100.0" y="517.9" width="4.3" height="4.3" fill="#292929"/><rect x="104.0" y="517.9" width="4.3" height="4.3" fill="#2d2d2d"/><rect x="108.0" y="517.9" width="4.3" height="4.3" fill="#313131"/><rect x="112.0" y="517.9" width="4.3" height="4.3" fill="#353535"/><rect x="116.0" y="517.9" width="4.3" height="4.3" fill="#3a3a3a"/><rect x="120.0" y="517.9" width="4.3" height="4.3" fill="#3e3e3e"/><rect x="124.0" y="517.9" width="4.3" height="4.3" fill="#414141"/><rect x="128.0" y="517.9" width="4.3" height="4.3" fill="#424242"/><rect x="132.0" y="517.9" width="4.3" height="4.3" fill="#434343"/><rect x="136.0" y="517.9" width="12.3" height="4.3" fill="#444444"/><rect x="148.0" y="517.9" width="16.3" height="4.3" fill="#434343"/><rect x="164.0" y="517.9" width="4.3" height="4.3" fill="#424242"/><rect x="168.0" y="517.9" width="4.3" height="4.3" fill="#414141"/><rect x="172.0" y="517.9" width="4.3" height="4.3" fill="#404040"/><rect x="176.0" y="517.9" width="4.3" height="4.3" fill="#3e3e3e"/><rect x="180.0" y="517.9" width="4.3" height="4.3" fill="#3b3b3b"/><rect x="184.0" y="517.9" width="4.3" height="4.3" fill="#393939"/><rect x="188.0" y="517.9" width="4.3" height="4.3" fill="#363636"/><rect x="192.0" y="517.9" width="4.3" height="4.3" fill="#323232"/><rect x="196.0" y="517.9" width="4.3" height="4.3" fill="#2e2e2e"/><rect x="60.0" y="521.9" width="8.3" height="4.3" fill="#1e1e1e"/><rect x="68.0" y="521.9" width="28.3" height="4.3" fill="#1f1f1f"/><rect x="96.0" y="521.9" width="4.3" height="4.3" fill="#222222"/><rect x="100.0" y="521.9" width="4.3" height="4.3" fill="#252525"/><rect x="104.0" y="521.9" width="4.3" height="4.3" fill="#292929"/><rect x="108.0" y="521.9" width="4.3" height="4.3" fill="#2d2d2d"/><rect x="112.0" y="521.9" width="4.3" height="4.3" fill="#303030"/><rect x="116.0" y="521.9" width="4.3" height="4.3" fill="#343434"/><rect x="120.0" y="521.9" width="4.3" height="4.3" fill="#373737"/><rect x="124.0" y="521.9" width="4.3" height="4.3" fill="#3a3a3a"/><rect x="128.0" y="521.9" width="4.3" height="4.3" fill="#3c3c3c"/><rect x="132.0" y="521.9" width="4.3" height="4.3" fill="#3e3e3e"/><rect x="136.0" y="521.9" width="8.3" height="4.3" fill="#404040"/><rect x="144.0" y="521.9" width="8.3" height="4.3" fill="#414141"/><rect x="152.0" y="521.9" width="4.3" height="4.3" fill="#424242"/><rect x="156.0" y="521.9" width="12.3" height="4.3" fill="#414141"/><rect x="168.0" y="521.9" width="4.3" height="4.3" fill="#404040"/><rect x="172.0" y="521.9" width="4.3" height="4.3" fill="#3e3e3e"/><rect x="176.0" y="521.9" width="4.3" height="4.3" fill="#3c3c3c"/><rect x="180.0" y="521.9" width="4.3" height="4.3" fill="#3a3a3a"/><rect x="184.0" y="521.9" width="4.3" height="4.3" fill="#383838"/><rect x="188.0" y="521.9" width="4.3" height="4.3" fill="#353535"/><rect x="192.0" y="521.9" width="4.3" height="4.3" fill="#313131"/><rect x="196.0" y="521.9" width="4.3" height="4.3" fill="#2d2d2d"/><rect x="60.0" y="525.9" width="8.3" height="4.3" fill="#1d1d1d"/><rect x="68.0" y="525.9" width="4.3" height="4.3" fill="#1e1e1e"/><rect x="72.0" y="525.9" width="28.3" height="4.3" fill="#1f1f1f"/><rect x="100.0" y="525.9" width="4.3" height="4.3" fill="#222222"/><rect x="104.0" y="525.9" width="4.3" height="4.3" fill="#252525"/><rect x="108.0" y="525.9" width="4.3" height="4.3" fill="#282828"/><rect x="112.0" y="525.9" width="4.3" height="4.3" fill="#2b2b2b"/><rect x="116.0" y="525.9" width="4.3" height="4.3" fill="#2f2f2f"/><rect x="120.0" y="525.9" width="4.3" height="4.3" fill="#333333"/><rect x="124.0" y="525.9" width="4.3" height="4.3" fill="#363636"/><rect x="128.0" y="525.9" width="4.3" height="4.3" fill="#383838"/><rect x="132.0" y="525.9" width="4.3" height="4.3" fill="#3a3a3a"/><rect x="136.0" y="525.9" width="4.3" height="4.3" fill="#3c3c3c"/><rect x="140.0" y="525.9" width="4.3" height="4.3" fill="#3d3d3d"/><rect x="144.0" y="525.9" width="8.3" height="4.3" fill="#3f3f3f"/><rect x="152.0" y="525.9" width="12.3" height="4.3" fill="#404040"/><rect x="164.0" y="525.9" width="4.3" height="4.3" fill="#3f3f3f"/><rect x="168.0" y="525.9" width="4.3" height="4.3" fill="#3e3e3e"/><rect x="172.0" y="525.9" width="4.3" height="4.3" fill="#3c3c3c"/><rect x="176.0" y="525.9" width="4.3" height="4.3" fill="#3b3b3b"/><rect x="180.0" y="525.9" width="4.3" height="4.3" fill="#393939"/><rect x="184.0" y="525.9" width="4.3" height="4.3" fill="#373737"/><rect x="188.0" y="525.9" width="4.3" height="4.3" fill="#343434"/><rect x="192.0" y="525.9" width="4.3" height="4.3" fill="#303030"/><rect x="196.0" y="525.9" width="4.3" height="4.3" fill="#2d2d2d"/><rect x="60.0" y="529.9" width="8.3" height="4.3" fill="#1c1c1c"/><rect x="68.0" y="529.9" width="4.3" height="4.3" fill="#1d1d1d"/><rect x="72.0" y="529.9" width="8.3" height="4.3" fill="#1e1e1e"/><rect x="80.0" y="529.9" width="24.3" height="4.3" fill="#1f1f1f"/><rect x="104.0" y="529.9" width="4.3" height="4.3" fill="#212121"/><rect x="108.0" y="529.9" width="4.3" height="4.3" fill="#242424"/><rect x="112.0" y="529.9" width="4.3" height="4.3" fill="#272727"/><rect x="116.0" y="529.9" width="4.3" height="4.3" fill="#2a2a2a"/><rect x="120.0" y="529.9" width="4.3" height="4.3" fill="#2d2d2d"/><rect x="124.0" y="529.9" width="4.3" height="4.3" fill="#313131"/><rect x="128.0" y="529.9" width="4.3" height="4.3" fill="#343434"/><rect x="132.0" y="529.9" width="4.3" height="4.3" fill="#363636"/><rect x="136.0" y="529.9" width="4.3" height="4.3" fill="#383838"/><rect x="140.0" y="529.9" width="4.3" height="4.3" fill="#3a3a3a"/><rect x="144.0" y="529.9" width="4.3" height="4.3" fill="#3b3b3b"/><rect x="148.0" y="529.9" width="8.3" height="4.3" fill="#3c3c3c"/><rect x="156.0" y="529.9" width="8.3" height="4.3" fill="#3d3d3d"/><rect x="164.0" y="529.9" width="4.3" height="4.3" fill="#3c3c3c"/><rect x="168.0" y="529.9" width="4.3" height="4.3" fill="#3b3b3b"/><rect x="172.0" y="529.9" width="4.3" height="4.3" fill="#3a3a3a"/><rect x="176.0" y="529.9" width="4.3" height="4.3" fill="#393939"/><rect x="180.0" y="529.9" width="4.3" height="4.3" fill="#373737"/><rect x="184.0" y="529.9" width="4.3" height="4.3" fill="#353535"/><rect x="188.0" y="529.9" width="4.3" height="4.3" fill="#323232"/><rect x="192.0" y="529.9" width="4.3" height="4.3" fill="#2f2f2f"/><rect x="196.0" y="529.9" width="4.3" height="4.3" fill="#2c2c2c"/><rect x="60.0" y="533.9" width="4.3" height="4.3" fill="#1b1b1b"/><rect x="64.0" y="533.9" width="8.3" height="4.3" fill="#1c1c1c"/><rect x="72.0" y="533.9" width="8.3" height="4.3" fill="#1d1d1d"/><rect x="80.0" y="533.9" width="4.3" height="4.3" fill="#1e1e1e"/><rect x="84.0" y="533.9" width="24.3" height="4.3" fill="#1f1f1f"/><rect x="108.0" y="533.9" width="4.3" height="4.3" fill="#202020"/><rect x="112.0" y="533.9" width="4.3" height="4.3" fill="#232323"/><rect x="116.0" y="533.9" width="4.3" height="4.3" fill="#262626"/><rect x="120.0" y="533.9" width="4.3" height="4.3" fill="#292929"/><rect x="124.0" y="533.9" width="4.3" height="4.3" fill="#2c2c2c"/><rect x="128.0" y="533.9" width="4.3" height="4.3" fill="#2f2f2f"/><rect x="132.0" y="533.9" width="4.3" height="4.3" fill="#313131"/><rect x="136.0" y="533.9" width="4.3" height="4.3" fill="#343434"/><rect x="140.0" y="533.9" width="4.3" height="4.3" fill="#363636"/><rect x="144.0" y="533.9" width="4.3" height="4.3" fill="#373737"/><rect x="148.0" y="533.9" width="4.3" height="4.3" fill="#383838"/><rect x="152.0" y="533.9" width="8.3" height="4.3" fill="#393939"/><rect x="160.0" y="533.9" width="4.3" height="4.3" fill="#3a3a3a"/><rect x="164.0" y="533.9" width="8.3" height="4.3" fill="#393939"/><rect x="172.0" y="533.9" width="4.3" height="4.3" fill="#383838"/><rect x="176.0" y="533.9" width="4.3" height="4.3" fill="#373737"/><rect x="180.0" y="533.9" width="4.3" height="4.3" fill="#353535"/><rect x="184.0" y="533.9" width="4.3" height="4.3" fill="#333333"/><rect x="188.0" y="533.9" width="4.3" height="4.3" fill="#303030"/><rect x="192.0" y="533.9" width="4.3" height="4.3" fill="#2d2d2d"/><rect x="196.0" y="533.9" width="4.3" height="4.3" fill="#2a2a2a"/><rect x="60.0" y="537.9" width="8.3" height="4.3" fill="#1a1a1a"/><rect x="68.0" y="537.9" width="4.3" height="4.3" fill="#1b1b1b"/><rect x="72.0" y="537.9" width="8.3" height="4.3" fill="#1c1c1c"/><rect x="80.0" y="537.9" width="4.3" height="4.3" fill="#1d1d1d"/><rect x="84.0" y="537.9" width="8.3" height="4.3" fill="#1e1e1e"/><rect x="92.0" y="537.9" width="24.3" height="4.3" fill="#1f1f1f"/><rect x="116.0" y="537.9" width="4.3" height="4.3" fill="#222222"/><rect x="120.0" y="537.9" width="4.3" height="4.3" fill="#252525"/><rect x="124.0" y="537.9" width="4.3" height="4.3" fill="#272727"/><rect x="128.0" y="537.9" width="4.3" height="4.3" fill="#292929"/><rect x="132.0" y="537.9" width="4.3" height="4.3" fill="#2c2c2c"/><rect x="136.0" y="537.9" width="4.3" height="4.3" fill="#2f2f2f"/><rect x="140.0" y="537.9" width="4.3" height="4.3" fill="#313131"/><rect x="144.0" y="537.9" width="4.3" height="4.3" fill="#333333"/><rect x="148.0" y="537.9" width="4.3" height="4.3" fill="#343434"/><rect x="152.0" y="537.9" width="4.3" height="4.3" fill="#353535"/><rect x="156.0" y="537.9" width="16.3" height="4.3" fill="#363636"/><rect x="172.0" y="537.9" width="4.3" height="4.3" fill="#353535"/><rect x="176.0" y="537.9" width="4.3" height="4.3" fill="#343434"/><rect x="180.0" y="537.9" width="4.3" height="4.3" fill="#323232"/><rect x="184.0" y="537.9" width="4.3" height="4.3" fill="#303030"/><rect x="188.0" y="537.9" width="4.3" height="4.3" fill="#2e2e2e"/><rect x="192.0" y="537.9" width="4.3" height="4.3" fill="#2b2b2b"/><rect x="196.0" y="537.9" width="4.3" height="4.3" fill="#292929"/><rect x="60.0" y="541.9" width="4.3" height="4.3" fill="#181818"/><rect x="64.0" y="541.9" width="4.3" height="4.3" fill="#191919"/><rect x="68.0" y="541.9" width="4.3" height="4.3" fill="#1a1a1a"/><rect x="72.0" y="541.9" width="8.3" height="4.3" fill="#1b1b1b"/><rect x="80.0" y="541.9" width="4.3" height="4.3" fill="#1c1c1c"/><rect x="84.0" y="541.9" width="8.3" height="4.3" fill="#1d1d1d"/><rect x="92.0" y="541.9" width="4.3" height="4.3" fill="#1e1e1e"/><rect x="96.0" y="541.9" width="24.3" height="4.3" fill="#1f1f1f"/><rect x="120.0" y="541.9" width="4.3" height="4.3" fill="#202020"/><rect x="124.0" y="541.9" width="4.3" height="4.3" fill="#232323"/><rect x="128.0" y="541.9" width="4.3" height="4.3" fill="#252525"/><rect x="132.0" y="541.9" width="4.3" height="4.3" fill="#282828"/><rect x="136.0" y="541.9" width="4.3" height="4.3" fill="#2a2a2a"/><rect x="140.0" y="541.9" width="4.3" height="4.3" fill="#2c2c2c"/><rect x="144.0" y="541.9" width="4.3" height="4.3" fill="#2e2e2e"/><rect x="148.0" y="541.9" width="4.3" height="4.3" fill="#2f2f2f"/><rect x="152.0" y="541.9" width="8.3" height="4.3" fill="#313131"/><rect x="160.0" y="541.9" width="12.3" height="4.3" fill="#323232"/><rect x="172.0" y="541.9" width="4.3" height="4.3" fill="#313131"/><rect x="176.0" y="541.9" width="4.3" height="4.3" fill="#303030"/><rect x="180.0" y="541.9" width="4.3" height="4.3" fill="#2f2f2f"/><rect x="184.0" y="541.9" width="4.3" height="4.3" fill="#2d2d2d"/><rect x="188.0" y="541.9" width="4.3" height="4.3" fill="#2b2b2b"/><rect x="192.0" y="541.9" width="4.3" height="4.3" fill="#292929"/><rect x="196.0" y="541.9" width="4.3" height="4.3" fill="#272727"/><rect x="60.0" y="545.9" width="4.3" height="4.3" fill="#171717"/><rect x="64.0" y="545.9" width="4.3" height="4.3" fill="#181818"/><rect x="68.0" y="545.9" width="4.3" height="4.3" fill="#191919"/><rect x="72.0" y="545.9" width="8.3" height="4.3" fill="#1a1a1a"/><rect x="80.0" y="545.9" width="4.3" height="4.3" fill="#1b1b1b"/><rect x="84.0" y="545.9" width="8.3" height="4.3" fill="#1c1c1c"/><rect x="92.0" y="545.9" width="4.3" height="4.3" fill="#1d1d1d"/><rect x="96.0" y="545.9" width="8.3" height="4.3" fill="#1e1e1e"/><rect x="104.0" y="545.9" width="24.3" height="4.3" fill="#1f1f1f"/><rect x="128.0" y="545.9" width="4.3" height="4.3" fill="#212121"/><rect x="132.0" y="545.9" width="4.3" height="4.3" fill="#232323"/><rect x="136.0" y="545.9" width="4.3" height="4.3" fill="#252525"/><rect x="140.0" y="545.9" width="4.3" height="4.3" fill="#272727"/><rect x="144.0" y="545.9" width="4.3" height="4.3" fill="#292929"/><rect x="148.0" y="545.9" width="4.3" height="4.3" fill="#2a2a2a"/><rect x="152.0" y="545.9" width="4.3" height="4.3" fill="#2c2c2c"/><rect x="156.0" y="545.9" width="4.3" height="4.3" fill="#2d2d2d"/><rect x="160.0" y="545.9" width="12.3" height="4.3" fill="#2e2e2e"/><rect x="172.0" y="545.9" width="8.3" height="4.3" fill="#2d2d2d"/><rect x="180.0" y="545.9" width="4.3" height="4.3" fill="#2c2c2c"/><rect x="184.0" y="545.9" width="4.3" height="4.3" fill="#2a2a2a"/><rect x="188.0" y="545.9" width="4.3" height="4.3" fill="#292929"/><rect x="192.0" y="545.9" width="4.3" height="4.3" fill="#272727"/><rect x="196.0" y="545.9" width="4.3" height="4.3" fill="#252525"/><rect x="60.0" y="549.9" width="4.3" height="4.3" fill="#161616"/><rect x="64.0" y="549.9" width="4.3" height="4.3" fill="#171717"/><rect x="68.0" y="549.9" width="8.3" height="4.3" fill="#181818"/><rect x="76.0" y="549.9" width="4.3" height="4.3" fill="#191919"/><rect x="80.0" y="549.9" width="4.3" height="4.3" fill="#1a1a1a"/><rect x="84.0" y="549.9" width="8.3" height="4.3" fill="#1b1b1b"/><rect x="92.0" y="549.9" width="4.3" height="4.3" fill="#1c1c1c"/><rect x="96.0" y="549.9" width="8.3" height="4.3" fill="#1d1d1d"/><rect x="104.0" y="549.9" width="4.3" height="4.3" fill="#1e1e1e"/><rect x="108.0" y="549.9" width="28.3" height="4.3" fill="#1f1f1f"/><rect x="136.0" y="549.9" width="4.3" height="4.3" fill="#212121"/><rect x="140.0" y="549.9" width="4.3" height="4.3" fill="#232323"/><rect x="144.0" y="549.9" width="4.3" height="4.3" fill="#252525"/><rect x="148.0" y="549.9" width="4.3" height="4.3" fill="#262626"/><rect x="152.0" y="549.9" width="4.3" height="4.3" fill="#272727"/><rect x="156.0" y="549.9" width="4.3" height="4.3" fill="#282828"/><rect x="160.0" y="549.9" width="4.3" height="4.3" fill="#292929"/><rect x="164.0" y="549.9" width="12.3" height="4.3" fill="#2a2a2a"/><rect x="176.0" y="549.9" width="4.3" height="4.3" fill="#292929"/><rect x="180.0" y="549.9" width="4.3" height="4.3" fill="#282828"/><rect x="184.0" y="549.9" width="4.3" height="4.3" fill="#272727"/><rect x="188.0" y="549.9" width="4.3" height="4.3" fill="#262626"/><rect x="192.0" y="549.9" width="4.3" height="4.3" fill="#252525"/><rect x="196.0" y="549.9" width="4.3" height="4.3" fill="#232323"/><rect x="60.0" y="553.9" width="8.3" height="4.3" fill="#161616"/><rect x="68.0" y="553.9" width="8.3" height="4.3" fill="#171717"/><rect x="76.0" y="553.9" width="4.3" height="4.3" fill="#181818"/><rect x="80.0" y="553.9" width="8.3" height="4.3" fill="#191919"/><rect x="88.0" y="553.9" width="4.3" height="4.3" fill="#1a1a1a"/><rect x="92.0" y="553.9" width="4.3" height="4.3" fill="#1b1b1b"/><rect x="96.0" y="553.9" width="8.3" height="4.3" fill="#1c1c1c"/><rect x="104.0" y="553.9" width="4.3" height="4.3" fill="#1d1d1d"/><rect x="108.0" y="553.9" width="8.3" height="4.3" fill="#1e1e1e"/><rect x="116.0" y="553.9" width="28.3" height="4.3" fill="#1f1f1f"/><rect x="144.0" y="553.9" width="4.3" height="4.3" fill="#212121"/><rect x="148.0" y="553.9" width="4.3" height="4.3" fill="#222222"/><rect x="152.0" y="553.9" width="4.3" height="4.3" fill="#242424"/><rect x="156.0" y="553.9" width="8.3" height="4.3" fill="#252525"/><rect x="164.0" y="553.9" width="16.3" height="4.3" fill="#262626"/><rect x="180.0" y="553.9" width="8.3" height="4.3" fill="#252525"/><rect x="188.0" y="553.9" width="4.3" height="4.3" fill="#242424"/><rect x="192.0" y="553.9" width="4.3" height="4.3" fill="#232323"/><rect x="196.0" y="553.9" width="4.3" height="4.3" fill="#212121"/><rect x="60.0" y="557.9" width="8.3" height="4.3" fill="#151515"/><rect x="68.0" y="557.9" width="8.3" height="4.3" fill="#161616"/><rect x="76.0" y="557.9" width="4.3" height="4.3" fill="#171717"/><rect x="80.0" y="557.9" width="8.3" height="4.3" fill="#181818"/><rect x="88.0" y="557.9" width="4.3" height="4.3" fill="#191919"/><rect x="92.0" y="557.9" width="4.3" height="4.3" fill="#1a1a1a"/><rect x="96.0" y="557.9" width="8.3" height="4.3" fill="#1b1b1b"/><rect x="104.0" y="557.9" width="4.3" height="4.3" fill="#1c1c1c"/><rect x="108.0" y="557.9" width="8.3" height="4.3" fill="#1d1d1d"/><rect x="116.0" y="557.9" width="4.3" height="4.3" fill="#1e1e1e"/><rect x="120.0" y="557.9" width="32.3" height="4.3" fill="#1f1f1f"/><rect x="152.0" y="557.9" width="4.3" height="4.3" fill="#202020"/><rect x="156.0" y="557.9" width="4.3" height="4.3" fill="#212121"/><rect x="160.0" y="557.9" width="8.3" height="4.3" fill="#222222"/><rect x="168.0" y="557.9" width="12.3" height="4.3" fill="#232323"/><rect x="180.0" y="557.9" width="8.3" height="4.3" fill="#222222"/><rect x="188.0" y="557.9" width="4.3" height="4.3" fill="#212121"/><rect x="192.0" y="557.9" width="4.3" height="4.3" fill="#202020"/><rect x="196.0" y="557.9" width="4.3" height="4.3" fill="#1f1f1f"/><rect x="60.0" y="561.9" width="8.3" height="4.3" fill="#141414"/><rect x="68.0" y="561.9" width="8.3" height="4.3" fill="#151515"/><rect x="76.0" y="561.9" width="4.3" height="4.3" fill="#161616"/><rect x="80.0" y="561.9" width="8.3" height="4.3" fill="#171717"/><rect x="88.0" y="561.9" width="4.3" height="4.3" fill="#181818"/><rect x="92.0" y="561.9" width="8.3" height="4.3" fill="#191919"/><rect x="100.0" y="561.9" width="4.3" height="4.3" fill="#1a1a1a"/><rect x="104.0" y="561.9" width="4.3" height="4.3" fill="#1b1b1b"/><rect x="108.0" y="561.9" width="8.3" height="4.3" fill="#1c1c1c"/><rect x="116.0" y="561.9" width="4.3" height="4.3" fill="#1d1d1d"/><rect x="120.0" y="561.9" width="8.3" height="4.3" fill="#1e1e1e"/><rect x="128.0" y="561.9" width="72.3" height="4.3" fill="#1f1f1f"/><rect x="60.0" y="565.9" width="4.3" height="4.3" fill="#131313"/><rect x="64.0" y="565.9" width="8.3" height="4.3" fill="#141414"/><rect x="72.0" y="565.9" width="8.3" height="4.3" fill="#151515"/><rect x="80.0" y="565.9" width="8.3" height="4.3" fill="#161616"/><rect x="88.0" y="565.9" width="8.3" height="4.3" fill="#171717"/><rect x="96.0" y="565.9" width="4.3" height="4.3" fill="#181818"/><rect x="100.0" y="565.9" width="4.3" height="4.3" fill="#191919"/><rect x="104.0" y="565.9" width="4.3" height="4.3" fill="#1a1a1a"/><rect x="108.0" y="565.9" width="8.3" height="4.3" fill="#1b1b1b"/><rect x="116.0" y="565.9" width="4.3" height="4.3" fill="#1c1c1c"/><rect x="120.0" y="565.9" width="8.3" height="4.3" fill="#1d1d1d"/><rect x="128.0" y="565.9" width="4.3" height="4.3" fill="#1e1e1e"/><rect x="132.0" y="565.9" width="68.3" height="4.3" fill="#1f1f1f"/><rect x="60.0" y="569.9" width="12.3" height="4.3" fill="#131313"/><rect x="72.0" y="569.9" width="8.3" height="4.3" fill="#141414"/><rect x="80.0" y="569.9" width="8.3" height="4.3" fill="#151515"/><rect x="88.0" y="569.9" width="4.3" height="4.3" fill="#161616"/><rect x="92.0" y="569.9" width="8.3" height="4.3" fill="#171717"/><rect x="100.0" y="569.9" width="4.3" height="4.3" fill="#181818"/><rect x="104.0" y="569.9" width="8.3" height="4.3" fill="#191919"/><rect x="112.0" y="569.9" width="4.3" height="4.3" fill="#1a1a1a"/><rect x="116.0" y="569.9" width="4.3" height="4.3" fill="#1b1b1b"/><rect x="120.0" y="569.9" width="8.3" height="4.3" fill="#1c1c1c"/><rect x="128.0" y="569.9" width="4.3" height="4.3" fill="#1d1d1d"/><rect x="132.0" y="569.9" width="8.3" height="4.3" fill="#1e1e1e"/><rect x="140.0" y="569.9" width="60.3" height="4.3" fill="#1f1f1f"/><rect x="60.0" y="573.9" width="4.3" height="4.3" fill="#121212"/><rect x="64.0" y="573.9" width="12.3" height="4.3" fill="#131313"/><rect x="76.0" y="573.9" width="8.3" height="4.3" fill="#141414"/><rect x="84.0" y="573.9" width="8.3" height="4.3" fill="#151515"/><rect x="92.0" y="573.9" width="8.3" height="4.3" fill="#161616"/><rect x="100.0" y="573.9" width="8.3" height="4.3" fill="#171717"/><rect x="108.0" y="573.9" width="4.3" height="4.3" fill="#181818"/><rect x="112.0" y="573.9" width="4.3" height="4.3" fill="#191919"/><rect x="116.0" y="573.9" width="8.3" height="4.3" fill="#1a1a1a"/><rect x="124.0" y="573.9" width="4.3" height="4.3" fill="#1b1b1b"/><rect x="128.0" y="573.9" width="4.3" height="4.3" fill="#1c1c1c"/><rect x="132.0" y="573.9" width="8.3" height="4.3" fill="#1d1d1d"/><rect x="140.0" y="573.9" width="8.3" height="4.3" fill="#1e1e1e"/><rect x="148.0" y="573.9" width="52.3" height="4.3" fill="#1f1f1f"/><rect x="60.0" y="577.9" width="8.3" height="4.3" fill="#121212"/><rect x="68.0" y="577.9" width="16.3" height="4.3" fill="#131313"/><rect x="84.0" y="577.9" width="8.3" height="4.3" fill="#141414"/><rect x="92.0" y="577.9" width="8.3" height="4.3" fill="#151515"/><rect x="100.0" y="577.9" width="4.3" height="4.3" fill="#161616"/><rect x="104.0" y="577.9" width="8.3" height="4.3" fill="#171717"/><rect x="112.0" y="577.9" width="4.3" height="4.3" fill="#181818"/><rect x="116.0" y="577.9" width="8.3" height="4.3" fill="#191919"/><rect x="124.0" y="577.9" width="4.3" height="4.3" fill="#1a1a1a"/><rect x="128.0" y="577.9" width="4.3" height="4.3" fill="#1b1b1b"/><rect x="132.0" y="577.9" width="8.3" height="4.3" fill="#1c1c1c"/><rect x="140.0" y="577.9" width="8.3" height="4.3" fill="#1d1d1d"/><rect x="148.0" y="577.9" width="4.3" height="4.3" fill="#1e1e1e"/><rect x="152.0" y="577.9" width="48.3" height="4.3" fill="#1f1f1f"/><rect x="60.0" y="581.9" width="16.3" height="4.3" fill="#121212"/><rect x="76.0" y="581.9" width="12.3" height="4.3" fill="#131313"/><rect x="88.0" y="581.9" width="12.3" height="4.3" fill="#141414"/><rect x="100.0" y="581.9" width="4.3" height="4.3" fill="#151515"/><rect x="104.0" y="581.9" width="8.3" height="4.3" fill="#161616"/><rect x="112.0" y="581.9" width="8.3" height="4.3" fill="#171717"/><rect x="120.0" y="581.9" width="4.3" height="4.3" fill="#181818"/><rect x="124.0" y="581.9" width="4.3" height="4.3" fill="#191919"/><rect x="128.0" y="581.9" width="8.3" height="4.3" fill="#1a1a1a"/><rect x="136.0" y="581.9" width="4.3" height="4.3" fill="#1b1b1b"/><rect x="140.0" y="581.9" width="4.3" height="4.3" fill="#1c1c1c"/><rect x="144.0" y="581.9" width="8.3" height="4.3" fill="#1d1d1d"/><rect x="152.0" y="581.9" width="8.3" height="4.3" fill="#1e1e1e"/><rect x="160.0" y="581.9" width="40.3" height="4.3" fill="#1f1f1f"/><rect x="60.0" y="585.9" width="20.3" height="4.3" fill="#121212"/><rect x="80.0" y="585.9" width="16.3" height="4.3" fill="#131313"/><rect x="96.0" y="585.9" width="8.3" height="4.3" fill="#141414"/><rect x="104.0" y="585.9" width="8.3" height="4.3" fill="#151515"/><rect x="112.0" y="585.9" width="8.3" height="4.3" fill="#161616"/><rect x="120.0" y="585.9" width="4.3" height="4.3" fill="#171717"/><rect x="124.0" y="585.9" width="8.3" height="4.3" fill="#181818"/><rect x="132.0" y="585.9" width="4.3" height="4.3" fill="#191919"/><rect x="136.0" y="585.9" width="4.3" height="4.3" fill="#1a1a1a"/><rect x="140.0" y="585.9" width="4.3" height="4.3" fill="#1b1b1b"/><rect x="144.0" y="585.9" width="8.3" height="4.3" fill="#1c1c1c"/><rect x="152.0" y="585.9" width="8.3" height="4.3" fill="#1d1d1d"/><rect x="160.0" y="585.9" width="4.3" height="4.3" fill="#1e1e1e"/><rect x="164.0" y="585.9" width="36.3" height="4.3" fill="#1f1f1f"/><rect x="60.0" y="589.9" width="28.3" height="4.3" fill="#121212"/><rect x="88.0" y="589.9" width="12.3" height="4.3" fill="#131313"/><rect x="100.0" y="589.9" width="12.3" height="4.3" fill="#141414"/><rect x="112.0" y="589.9" width="4.3" height="4.3" fill="#151515"/><rect x="116.0" y="589.9" width="8.3" height="4.3" fill="#161616"/><rect x="124.0" y="589.9" width="8.3" height="4.3" fill="#171717"/><rect x="132.0" y="589.9" width="4.3" height="4.3" fill="#181818"/><rect x="136.0" y="589.9" width="4.3" height="4.3" fill="#191919"/><rect x="140.0" y="589.9" width="8.3" height="4.3" fill="#1a1a1a"/><rect x="148.0" y="589.9" width="4.3" height="4.3" fill="#1b1b1b"/><rect x="152.0" y="589.9" width="8.3" height="4.3" fill="#1c1c1c"/><rect x="160.0" y="589.9" width="4.3" height="4.3" fill="#1d1d1d"/><rect x="164.0" y="589.9" width="8.3" height="4.3" fill="#1e1e1e"/><rect x="172.0" y="589.9" width="28.3" height="4.3" fill="#1f1f1f"/><rect x="60.0" y="593.9" width="32.3" height="4.3" fill="#121212"/><rect x="92.0" y="593.9" width="16.3" height="4.3" fill="#131313"/><rect x="108.0" y="593.9" width="8.3" height="4.3" fill="#141414"/><rect x="116.0" y="593.9" width="8.3" height="4.3" fill="#151515"/><rect x="124.0" y="593.9" width="8.3" height="4.3" fill="#161616"/><rect x="132.0" y="593.9" width="4.3" height="4.3" fill="#171717"/><rect x="136.0" y="593.9" width="8.3" height="4.3" fill="#181818"/><rect x="144.0" y="593.9" width="4.3" height="4.3" fill="#191919"/><rect x="148.0" y="593.9" width="4.3" height="4.3" fill="#1a1a1a"/><rect x="152.0" y="593.9" width="8.3" height="4.3" fill="#1b1b1b"/><rect x="160.0" y="593.9" width="4.3" height="4.3" fill="#1c1c1c"/><rect x="164.0" y="593.9" width="8.3" height="4.3" fill="#1d1d1d"/><rect x="172.0" y="593.9" width="4.3" height="4.3" fill="#1e1e1e"/><rect x="176.0" y="593.9" width="24.3" height="4.3" fill="#1f1f1f"/><rect x="60.0" y="597.9" width="40.3" height="4.3" fill="#121212"/><rect x="100.0" y="597.9" width="12.3" height="4.3" fill="#131313"/><rect x="112.0" y="597.9" width="12.3" height="4.3" fill="#141414"/><rect x="124.0" y="597.9" width="4.3" height="4.3" fill="#151515"/><rect x="128.0" y="597.9" width="8.3" height="4.3" fill="#161616"/><rect x="136.0" y="597.9" width="8.3" height="4.3" fill="#171717"/><rect x="144.0" y="597.9" width="4.3" height="4.3" fill="#181818"/><rect x="148.0" y="597.9" width="4.3" height="4.3" fill="#191919"/><rect x="152.0" y="597.9" width="8.3" height="4.3" fill="#1a1a1a"/><rect x="160.0" y="597.9" width="4.3" height="4.3" fill="#1b1b1b"/><rect x="164.0" y="597.9" width="8.3" height="4.3" fill="#1c1c1c"/><rect x="172.0" y="597.9" width="4.3" height="4.3" fill="#1d1d1d"/><rect x="176.0" y="597.9" width="8.3" height="4.3" fill="#1e1e1e"/><rect x="184.0" y="597.9" width="16.3" height="4.3" fill="#1f1f1f"/><rect x="60.0" y="601.9" width="44.3" height="4.3" fill="#121212"/><rect x="104.0" y="601.9" width="16.3" height="4.3" fill="#131313"/><rect x="120.0" y="601.9" width="8.3" height="4.3" fill="#141414"/><rect x="128.0" y="601.9" width="8.3" height="4.3" fill="#151515"/><rect x="136.0" y="601.9" width="8.3" height="4.3" fill="#161616"/><rect x="144.0" y="601.9" width="4.3" height="4.3" fill="#171717"/><rect x="148.0" y="601.9" width="8.3" height="4.3" fill="#181818"/><rect x="156.0" y="601.9" width="4.3" height="4.3" fill="#191919"/><rect x="160.0" y="601.9" width="4.3" height="4.3" fill="#1a1a1a"/><rect x="164.0" y="601.9" width="8.3" height="4.3" fill="#1b1b1b"/><rect x="172.0" y="601.9" width="4.3" height="4.3" fill="#1c1c1c"/><rect x="176.0" y="601.9" width="8.3" height="4.3" fill="#1d1d1d"/><rect x="184.0" y="601.9" width="4.3" height="4.3" fill="#1e1e1e"/><rect x="188.0" y="601.9" width="12.3" height="4.3" fill="#1f1f1f"/><rect x="60.0" y="605.9" width="52.3" height="4.3" fill="#121212"/><rect x="112.0" y="605.9" width="16.3" height="4.3" fill="#131313"/><rect x="128.0" y="605.9" width="8.3" height="4.3" fill="#141414"/><rect x="136.0" y="605.9" width="4.3" height="4.3" fill="#151515"/><rect x="140.0" y="605.9" width="8.3" height="4.3" fill="#161616"/><rect x="148.0" y="605.9" width="8.3" height="4.3" fill="#171717"/><rect x="156.0" y="605.9" width="4.3" height="4.3" fill="#181818"/><rect x="160.0" y="605.9" width="8.3" height="4.3" fill="#191919"/><rect x="168.0" y="605.9" width="4.3" height="4.3" fill="#1a1a1a"/><rect x="172.0" y="605.9" width="4.3" height="4.3" fill="#1b1b1b"/><rect x="176.0" y="605.9" width="8.3" height="4.3" fill="#1c1c1c"/><rect x="184.0" y="605.9" width="4.3" height="4.3" fill="#1d1d1d"/><rect x="188.0" y="605.9" width="8.3" height="4.3" fill="#1e1e1e"/><rect x="196.0" y="605.9" width="4.3" height="4.3" fill="#1f1f1f"/><rect x="60.0" y="609.9" width="56.3" height="4.3" fill="#121212"/><rect x="116.0" y="609.9" width="16.3" height="4.3" fill="#131313"/><rect x="132.0" y="609.9" width="8.3" height="4.3" fill="#141414"/><rect x="140.0" y="609.9" width="8.3" height="4.3" fill="#151515"/><rect x="148.0" y="609.9" width="8.3" height="4.3" fill="#161616"/><rect x="156.0" y="609.9" width="4.3" height="4.3" fill="#171717"/><rect x="160.0" y="609.9" width="8.3" height="4.3" fill="#181818"/><rect x="168.0" y="609.9" width="4.3" height="4.3" fill="#191919"/><rect x="172.0" y="609.9" width="4.3" height="4.3" fill="#1a1a1a"/><rect x="176.0" y="609.9" width="8.3" height="4.3" fill="#1b1b1b"/><rect x="184.0" y="609.9" width="4.3" height="4.3" fill="#1c1c1c"/><rect x="188.0" y="609.9" width="8.3" height="4.3" fill="#1d1d1d"/><rect x="196.0" y="609.9" width="4.3" height="4.3" fill="#1e1e1e"/><rect x="60.0" y="613.9" width="64.3" height="4.3" fill="#121212"/><rect x="124.0" y="613.9" width="16.3" height="4.3" fill="#131313"/><rect x="140.0" y="613.9" width="8.3" height="4.3" fill="#141414"/><rect x="148.0" y="613.9" width="8.3" height="4.3" fill="#151515"/><rect x="156.0" y="613.9" width="4.3" height="4.3" fill="#161616"/><rect x="160.0" y="613.9" width="8.3" height="4.3" fill="#171717"/><rect x="168.0" y="613.9" width="4.3" height="4.3" fill="#181818"/><rect x="172.0" y="613.9" width="8.3" height="4.3" fill="#191919"/><rect x="180.0" y="613.9" width="4.3" height="4.3" fill="#1a1a1a"/><rect x="184.0" y="613.9" width="4.3" height="4.3" fill="#1b1b1b"/><rect x="188.0" y="613.9" width="8.3" height="4.3" fill="#1c1c1c"/><rect x="196.0" y="613.9" width="4.3" height="4.3" fill="#1d1d1d"/><rect x="60.0" y="617.9" width="68.3" height="4.3" fill="#121212"/><rect x="128.0" y="617.9" width="16.3" height="4.3" fill="#131313"/><rect x="144.0" y="617.9" width="8.3" height="4.3" fill="#141414"/><rect x="152.0" y="617.9" width="8.3" height="4.3" fill="#151515"/><rect x="160.0" y="617.9" width="8.3" height="4.3" fill="#161616"/><rect x="168.0" y="617.9" width="8.3" height="4.3" fill="#171717"/><rect x="176.0" y="617.9" width="4.3" height="4.3" fill="#181818"/><rect x="180.0" y="617.9" width="4.3" height="4.3" fill="#191919"/><rect x="184.0" y="617.9" width="4.3" height="4.3" fill="#1a1a1a"/><rect x="188.0" y="617.9" width="8.3" height="4.3" fill="#1b1b1b"/><rect x="196.0" y="617.9" width="4.3" height="4.3" fill="#1c1c1c"/><rect x="60.0" y="621.9" width="76.3" height="4.3" fill="#121212"/><rect x="136.0" y="621.9" width="16.3" height="4.3" fill="#131313"/><rect x="152.0" y="621.9" width="8.3" height="4.3" fill="#141414"/><rect x="160.0" y="621.9" width="8.3" height="4.3" fill="#151515"/><rect x="168.0" y="621.9" width="4.3" height="4.3" fill="#161616"/><rect x="172.0" y="621.9" width="8.3" height="4.3" fill="#171717"/><rect x="180.0" y="621.9" width="4.3" height="4.3" fill="#181818"/><rect x="184.0" y="621.9" width="8.3" height="4.3" fill="#191919"/><rect x="192.0" y="621.9" width="4.3" height="4.3" fill="#1a1a1a"/><rect x="196.0" y="621.9" width="4.3" height="4.3" fill="#1b1b1b"/><rect x="60.0" y="625.9" width="80.3" height="4.3" fill="#121212"/><rect x="140.0" y="625.9" width="16.3" height="4.3" fill="#131313"/><rect x="156.0" y="625.9" width="8.3" height="4.3" fill="#141414"/><rect x="164.0" y="625.9" width="8.3" height="4.3" fill="#151515"/><rect x="172.0" y="625.9" width="8.3" height="4.3" fill="#161616"/><rect x="180.0" y="625.9" width="8.3" height="4.3" fill="#171717"/><rect x="188.0" y="625.9" width="4.3" height="4.3" fill="#181818"/><rect x="192.0" y="625.9" width="4.3" height="4.3" fill="#191919"/><rect x="196.0" y="625.9" width="4.3" height="4.3" fill="#1a1a1a"/><rect x="60.0" y="629.9" width="88.3" height="4.3" fill="#121212"/><rect x="148.0" y="629.9" width="16.3" height="4.3" fill="#131313"/><rect x="164.0" y="629.9" width="8.3" height="4.3" fill="#141414"/><rect x="172.0" y="629.9" width="8.3" height="4.3" fill="#151515"/><rect x="180.0" y="629.9" width="4.3" height="4.3" fill="#161616"/><rect x="184.0" y="629.9" width="8.3" height="4.3" fill="#171717"/><rect x="192.0" y="629.9" width="4.3" height="4.3" fill="#181818"/><rect x="196.0" y="629.9" width="4.3" height="4.3" fill="#191919"/><rect x="60.0" y="633.9" width="96.3" height="4.3" fill="#121212"/><rect x="156.0" y="633.9" width="12.3" height="4.3" fill="#131313"/><rect x="168.0" y="633.9" width="12.3" height="4.3" fill="#141414"/><rect x="180.0" y="633.9" width="4.3" height="4.3" fill="#151515"/><rect x="184.0" y="633.9" width="8.3" height="4.3" fill="#161616"/><rect x="192.0" y="633.9" width="8.3" height="4.3" fill="#171717"/><rect x="60.0" y="637.9" width="100.3" height="4.3" fill="#121212"/><rect x="160.0" y="637.9" width="16.3" height="4.3" fill="#131313"/><rect x="176.0" y="637.9" width="8.3" height="4.3" fill="#141414"/><rect x="184.0" y="637.9" width="8.3" height="4.3" fill="#151515"/><rect x="192.0" y="637.9" width="8.3" height="4.3" fill="#161616"/><rect x="60.0" y="641.9" width="108.3" height="4.3" fill="#121212"/><rect x="168.0" y="641.9" width="12.3" height="4.3" fill="#131313"/><rect x="180.0" y="641.9" width="12.3" height="4.3" fill="#141414"/><rect x="192.0" y="641.9" width="4.3" height="4.3" fill="#151515"/><rect x="196.0" y="641.9" width="4.3" height="4.3" fill="#161616"/><rect x="60.0" y="645.9" width="112.3" height="4.3" fill="#121212"/><rect x="172.0" y="645.9" width="16.3" height="4.3" fill="#131313"/><rect x="188.0" y="645.9" width="8.3" height="4.3" fill="#141414"/><rect x="196.0" y="645.9" width="4.3" height="4.3" fill="#151515"/><rect x="60.0" y="649.9" width="120.3" height="4.3" fill="#121212"/><rect x="180.0" y="649.9" width="12.3" height="4.3" fill="#131313"/><rect x="192.0" y="649.9" width="8.3" height="4.3" fill="#141414"/><rect x="60.0" y="653.9" width="124.3" height="4.3" fill="#121212"/><rect x="184.0" y="653.9" width="16.3" height="4.3" fill="#131313"/><rect x="60.0" y="657.9" width="132.3" height="4.3" fill="#121212"/><rect x="192.0" y="657.9" width="8.3" height="4.3" fill="#131313"/><rect x="60.0" y="661.9" width="136.3" height="4.3" fill="#121212"/><rect x="196.0" y="661.9" width="4.3" height="4.3" fill="#131313"/><rect x="60.0" y="665.9" width="140.3" height="4.3" fill="#121212"/><rect x="60.0" y="669.9" width="140.3" height="4.3" fill="#121212"/><rect x="60.0" y="673.9" width="140.3" height="4.3" fill="#121212"/><rect x="60.0" y="677.9" width="140.3" height="4.3" fill="#121212"/><rect x="60.0" y="681.9" width="140.3" height="4.3" fill="#121212"/><rect x="60.0" y="685.9" width="140.3" height="4.3" fill="#121212"/><rect x="60.0" y="689.9" width="140.3" height="4.3" fill="#121212"/><rect x="60.0" y="693.9" width="140.3" height="4.3" fill="#121212"/><rect x="60.0" y="697.9" width="140.3" height="4.3" fill="#121212"/><rect x="60.0" y="701.9" width="140.3" height="4.3" fill="#121212"/><rect x="60.0" y="705.9" width="140.3" height="4.3" fill="#121212"/><rect x="60.0" y="709.9" width="140.3" height="4.3" fill="#121212"/><rect x="60.0" y="713.9" width="140.3" height="4.3" fill="#121212"/><rect x="60.0" y="717.9" width="140.3" height="4.3" fill="#121212"/><rect x="60.0" y="721.9" width="140.3" height="4.3" fill="#121212"/><rect x="60.0" y="725.9" width="140.3" height="4.3" fill="#121212"/><rect x="60.0" y="729.9" width="140.3" height="4.3" fill="#121212"/><rect x="60.0" y="733.9" width="140.3" height="4.3" fill="#121212"/><rect x="60.0" y="737.9" width="140.3" height="4.3" fill="#121212"/></g>
<polyline points="121.90,409.90 125.70,443.00 130.20,479.00 138.80,560.00 141.50,590.00 149.60,680.00 153.40,729.50" fill="none" stroke="url(#an_b)" stroke-width="1.4" style="mix-blend-mode:lighten"/>
<rect x="129.60" y="409.9" width="1.20" height="319.0" fill="url(#ctr_b)" style="mix-blend-mode:lighten"/>
<g filter="url(#blur05)" style="mix-blend-mode:lighten">
<ellipse cx="130.20" cy="414.0" rx="0.70" ry="4.0" fill="#565656"/>
<ellipse cx="130.20" cy="432.5" rx="1.10" ry="13.0" fill="#9f9f9f"/>
<ellipse cx="130.20" cy="448.0" rx="0.70" ry="2.0" fill="#797979"/>
<ellipse cx="130.20" cy="464.0" rx="1.30" ry="15.0" fill="#b2b2b2"/>
<ellipse cx="130.20" cy="494.0" rx="1.40" ry="15.0" fill="#c2c2c2"/>
<ellipse cx="130.20" cy="523.5" rx="1.10" ry="12.5" fill="#9f9f9f"/>
<ellipse cx="130.20" cy="553.5" rx="1.10" ry="14.5" fill="#8c8c8c"/>
<ellipse cx="130.20" cy="585.5" rx="1.00" ry="14.5" fill="#636363"/>
<ellipse cx="130.20" cy="617.0" rx="1.10" ry="14.0" fill="#535353"/>
<ellipse cx="130.20" cy="648.0" rx="1.10" ry="14.0" fill="#434343"/>
<ellipse cx="130.20" cy="679.0" rx="1.10" ry="14.0" fill="#363636"/>
<ellipse cx="130.20" cy="710.0" rx="1.10" ry="14.0" fill="#303030"/>
<ellipse cx="130.20" cy="740.0" rx="1.10" ry="14.0" fill="#292929"/>
</g>
<defs><linearGradient id="cs_b" gradientUnits="userSpaceOnUse" x1="137.80" y1="455.0" x2="121.80" y2="502.0"><stop offset="0" stop-color="#535353"/><stop offset="0.25" stop-color="#939393"/><stop offset="0.5" stop-color="#acacac"/><stop offset="0.75" stop-color="#8c8c8c"/><stop offset="1" stop-color="#4d4d4d"/></linearGradient></defs>
<line x1="137.80" y1="455.0" x2="121.80" y2="502.0" stroke="url(#cs_b)" stroke-width="1.5" stroke-linecap="round" style="mix-blend-mode:lighten"/>
<rect x="100.3" y="439.5" width="60.0" height="80.0" fill="url(#glow_b)" style="mix-blend-mode:lighten"/>
<rect x="115.3" y="459.5" width="30.0" height="40.0" fill="url(#pk_b)" style="mix-blend-mode:lighten"/>
</g>
<defs><linearGradient id="sg1_b" gradientUnits="userSpaceOnUse" x1="0" y1="409" x2="0" y2="729"><stop offset="0" stop-color="#4650bc"/><stop offset="0.35" stop-color="#4c5ac0"/><stop offset="0.6" stop-color="#5c66c6"/><stop offset="1" stop-color="#6a72cc"/></linearGradient>
<linearGradient id="sg2_b" gradientUnits="userSpaceOnUse" x1="0" y1="409" x2="0" y2="729"><stop offset="0" stop-color="#4a56c0"/><stop offset="0.35" stop-color="#5462c4"/><stop offset="0.6" stop-color="#7a84d2"/><stop offset="1" stop-color="#8c94d8"/></linearGradient></defs>
<polygon points="67.55,405.00 68.57,415.00 69.59,425.00 70.61,435.00 71.63,445.00 72.65,455.00 73.67,465.00 74.69,475.00 75.71,485.00 76.73,495.00 77.75,505.00 78.77,515.00 79.79,525.00 80.81,535.00 81.83,545.00 82.85,555.00 83.87,565.00 84.89,575.00 85.91,585.00 86.93,595.00 87.95,605.00 88.97,615.00 89.99,625.00 91.01,635.00 92.03,645.00 93.05,655.00 94.07,665.00 95.09,675.00 96.11,685.00 97.13,695.00 98.15,705.00 99.17,715.00 100.19,725.00 101.21,735.00 104.01,735.00 102.99,725.00 101.97,715.00 100.95,705.00 99.93,695.00 98.91,685.00 97.89,675.00 96.87,665.00 95.85,655.00 94.83,645.00 93.81,635.00 92.79,625.00 91.77,615.00 90.75,605.00 89.73,595.00 88.71,585.00 87.69,575.00 86.67,565.00 85.65,555.00 84.63,545.00 83.61,535.00 82.59,525.00 81.57,515.00 80.55,505.00 79.53,495.00 78.51,485.00 77.49,475.00 76.47,465.00 75.45,455.00 74.43,445.00 73.41,435.00 72.39,425.00 71.37,415.00 70.35,405.00" fill="url(#sg1_b)"/>
<polygon points="70.35,405.00 71.37,415.00 72.39,425.00 73.41,435.00 74.43,445.00 75.45,455.00 76.47,465.00 77.49,475.00 78.51,485.00 79.53,495.00 80.55,505.00 81.57,515.00 82.59,525.00 83.61,535.00 84.63,545.00 85.65,555.00 86.67,565.00 87.69,575.00 88.71,585.00 89.73,595.00 90.75,605.00 91.77,615.00 92.79,625.00 93.81,635.00 94.83,645.00 95.85,655.00 96.87,665.00 97.89,675.00 98.91,685.00 99.93,695.00 100.95,705.00 101.97,715.00 102.99,725.00 104.01,735.00 106.21,735.00 105.19,725.00 104.17,715.00 103.15,705.00 102.13,695.00 101.11,685.00 100.09,675.00 99.07,665.00 98.05,655.00 97.03,645.00 96.01,635.00 94.99,625.00 93.97,615.00 92.95,605.00 91.93,595.00 90.91,585.00 89.89,575.00 88.87,565.00 87.85,555.00 86.83,545.00 85.81,535.00 84.79,525.00 83.77,515.00 82.75,505.00 81.73,495.00 80.71,485.00 79.69,475.00 78.67,465.00 77.65,455.00 76.63,445.00 75.61,435.00 74.59,425.00 73.57,415.00 72.55,405.00" fill="url(#sg2_b)" opacity="0.85"/>
<polygon points="72.55,405.00 73.57,415.00 74.59,425.00 75.61,435.00 76.63,445.00 77.65,455.00 78.67,465.00 79.69,475.00 80.71,485.00 81.73,495.00 82.75,505.00 83.77,515.00 84.79,525.00 85.81,535.00 86.83,545.00 87.85,555.00 88.87,565.00 89.89,575.00 90.91,585.00 91.93,595.00 92.95,605.00 93.97,615.00 94.99,625.00 96.01,635.00 97.03,645.00 98.05,655.00 99.07,665.00 100.09,675.00 101.11,685.00 102.13,695.00 103.15,705.00 104.17,715.00 105.19,725.00 106.21,735.00 108.41,735.00 107.39,725.00 106.37,715.00 105.35,705.00 104.33,695.00 103.31,685.00 102.29,675.00 101.27,665.00 100.25,655.00 99.23,645.00 98.21,635.00 97.19,625.00 96.17,615.00 95.15,605.00 94.13,595.00 93.11,585.00 92.09,575.00 91.07,565.00 90.05,555.00 89.03,545.00 88.01,535.00 86.99,525.00 85.97,515.00 84.95,505.00 83.93,495.00 82.91,485.00 81.89,475.00 80.87,465.00 79.85,455.00 78.83,445.00 77.81,435.00 76.79,425.00 75.77,415.00 74.75,405.00" fill="url(#sg2_b)" opacity="0.45"/>
</g></g>
<clipPath id="clip_c"><polygon points="184.15,409.90 270.89,409.90 302.92,728.90 216.69,728.90"/></clipPath>
<clipPath id="pclip_c"><rect x="190.40" y="409.90" width="115.10" height="319.00"/></clipPath>
<defs><radialGradient id="fld0_c" gradientUnits="userSpaceOnUse" cx="0" cy="0" r="1" gradientTransform="translate(245.40 479.00) rotate(-20.0) scale(79.56 198.90)"><stop offset="0.0000" stop-color="#434343"/><stop offset="0.3771" stop-color="#333333"/><stop offset="0.5656" stop-color="#262626"/><stop offset="0.7164" stop-color="#1d1d1d"/><stop offset="0.8296" stop-color="#131313"/><stop offset="0.9804" stop-color="#0b0b0b"/><stop offset="1" stop-color="#000"/></radialGradient><radialGradient id="fld1_c" gradientUnits="userSpaceOnUse" cx="0" cy="0" r="1" gradientTransform="translate(230.40 452.00) rotate(-35.0) scale(73.44 89.76)"><stop offset="0.0000" stop-color="#464646"/><stop offset="0.3676" stop-color="#3e3e3e"/><stop offset="0.6127" stop-color="#303030"/><stop offset="0.7966" stop-color="#202020"/><stop offset="0.9804" stop-color="#0b0b0b"/><stop offset="1" stop-color="#000"/></radialGradient><radialGradient id="fld2_c" gradientUnits="userSpaceOnUse" cx="0" cy="0" r="1" gradientTransform="translate(244.90 478.00) rotate(-15.0) scale(99.96 121.38)"><stop offset="0.0000" stop-color="#707070"/><stop offset="0.1401" stop-color="#606060"/><stop offset="0.2801" stop-color="#4f4f4f"/><stop offset="0.3922" stop-color="#464646"/><stop offset="0.5042" stop-color="#3d3d3d"/><stop offset="0.6443" stop-color="#303030"/><stop offset="0.7843" stop-color="#262626"/><stop offset="0.9804" stop-color="#0b0b0b"/><stop offset="1" stop-color="#000"/></radialGradient><radialGradient id="glow_c" gradientUnits="userSpaceOnUse" cx="0" cy="0" r="1" gradientTransform="translate(245.80 480.10) scale(25.8 35.2)"><stop offset="0.0000" stop-color="#bfbfbf"/><stop offset="0.1279" stop-color="#a6a6a6"/><stop offset="0.2558" stop-color="#8e8e8e"/><stop offset="0.4263" stop-color="#797979"/><stop offset="0.5968" stop-color="#6e6e6e"/><stop offset="0.8099" stop-color="#636363"/><stop offset="0.9804" stop-color="#595959"/><stop offset="1" stop-color="#000"/></radialGradient><radialGradient id="pk_c" gradientUnits="userSpaceOnUse" cx="0" cy="0" r="1" gradientTransform="translate(245.50 479.90) rotate(16) scale(2.10 12.50)"><stop offset="0.0000" stop-color="#fdfdfd"/><stop offset="0.3431" stop-color="#ededed"/><stop offset="0.5882" stop-color="#d6d6d6"/><stop offset="0.7843" stop-color="#cccccc"/><stop offset="0.9804" stop-color="#b2b2b2"/><stop offset="1" stop-color="#000"/></radialGradient><linearGradient id="ctr_c" gradientUnits="userSpaceOnUse" x1="0" y1="409.9" x2="0" y2="728.9"><stop offset="0.0003" stop-color="#333333"/><stop offset="0.0944" stop-color="#464646"/><stop offset="0.2166" stop-color="#666666"/><stop offset="0.3451" stop-color="#535353"/><stop offset="0.4705" stop-color="#404040"/><stop offset="0.5959" stop-color="#2d2d2d"/><stop offset="1.0003" stop-color="#202020"/></linearGradient><linearGradient id="an_c" gradientUnits="userSpaceOnUse" x1="0" y1="409.9" x2="0" y2="728.9"><stop offset="0.0003" stop-color="#535353"/><stop offset="0.0944" stop-color="#606060"/><stop offset="0.1884" stop-color="#868686"/><stop offset="0.2166" stop-color="#a6a6a6"/><stop offset="0.2511" stop-color="#868686"/><stop offset="0.3451" stop-color="#606060"/><stop offset="0.4705" stop-color="#535353"/><stop offset="0.5959" stop-color="#4d4d4d"/><stop offset="0.7213" stop-color="#3d3d3d"/><stop offset="0.8467" stop-color="#303030"/><stop offset="1.0003" stop-color="#292929"/></linearGradient></defs>
<g clip-path="url(#pclip_c)"><g clip-path="url(#clip_c)"><g filter="url(#cm)">
<g filter="url(#blur3)"><rect x="175.1" y="397.9" width="4.3" height="4.3" fill="#272727"/><rect x="179.1" y="397.9" width="4.3" height="4.3" fill="#282828"/><rect x="183.1" y="397.9" width="4.3" height="4.3" fill="#2a2a2a"/><rect x="187.1" y="397.9" width="4.3" height="4.3" fill="#2c2c2c"/><rect x="191.1" y="397.9" width="4.3" height="4.3" fill="#2f2f2f"/><rect x="195.1" y="397.9" width="4.3" height="4.3" fill="#303030"/><rect x="199.1" y="397.9" width="4.3" height="4.3" fill="#323232"/><rect x="203.1" y="397.9" width="4.3" height="4.3" fill="#333333"/><rect x="207.1" y="397.9" width="4.3" height="4.3" fill="#343434"/><rect x="211.1" y="397.9" width="8.3" height="4.3" fill="#353535"/><rect x="219.1" y="397.9" width="4.3" height="4.3" fill="#343434"/><rect x="223.1" y="397.9" width="4.3" height="4.3" fill="#333333"/><rect x="227.1" y="397.9" width="4.3" height="4.3" fill="#323232"/><rect x="231.1" y="397.9" width="4.3" height="4.3" fill="#303030"/><rect x="235.1" y="397.9" width="4.3" height="4.3" fill="#2f2f2f"/><rect x="239.1" y="397.9" width="4.3" height="4.3" fill="#2c2c2c"/><rect x="243.1" y="397.9" width="4.3" height="4.3" fill="#2a2a2a"/><rect x="247.1" y="397.9" width="4.3" height="4.3" fill="#282828"/><rect x="251.1" y="397.9" width="4.3" height="4.3" fill="#252525"/><rect x="255.1" y="397.9" width="4.3" height="4.3" fill="#232323"/><rect x="259.1" y="397.9" width="4.3" height="4.3" fill="#212121"/><rect x="263.1" y="397.9" width="52.3" height="4.3" fill="#1f1f1f"/><rect x="175.1" y="401.9" width="4.3" height="4.3" fill="#292929"/><rect x="179.1" y="401.9" width="4.3" height="4.3" fill="#2a2a2a"/><rect x="183.1" y="401.9" width="4.3" height="4.3" fill="#2c2c2c"/><rect x="187.1" y="401.9" width="4.3" height="4.3" fill="#2f2f2f"/><rect x="191.1" y="401.9" width="4.3" height="4.3" fill="#313131"/><rect x="195.1" y="401.9" width="4.3" height="4.3" fill="#343434"/><rect x="199.1" y="401.9" width="4.3" height="4.3" fill="#353535"/><rect x="203.1" y="401.9" width="4.3" height="4.3" fill="#373737"/><rect x="207.1" y="401.9" width="16.3" height="4.3" fill="#383838"/><rect x="223.1" y="401.9" width="4.3" height="4.3" fill="#373737"/><rect x="227.1" y="401.9" width="4.3" height="4.3" fill="#353535"/><rect x="231.1" y="401.9" width="4.3" height="4.3" fill="#343434"/><rect x="235.1" y="401.9" width="4.3" height="4.3" fill="#313131"/><rect x="239.1" y="401.9" width="4.3" height="4.3" fill="#2f2f2f"/><rect x="243.1" y="401.9" width="4.3" height="4.3" fill="#2c2c2c"/><rect x="247.1" y="401.9" width="4.3" height="4.3" fill="#2a2a2a"/><rect x="251.1" y="401.9" width="4.3" height="4.3" fill="#272727"/><rect x="255.1" y="401.9" width="4.3" height="4.3" fill="#252525"/><rect x="259.1" y="401.9" width="4.3" height="4.3" fill="#222222"/><rect x="263.1" y="401.9" width="4.3" height="4.3" fill="#202020"/><rect x="267.1" y="401.9" width="48.3" height="4.3" fill="#1f1f1f"/><rect x="175.1" y="405.9" width="4.3" height="4.3" fill="#2b2b2b"/><rect x="179.1" y="405.9" width="4.3" height="4.3" fill="#2d2d2d"/><rect x="183.1" y="405.9" width="4.3" height="4.3" fill="#2f2f2f"/><rect x="187.1" y="405.9" width="4.3" height="4.3" fill="#323232"/><rect x="191.1" y="405.9" width="4.3" height="4.3" fill="#343434"/><rect x="195.1" y="405.9" width="4.3" height="4.3" fill="#363636"/><rect x="199.1" y="405.9" width="4.3" height="4.3" fill="#393939"/><rect x="203.1" y="405.9" width="24.3" height="4.3" fill="#3a3a3a"/><rect x="227.1" y="405.9" width="4.3" height="4.3" fill="#393939"/><rect x="231.1" y="405.9" width="4.3" height="4.3" fill="#363636"/><rect x="235.1" y="405.9" width="4.3" height="4.3" fill="#343434"/><rect x="239.1" y="405.9" width="4.3" height="4.3" fill="#323232"/><rect x="243.1" y="405.9" width="4.3" height="4.3" fill="#2f2f2f"/><rect x="247.1" y="405.9" width="4.3" height="4.3" fill="#2c2c2c"/><rect x="251.1" y="405.9" width="4.3" height="4.3" fill="#292929"/><rect x="255.1" y="405.9" width="4.3" height="4.3" fill="#262626"/><rect x="259.1" y="405.9" width="4.3" height="4.3" fill="#242424"/><rect x="263.1" y="405.9" width="4.3" height="4.3" fill="#212121"/><rect x="267.1" y="405.9" width="48.3" height="4.3" fill="#1f1f1f"/><rect x="175.1" y="409.9" width="4.3" height="4.3" fill="#2d2d2d"/><rect x="179.1" y="409.9" width="4.3" height="4.3" fill="#2f2f2f"/><rect x="183.1" y="409.9" width="4.3" height="4.3" fill="#313131"/><rect x="187.1" y="409.9" width="4.3" height="4.3" fill="#343434"/><rect x="191.1" y="409.9" width="4.3" height="4.3" fill="#373737"/><rect x="195.1" y="409.9" width="4.3" height="4.3" fill="#393939"/><rect x="199.1" y="409.9" width="8.3" height="4.3" fill="#3a3a3a"/><rect x="207.1" y="409.9" width="16.3" height="4.3" fill="#3b3b3b"/><rect x="223.1" y="409.9" width="8.3" height="4.3" fill="#3a3a3a"/><rect x="231.1" y="409.9" width="4.3" height="4.3" fill="#393939"/><rect x="235.1" y="409.9" width="4.3" height="4.3" fill="#373737"/><rect x="239.1" y="409.9" width="4.3" height="4.3" fill="#343434"/><rect x="243.1" y="409.9" width="4.3" height="4.3" fill="#313131"/><rect x="247.1" y="409.9" width="4.3" height="4.3" fill="#2e2e2e"/><rect x="251.1" y="409.9" width="4.3" height="4.3" fill="#2a2a2a"/><rect x="255.1" y="409.9" width="4.3" height="4.3" fill="#282828"/><rect x="259.1" y="409.9" width="4.3" height="4.3" fill="#252525"/><rect x="263.1" y="409.9" width="4.3" height="4.3" fill="#222222"/><rect x="267.1" y="409.9" width="48.3" height="4.3" fill="#1f1f1f"/><rect x="175.1" y="413.9" width="4.3" height="4.3" fill="#2f2f2f"/><rect x="179.1" y="413.9" width="4.3" height="4.3" fill="#313131"/><rect x="183.1" y="413.9" width="4.3" height="4.3" fill="#343434"/><rect x="187.1" y="413.9" width="4.3" height="4.3" fill="#363636"/><rect x="191.1" y="413.9" width="4.3" height="4.3" fill="#393939"/><rect x="195.1" y="413.9" width="4.3" height="4.3" fill="#3a3a3a"/><rect x="199.1" y="413.9" width="12.3" height="4.3" fill="#3b3b3b"/><rect x="211.1" y="413.9" width="8.3" height="4.3" fill="#3c3c3c"/><rect x="219.1" y="413.9" width="12.3" height="4.3" fill="#3b3b3b"/><rect x="231.1" y="413.9" width="4.3" height="4.3" fill="#3a3a3a"/><rect x="235.1" y="413.9" width="4.3" height="4.3" fill="#393939"/><rect x="239.1" y="413.9" width="4.3" height="4.3" fill="#363636"/><rect x="243.1" y="413.9" width="4.3" height="4.3" fill="#333333"/><rect x="247.1" y="413.9" width="4.3" height="4.3" fill="#303030"/><rect x="251.1" y="413.9" width="4.3" height="4.3" fill="#2c2c2c"/><rect x="255.1" y="413.9" width="4.3" height="4.3" fill="#292929"/><rect x="259.1" y="413.9" width="4.3" height="4.3" fill="#262626"/><rect x="263.1" y="413.9" width="4.3" height="4.3" fill="#232323"/><rect x="267.1" y="413.9" width="4.3" height="4.3" fill="#202020"/><rect x="271.1" y="413.9" width="44.3" height="4.3" fill="#1f1f1f"/><rect x="175.1" y="417.9" width="4.3" height="4.3" fill="#313131"/><rect x="179.1" y="417.9" width="4.3" height="4.3" fill="#333333"/><rect x="183.1" y="417.9" width="4.3" height="4.3" fill="#363636"/><rect x="187.1" y="417.9" width="4.3" height="4.3" fill="#383838"/><rect x="191.1" y="417.9" width="4.3" height="4.3" fill="#3a3a3a"/><rect x="195.1" y="417.9" width="8.3" height="4.3" fill="#3b3b3b"/><rect x="203.1" y="417.9" width="8.3" height="4.3" fill="#3c3c3c"/><rect x="211.1" y="417.9" width="8.3" height="4.3" fill="#3d3d3d"/><rect x="219.1" y="417.9" width="8.3" height="4.3" fill="#3c3c3c"/><rect x="227.1" y="417.9" width="8.3" height="4.3" fill="#3b3b3b"/><rect x="235.1" y="417.9" width="4.3" height="4.3" fill="#3a3a3a"/><rect x="239.1" y="417.9" width="4.3" height="4.3" fill="#383838"/><rect x="243.1" y="417.9" width="4.3" height="4.3" fill="#343434"/><rect x="247.1" y="417.9" width="4.3" height="4.3" fill="#313131"/><rect x="251.1" y="417.9" width="4.3" height="4.3" fill="#2d2d2d"/><rect x="255.1" y="417.9" width="4.3" height="4.3" fill="#2a2a2a"/><rect x="259.1" y="417.9" width="4.3" height="4.3" fill="#272727"/><rect x="263.1" y="417.9" width="4.3" height="4.3" fill="#252525"/><rect x="267.1" y="417.9" width="4.3" height="4.3" fill="#222222"/><rect x="271.1" y="417.9" width="44.3" height="4.3" fill="#1f1f1f"/><rect x="175.1" y="421.9" width="4.3" height="4.3" fill="#323232"/><rect x="179.1" y="421.9" width="4.3" height="4.3" fill="#353535"/><rect x="183.1" y="421.9" width="4.3" height="4.3" fill="#373737"/><rect x="187.1" y="421.9" width="4.3" height="4.3" fill="#393939"/><rect x="191.1" y="421.9" width="4.3" height="4.3" fill="#3b3b3b"/><rect x="195.1" y="421.9" width="4.3" height="4.3" fill="#3c3c3c"/><rect x="199.1" y="421.9" width="4.3" height="4.3" fill="#3d3d3d"/><rect x="203.1" y="421.9" width="8.3" height="4.3" fill="#3e3e3e"/><rect x="211.1" y="421.9" width="8.3" height="4.3" fill="#3f3f3f"/><rect x="219.1" y="421.9" width="8.3" height="4.3" fill="#3e3e3e"/><rect x="227.1" y="421.9" width="4.3" height="4.3" fill="#3d3d3d"/><rect x="231.1" y="421.9" width="4.3" height="4.3" fill="#3c3c3c"/><rect x="235.1" y="421.9" width="4.3" height="4.3" fill="#3a3a3a"/><rect x="239.1" y="421.9" width="4.3" height="4.3" fill="#393939"/><rect x="243.1" y="421.9" width="4.3" height="4.3" fill="#373737"/><rect x="247.1" y="421.9" width="4.3" height="4.3" fill="#343434"/><rect x="251.1" y="421.9" width="4.3" height="4.3" fill="#323232"/><rect x="255.1" y="421.9" width="4.3" height="4.3" fill="#2f2f2f"/><rect x="259.1" y="421.9" width="4.3" height="4.3" fill="#2b2b2b"/><rect x="263.1" y="421.9" width="4.3" height="4.3" fill="#282828"/><rect x="267.1" y="421.9" width="4.3" height="4.3" fill="#262626"/><rect x="271.1" y="421.9" width="4.3" height="4.3" fill="#232323"/><rect x="275.1" y="421.9" width="4.3" height="4.3" fill="#202020"/><rect x="279.1" y="421.9" width="36.3" height="4.3" fill="#1f1f1f"/><rect x="175.1" y="425.9" width="4.3" height="4.3" fill="#343434"/><rect x="179.1" y="425.9" width="4.3" height="4.3" fill="#363636"/><rect x="183.1" y="425.9" width="4.3" height="4.3" fill="#393939"/><rect x="187.1" y="425.9" width="4.3" height="4.3" fill="#3a3a3a"/><rect x="191.1" y="425.9" width="4.3" height="4.3" fill="#3c3c3c"/><rect x="195.1" y="425.9" width="4.3" height="4.3" fill="#3e3e3e"/><rect x="199.1" y="425.9" width="4.3" height="4.3" fill="#3f3f3f"/><rect x="203.1" y="425.9" width="8.3" height="4.3" fill="#404040"/><rect x="211.1" y="425.9" width="12.3" height="4.3" fill="#414141"/><rect x="223.1" y="425.9" width="8.3" height="4.3" fill="#404040"/><rect x="231.1" y="425.9" width="4.3" height="4.3" fill="#3f3f3f"/><rect x="235.1" y="425.9" width="4.3" height="4.3" fill="#3e3e3e"/><rect x="239.1" y="425.9" width="4.3" height="4.3" fill="#3c3c3c"/><rect x="243.1" y="425.9" width="4.3" height="4.3" fill="#3a3a3a"/><rect x="247.1" y="425.9" width="4.3" height="4.3" fill="#383838"/><rect x="251.1" y="425.9" width="4.3" height="4.3" fill="#363636"/><rect x="255.1" y="425.9" width="4.3" height="4.3" fill="#333333"/><rect x="259.1" y="425.9" width="4.3" height="4.3" fill="#303030"/><rect x="263.1" y="425.9" width="4.3" height="4.3" fill="#2d2d2d"/><rect x="267.1" y="425.9" width="4.3" height="4.3" fill="#292929"/><rect x="271.1" y="425.9" width="4.3" height="4.3" fill="#262626"/><rect x="275.1" y="425.9" width="4.3" height="4.3" fill="#232323"/><rect x="279.1" y="425.9" width="4.3" height="4.3" fill="#202020"/><rect x="283.1" y="425.9" width="32.3" height="4.3" fill="#1f1f1f"/><rect x="175.1" y="429.9" width="4.3" height="4.3" fill="#343434"/><rect x="179.1" y="429.9" width="4.3" height="4.3" fill="#373737"/><rect x="183.1" y="429.9" width="4.3" height="4.3" fill="#3a3a3a"/><rect x="187.1" y="429.9" width="4.3" height="4.3" fill="#3c3c3c"/><rect x="191.1" y="429.9" width="4.3" height="4.3" fill="#3e3e3e"/><rect x="195.1" y="429.9" width="4.3" height="4.3" fill="#3f3f3f"/><rect x="199.1" y="429.9" width="4.3" height="4.3" fill="#404040"/><rect x="203.1" y="429.9" width="4.3" height="4.3" fill="#414141"/><rect x="207.1" y="429.9" width="32.3" height="4.3" fill="#424242"/><rect x="239.1" y="429.9" width="4.3" height="4.3" fill="#414141"/><rect x="243.1" y="429.9" width="4.3" height="4.3" fill="#404040"/><rect x="247.1" y="429.9" width="4.3" height="4.3" fill="#3f3f3f"/><rect x="251.1" y="429.9" width="4.3" height="4.3" fill="#3c3c3c"/><rect x="255.1" y="429.9" width="4.3" height="4.3" fill="#383838"/><rect x="259.1" y="429.9" width="4.3" height="4.3" fill="#343434"/><rect x="263.1" y="429.9" width="4.3" height="4.3" fill="#313131"/><rect x="267.1" y="429.9" width="4.3" height="4.3" fill="#2d2d2d"/><rect x="271.1" y="429.9" width="4.3" height="4.3" fill="#2a2a2a"/><rect x="275.1" y="429.9" width="4.3" height="4.3" fill="#272727"/><rect x="279.1" y="429.9" width="4.3" height="4.3" fill="#242424"/><rect x="283.1" y="429.9" width="4.3" height="4.3" fill="#212121"/><rect x="287.1" y="429.9" width="28.3" height="4.3" fill="#1f1f1f"/><rect x="175.1" y="433.9" width="4.3" height="4.3" fill="#353535"/><rect x="179.1" y="433.9" width="4.3" height="4.3" fill="#383838"/><rect x="183.1" y="433.9" width="4.3" height="4.3" fill="#3a3a3a"/><rect x="187.1" y="433.9" width="4.3" height="4.3" fill="#3d3d3d"/><rect x="191.1" y="433.9" width="4.3" height="4.3" fill="#3f3f3f"/><rect x="195.1" y="433.9" width="4.3" height="4.3" fill="#404040"/><rect x="199.1" y="433.9" width="4.3" height="4.3" fill="#414141"/><rect x="203.1" y="433.9" width="4.3" height="4.3" fill="#424242"/><rect x="207.1" y="433.9" width="8.3" height="4.3" fill="#434343"/><rect x="215.1" y="433.9" width="8.3" height="4.3" fill="#444444"/><rect x="223.1" y="433.9" width="4.3" height="4.3" fill="#454545"/><rect x="227.1" y="433.9" width="12.3" height="4.3" fill="#464646"/><rect x="239.1" y="433.9" width="4.3" height="4.3" fill="#454545"/><rect x="243.1" y="433.9" width="4.3" height="4.3" fill="#444444"/><rect x="247.1" y="433.9" width="4.3" height="4.3" fill="#434343"/><rect x="251.1" y="433.9" width="4.3" height="4.3" fill="#424242"/><rect x="255.1" y="433.9" width="4.3" height="4.3" fill="#404040"/><rect x="259.1" y="433.9" width="4.3" height="4.3" fill="#3c3c3c"/><rect x="263.1" y="433.9" width="4.3" height="4.3" fill="#373737"/><rect x="267.1" y="433.9" width="4.3" height="4.3" fill="#323232"/><rect x="271.1" y="433.9" width="4.3" height="4.3" fill="#2e2e2e"/><rect x="275.1" y="433.9" width="4.3" height="4.3" fill="#2a2a2a"/><rect x="279.1" y="433.9" width="4.3" height="4.3" fill="#272727"/><rect x="283.1" y="433.9" width="4.3" height="4.3" fill="#242424"/><rect x="287.1" y="433.9" width="4.3" height="4.3" fill="#212121"/><rect x="291.1" y="433.9" width="24.3" height="4.3" fill="#1f1f1f"/><rect x="175.1" y="437.9" width="4.3" height="4.3" fill="#353535"/><rect x="179.1" y="437.9" width="4.3" height="4.3" fill="#383838"/><rect x="183.1" y="437.9" width="4.3" height="4.3" fill="#3b3b3b"/><rect x="187.1" y="437.9" width="4.3" height="4.3" fill="#3d3d3d"/><rect x="191.1" y="437.9" width="4.3" height="4.3" fill="#404040"/><rect x="195.1" y="437.9" width="4.3" height="4.3" fill="#414141"/><rect x="199.1" y="437.9" width="4.3" height="4.3" fill="#424242"/><rect x="203.1" y="437.9" width="4.3" height="4.3" fill="#434343"/><rect x="207.1" y="437.9" width="8.3" height="4.3" fill="#444444"/><rect x="215.1" y="437.9" width="4.3" height="4.3" fill="#464646"/><rect x="219.1" y="437.9" width="4.3" height="4.3" fill="#474747"/><rect x="223.1" y="437.9" width="4.3" height="4.3" fill="#484848"/><rect x="227.1" y="437.9" width="16.3" height="4.3" fill="#494949"/><rect x="243.1" y="437.9" width="4.3" height="4.3" fill="#484848"/><rect x="247.1" y="437.9" width="4.3" height="4.3" fill="#474747"/><rect x="251.1" y="437.9" width="4.3" height="4.3" fill="#454545"/><rect x="255.1" y="437.9" width="4.3" height="4.3" fill="#434343"/><rect x="259.1" y="437.9" width="4.3" height="4.3" fill="#414141"/><rect x="263.1" y="437.9" width="4.3" height="4.3" fill="#3f3f3f"/><rect x="267.1" y="437.9" width="4.3" height="4.3" fill="#3a3a3a"/><rect x="271.1" y="437.9" width="4.3" height="4.3" fill="#343434"/><rect x="275.1" y="437.9" width="4.3" height="4.3" fill="#2f2f2f"/><rect x="279.1" y="437.9" width="4.3" height="4.3" fill="#2b2b2b"/><rect x="283.1" y="437.9" width="4.3" height="4.3" fill="#272727"/><rect x="287.1" y="437.9" width="4.3" height="4.3" fill="#242424"/><rect x="291.1" y="437.9" width="4.3" height="4.3" fill="#212121"/><rect x="295.1" y="437.9" width="20.3" height="4.3" fill="#1f1f1f"/><rect x="175.1" y="441.9" width="4.3" height="4.3" fill="#353535"/><rect x="179.1" y="441.9" width="4.3" height="4.3" fill="#383838"/><rect x="183.1" y="441.9" width="4.3" height="4.3" fill="#3b3b3b"/><rect x="187.1" y="441.9" width="4.3" height="4.3" fill="#3e3e3e"/><rect x="191.1" y="441.9" width="4.3" height="4.3" fill="#404040"/><rect x="195.1" y="441.9" width="4.3" height="4.3" fill="#414141"/><rect x="199.1" y="441.9" width="4.3" height="4.3" fill="#434343"/><rect x="203.1" y="441.9" width="4.3" height="4.3" fill="#444444"/><rect x="207.1" y="441.9" width="4.3" height="4.3" fill="#454545"/><rect x="211.1" y="441.9" width="4.3" height="4.3" fill="#464646"/><rect x="215.1" y="441.9" width="4.3" height="4.3" fill="#484848"/><rect x="219.1" y="441.9" width="4.3" height="4.3" fill="#4a4a4a"/><rect x="223.1" y="441.9" width="4.3" height="4.3" fill="#4b4b4b"/><rect x="227.1" y="441.9" width="4.3" height="4.3" fill="#4c4c4c"/><rect x="231.1" y="441.9" width="8.3" height="4.3" fill="#4d4d4d"/><rect x="239.1" y="441.9" width="8.3" height="4.3" fill="#4c4c4c"/><rect x="247.1" y="441.9" width="4.3" height="4.3" fill="#4a4a4a"/><rect x="251.1" y="441.9" width="4.3" height="4.3" fill="#494949"/><rect x="255.1" y="441.9" width="4.3" height="4.3" fill="#474747"/><rect x="259.1" y="441.9" width="4.3" height="4.3" fill="#454545"/><rect x="263.1" y="441.9" width="4.3" height="4.3" fill="#434343"/><rect x="267.1" y="441.9" width="4.3" height="4.3" fill="#404040"/><rect x="271.1" y="441.9" width="4.3" height="4.3" fill="#3b3b3b"/><rect x="275.1" y="441.9" width="4.3" height="4.3" fill="#353535"/><rect x="279.1" y="441.9" width="4.3" height="4.3" fill="#2f2f2f"/><rect x="283.1" y="441.9" width="4.3" height="4.3" fill="#2b2b2b"/><rect x="287.1" y="441.9" width="4.3" height="4.3" fill="#272727"/><rect x="291.1" y="441.9" width="4.3" height="4.3" fill="#242424"/><rect x="295.1" y="441.9" width="4.3" height="4.3" fill="#212121"/><rect x="299.1" y="441.9" width="16.3" height="4.3" fill="#1f1f1f"/><rect x="175.1" y="445.9" width="4.3" height="4.3" fill="#353535"/><rect x="179.1" y="445.9" width="4.3" height="4.3" fill="#383838"/><rect x="183.1" y="445.9" width="4.3" height="4.3" fill="#3b3b3b"/><rect x="187.1" y="445.9" width="4.3" height="4.3" fill="#3e3e3e"/><rect x="191.1" y="445.9" width="4.3" height="4.3" fill="#404040"/><rect x="195.1" y="445.9" width="4.3" height="4.3" fill="#424242"/><rect x="199.1" y="445.9" width="4.3" height="4.3" fill="#434343"/><rect x="203.1" y="445.9" width="4.3" height="4.3" fill="#444444"/><rect x="207.1" y="445.9" width="4.3" height="4.3" fill="#464646"/><rect x="211.1" y="445.9" width="4.3" height="4.3" fill="#494949"/><rect x="215.1" y="445.9" width="4.3" height="4.3" fill="#4b4b4b"/><rect x="219.1" y="445.9" width="4.3" height="4.3" fill="#4d4d4d"/><rect x="223.1" y="445.9" width="4.3" height="4.3" fill="#4e4e4e"/><rect x="227.1" y="445.9" width="4.3" height="4.3" fill="#505050"/><rect x="231.1" y="445.9" width="12.3" height="4.3" fill="#515151"/><rect x="243.1" y="445.9" width="4.3" height="4.3" fill="#505050"/><rect x="247.1" y="445.9" width="4.3" height="4.3" fill="#4e4e4e"/><rect x="251.1" y="445.9" width="4.3" height="4.3" fill="#4d4d4d"/><rect x="255.1" y="445.9" width="4.3" height="4.3" fill="#4b4b4b"/><rect x="259.1" y="445.9" width="4.3" height="4.3" fill="#494949"/><rect x="263.1" y="445.9" width="4.3" height="4.3" fill="#464646"/><rect x="267.1" y="445.9" width="4.3" height="4.3" fill="#444444"/><rect x="271.1" y="445.9" width="4.3" height="4.3" fill="#414141"/><rect x="275.1" y="445.9" width="4.3" height="4.3" fill="#3c3c3c"/><rect x="279.1" y="445.9" width="4.3" height="4.3" fill="#353535"/><rect x="283.1" y="445.9" width="4.3" height="4.3" fill="#2f2f2f"/><rect x="287.1" y="445.9" width="4.3" height="4.3" fill="#2a2a2a"/><rect x="291.1" y="445.9" width="4.3" height="4.3" fill="#272727"/><rect x="295.1" y="445.9" width="4.3" height="4.3" fill="#242424"/><rect x="299.1" y="445.9" width="4.3" height="4.3" fill="#202020"/><rect x="303.1" y="445.9" width="12.3" height="4.3" fill="#1f1f1f"/><rect x="175.1" y="449.9" width="4.3" height="4.3" fill="#343434"/><rect x="179.1" y="449.9" width="4.3" height="4.3" fill="#383838"/><rect x="183.1" y="449.9" width="4.3" height="4.3" fill="#3b3b3b"/><rect x="187.1" y="449.9" width="4.3" height="4.3" fill="#3e3e3e"/><rect x="191.1" y="449.9" width="4.3" height="4.3" fill="#404040"/><rect x="195.1" y="449.9" width="4.3" height="4.3" fill="#424242"/><rect x="199.1" y="449.9" width="4.3" height="4.3" fill="#434343"/><rect x="203.1" y="449.9" width="4.3" height="4.3" fill="#454545"/><rect x="207.1" y="449.9" width="4.3" height="4.3" fill="#484848"/><rect x="211.1" y="449.9" width="4.3" height="4.3" fill="#4a4a4a"/><rect x="215.1" y="449.9" width="4.3" height="4.3" fill="#4d4d4d"/><rect x="219.1" y="449.9" width="4.3" height="4.3" fill="#4f4f4f"/><rect x="223.1" y="449.9" width="4.3" height="4.3" fill="#525252"/><rect x="227.1" y="449.9" width="4.3" height="4.3" fill="#535353"/><rect x="231.1" y="449.9" width="12.3" height="4.3" fill="#555555"/><rect x="243.1" y="449.9" width="4.3" height="4.3" fill="#545454"/><rect x="247.1" y="449.9" width="4.3" height="4.3" fill="#535353"/><rect x="251.1" y="449.9" width="4.3" height="4.3" fill="#515151"/><rect x="255.1" y="449.9" width="4.3" height="4.3" fill="#4e4e4e"/><rect x="259.1" y="449.9" width="4.3" height="4.3" fill="#4c4c4c"/><rect x="263.1" y="449.9" width="4.3" height="4.3" fill="#4a4a4a"/><rect x="267.1" y="449.9" width="4.3" height="4.3" fill="#474747"/><rect x="271.1" y="449.9" width="4.3" height="4.3" fill="#444444"/><rect x="275.1" y="449.9" width="4.3" height="4.3" fill="#414141"/><rect x="279.1" y="449.9" width="4.3" height="4.3" fill="#3b3b3b"/><rect x="283.1" y="449.9" width="4.3" height="4.3" fill="#353535"/><rect x="287.1" y="449.9" width="4.3" height="4.3" fill="#2e2e2e"/><rect x="291.1" y="449.9" width="4.3" height="4.3" fill="#2a2a2a"/><rect x="295.1" y="449.9" width="4.3" height="4.3" fill="#272727"/><rect x="299.1" y="449.9" width="4.3" height="4.3" fill="#232323"/><rect x="303.1" y="449.9" width="4.3" height="4.3" fill="#202020"/><rect x="307.1" y="449.9" width="8.3" height="4.3" fill="#1f1f1f"/><rect x="175.1" y="453.9" width="4.3" height="4.3" fill="#333333"/><rect x="179.1" y="453.9" width="4.3" height="4.3" fill="#373737"/><rect x="183.1" y="453.9" width="4.3" height="4.3" fill="#3a3a3a"/><rect x="187.1" y="453.9" width="4.3" height="4.3" fill="#3d3d3d"/><rect x="191.1" y="453.9" width="4.3" height="4.3" fill="#404040"/><rect x="195.1" y="453.9" width="4.3" height="4.3" fill="#424242"/><rect x="199.1" y="453.9" width="4.3" height="4.3" fill="#434343"/><rect x="203.1" y="453.9" width="4.3" height="4.3" fill="#464646"/><rect x="207.1" y="453.9" width="4.3" height="4.3" fill="#494949"/><rect x="211.1" y="453.9" width="4.3" height="4.3" fill="#4c4c4c"/><rect x="215.1" y="453.9" width="4.3" height="4.3" fill="#4f4f4f"/><rect x="219.1" y="453.9" width="4.3" height="4.3" fill="#525252"/><rect x="223.1" y="453.9" width="4.3" height="4.3" fill="#555555"/><rect x="227.1" y="453.9" width="4.3" height="4.3" fill="#575757"/><rect x="231.1" y="453.9" width="4.3" height="4.3" fill="#595959"/><rect x="235.1" y="453.9" width="8.3" height="4.3" fill="#5a5a5a"/><rect x="243.1" y="453.9" width="4.3" height="4.3" fill="#595959"/><rect x="247.1" y="453.9" width="4.3" height="4.3" fill="#575757"/><rect x="251.1" y="453.9" width="4.3" height="4.3" fill="#555555"/><rect x="255.1" y="453.9" width="4.3" height="4.3" fill="#535353"/><rect x="259.1" y="453.9" width="4.3" height="4.3" fill="#505050"/><rect x="263.1" y="453.9" width="4.3" height="4.3" fill="#4d4d4d"/><rect x="267.1" y="453.9" width="4.3" height="4.3" fill="#4a4a4a"/><rect x="271.1" y="453.9" width="4.3" height="4.3" fill="#474747"/><rect x="275.1" y="453.9" width="4.3" height="4.3" fill="#444444"/><rect x="279.1" y="453.9" width="4.3" height="4.3" fill="#404040"/><rect x="283.1" y="453.9" width="4.3" height="4.3" fill="#3a3a3a"/><rect x="287.1" y="453.9" width="4.3" height="4.3" fill="#333333"/><rect x="291.1" y="453.9" width="4.3" height="4.3" fill="#2e2e2e"/><rect x="295.1" y="453.9" width="4.3" height="4.3" fill="#292929"/><rect x="299.1" y="453.9" width="4.3" height="4.3" fill="#262626"/><rect x="303.1" y="453.9" width="4.3" height="4.3" fill="#222222"/><rect x="307.1" y="453.9" width="8.3" height="4.3" fill="#1f1f1f"/><rect x="175.1" y="457.9" width="4.3" height="4.3" fill="#323232"/><rect x="179.1" y="457.9" width="4.3" height="4.3" fill="#363636"/><rect x="183.1" y="457.9" width="4.3" height="4.3" fill="#393939"/><rect x="187.1" y="457.9" width="4.3" height="4.3" fill="#3d3d3d"/><rect x="191.1" y="457.9" width="4.3" height="4.3" fill="#404040"/><rect x="195.1" y="457.9" width="4.3" height="4.3" fill="#414141"/><rect x="199.1" y="457.9" width="4.3" height="4.3" fill="#444444"/><rect x="203.1" y="457.9" width="4.3" height="4.3" fill="#474747"/><rect x="207.1" y="457.9" width="4.3" height="4.3" fill="#4a4a4a"/><rect x="211.1" y="457.9" width="4.3" height="4.3" fill="#4d4d4d"/><rect x="215.1" y="457.9" width="4.3" height="4.3" fill="#515151"/><rect x="219.1" y="457.9" width="4.3" height="4.3" fill="#545454"/><rect x="223.1" y="457.9" width="4.3" height="4.3" fill="#585858"/><rect x="227.1" y="457.9" width="4.3" height="4.3" fill="#5a5a5a"/><rect x="231.1" y="457.9" width="4.3" height="4.3" fill="#5d5d5d"/><rect x="235.1" y="457.9" width="4.3" height="4.3" fill="#5e5e5e"/><rect x="239.1" y="457.9" width="4.3" height="4.3" fill="#5f5f5f"/><rect x="243.1" y="457.9" width="4.3" height="4.3" fill="#5e5e5e"/><rect x="247.1" y="457.9" width="4.3" height="4.3" fill="#5c5c5c"/><rect x="251.1" y="457.9" width="4.3" height="4.3" fill="#5a5a5a"/><rect x="255.1" y="457.9" width="4.3" height="4.3" fill="#575757"/><rect x="259.1" y="457.9" width="4.3" height="4.3" fill="#545454"/><rect x="263.1" y="457.9" width="4.3" height="4.3" fill="#505050"/><rect x="267.1" y="457.9" width="4.3" height="4.3" fill="#4d4d4d"/><rect x="271.1" y="457.9" width="4.3" height="4.3" fill="#4a4a4a"/><rect x="275.1" y="457.9" width="4.3" height="4.3" fill="#474747"/><rect x="279.1" y="457.9" width="4.3" height="4.3" fill="#434343"/><rect x="283.1" y="457.9" width="4.3" height="4.3" fill="#404040"/><rect x="287.1" y="457.9" width="4.3" height="4.3" fill="#393939"/><rect x="291.1" y="457.9" width="4.3" height="4.3" fill="#313131"/><rect x="295.1" y="457.9" width="4.3" height="4.3" fill="#2d2d2d"/><rect x="299.1" y="457.9" width="4.3" height="4.3" fill="#292929"/><rect x="303.1" y="457.9" width="4.3" height="4.3" fill="#252525"/><rect x="307.1" y="457.9" width="4.3" height="4.3" fill="#222222"/><rect x="311.1" y="457.9" width="4.3" height="4.3" fill="#1f1f1f"/><rect x="175.1" y="461.9" width="4.3" height="4.3" fill="#303030"/><rect x="179.1" y="461.9" width="4.3" height="4.3" fill="#353535"/><rect x="183.1" y="461.9" width="4.3" height="4.3" fill="#383838"/><rect x="187.1" y="461.9" width="4.3" height="4.3" fill="#3c3c3c"/><rect x="191.1" y="461.9" width="4.3" height="4.3" fill="#3f3f3f"/><rect x="195.1" y="461.9" width="4.3" height="4.3" fill="#414141"/><rect x="199.1" y="461.9" width="4.3" height="4.3" fill="#444444"/><rect x="203.1" y="461.9" width="4.3" height="4.3" fill="#474747"/><rect x="207.1" y="461.9" width="4.3" height="4.3" fill="#4b4b4b"/><rect x="211.1" y="461.9" width="4.3" height="4.3" fill="#4e4e4e"/><rect x="215.1" y="461.9" width="4.3" height="4.3" fill="#525252"/><rect x="219.1" y="461.9" width="4.3" height="4.3" fill="#565656"/><rect x="223.1" y="461.9" width="4.3" height="4.3" fill="#5a5a5a"/><rect x="227.1" y="461.9" width="4.3" height="4.3" fill="#5d5d5d"/><rect x="231.1" y="461.9" width="4.3" height="4.3" fill="#606060"/><rect x="235.1" y="461.9" width="4.3" height="4.3" fill="#626262"/><rect x="239.1" y="461.9" width="8.3" height="4.3" fill="#636363"/><rect x="247.1" y="461.9" width="4.3" height="4.3" fill="#616161"/><rect x="251.1" y="461.9" width="4.3" height="4.3" fill="#5f5f5f"/><rect x="255.1" y="461.9" width="4.3" height="4.3" fill="#5c5c5c"/><rect x="259.1" y="461.9" width="4.3" height="4.3" fill="#585858"/><rect x="263.1" y="461.9" width="4.3" height="4.3" fill="#545454"/><rect x="267.1" y="461.9" width="4.3" height="4.3" fill="#505050"/><rect x="271.1" y="461.9" width="4.3" height="4.3" fill="#4d4d4d"/><rect x="275.1" y="461.9" width="4.3" height="4.3" fill="#494949"/><rect x="279.1" y="461.9" width="4.3" height="4.3" fill="#464646"/><rect x="283.1" y="461.9" width="4.3" height="4.3" fill="#424242"/><rect x="287.1" y="461.9" width="4.3" height="4.3" fill="#3d3d3d"/><rect x="291.1" y="461.9" width="4.3" height="4.3" fill="#363636"/><rect x="295.1" y="461.9" width="4.3" height="4.3" fill="#303030"/><rect x="299.1" y="461.9" width="4.3" height="4.3" fill="#2c2c2c"/><rect x="303.1" y="461.9" width="4.3" height="4.3" fill="#282828"/><rect x="307.1" y="461.9" width="4.3" height="4.3" fill="#242424"/><rect x="311.1" y="461.9" width="4.3" height="4.3" fill="#212121"/><rect x="175.1" y="465.9" width="4.3" height="4.3" fill="#2f2f2f"/><rect x="179.1" y="465.9" width="4.3" height="4.3" fill="#333333"/><rect x="183.1" y="465.9" width="4.3" height="4.3" fill="#373737"/><rect x="187.1" y="465.9" width="4.3" height="4.3" fill="#3a3a3a"/><rect x="191.1" y="465.9" width="4.3" height="4.3" fill="#3e3e3e"/><rect x="195.1" y="465.9" width="4.3" height="4.3" fill="#404040"/><rect x="199.1" y="465.9" width="4.3" height="4.3" fill="#444444"/><rect x="203.1" y="465.9" width="4.3" height="4.3" fill="#484848"/><rect x="207.1" y="465.9" width="4.3" height="4.3" fill="#4b4b4b"/><rect x="211.1" y="465.9" width="4.3" height="4.3" fill="#4f4f4f"/><rect x="215.1" y="465.9" width="4.3" height="4.3" fill="#535353"/><rect x="219.1" y="465.9" width="4.3" height="4.3" fill="#575757"/><rect x="223.1" y="465.9" width="4.3" height="4.3" fill="#5b5b5b"/><rect x="227.1" y="465.9" width="4.3" height="4.3" fill="#606060"/><rect x="231.1" y="465.9" width="4.3" height="4.3" fill="#636363"/><rect x="235.1" y="465.9" width="4.3" height="4.3" fill="#666666"/><rect x="239.1" y="465.9" width="8.3" height="4.3" fill="#676767"/><rect x="247.1" y="465.9" width="4.3" height="4.3" fill="#666666"/><rect x="251.1" y="465.9" width="4.3" height="4.3" fill="#646464"/><rect x="255.1" y="465.9" width="4.3" height="4.3" fill="#606060"/><rect x="259.1" y="465.9" width="4.3" height="4.3" fill="#5c5c5c"/><rect x="263.1" y="465.9" width="4.3" height="4.3" fill="#585858"/><rect x="267.1" y="465.9" width="4.3" height="4.3" fill="#545454"/><rect x="271.1" y="465.9" width="4.3" height="4.3" fill="#4f4f4f"/><rect x="275.1" y="465.9" width="4.3" height="4.3" fill="#4c4c4c"/><rect x="279.1" y="465.9" width="4.3" height="4.3" fill="#484848"/><rect x="283.1" y="465.9" width="4.3" height="4.3" fill="#444444"/><rect x="287.1" y="465.9" width="4.3" height="4.3" fill="#414141"/><rect x="291.1" y="465.9" width="4.3" height="4.3" fill="#3a3a3a"/><rect x="295.1" y="465.9" width="4.3" height="4.3" fill="#333333"/><rect x="299.1" y="465.9" width="4.3" height="4.3" fill="#2f2f2f"/><rect x="303.1" y="465.9" width="4.3" height="4.3" fill="#2a2a2a"/><rect x="307.1" y="465.9" width="4.3" height="4.3" fill="#272727"/><rect x="311.1" y="465.9" width="4.3" height="4.3" fill="#232323"/><rect x="175.1" y="469.9" width="4.3" height="4.3" fill="#2c2c2c"/><rect x="179.1" y="469.9" width="4.3" height="4.3" fill="#313131"/><rect x="183.1" y="469.9" width="4.3" height="4.3" fill="#363636"/><rect x="187.1" y="469.9" width="4.3" height="4.3" fill="#393939"/><rect x="191.1" y="469.9" width="4.3" height="4.3" fill="#3c3c3c"/><rect x="195.1" y="469.9" width="4.3" height="4.3" fill="#404040"/><rect x="199.1" y="469.9" width="4.3" height="4.3" fill="#444444"/><rect x="203.1" y="469.9" width="4.3" height="4.3" fill="#474747"/><rect x="207.1" y="469.9" width="4.3" height="4.3" fill="#4b4b4b"/><rect x="211.1" y="469.9" width="4.3" height="4.3" fill="#4f4f4f"/><rect x="215.1" y="469.9" width="4.3" height="4.3" fill="#535353"/><rect x="219.1" y="469.9" width="4.3" height="4.3" fill="#585858"/><rect x="223.1" y="469.9" width="4.3" height="4.3" fill="#5c5c5c"/><rect x="227.1" y="469.9" width="4.3" height="4.3" fill="#616161"/><rect x="231.1" y="469.9" width="4.3" height="4.3" fill="#656565"/><rect x="235.1" y="469.9" width="4.3" height="4.3" fill="#686868"/><rect x="239.1" y="469.9" width="4.3" height="4.3" fill="#696969"/><rect x="243.1" y="469.9" width="4.3" height="4.3" fill="#6a6a6a"/><rect x="247.1" y="469.9" width="4.3" height="4.3" fill="#696969"/><rect x="251.1" y="469.9" width="4.3" height="4.3" fill="#676767"/><rect x="255.1" y="469.9" width="4.3" height="4.3" fill="#646464"/><rect x="259.1" y="469.9" width="4.3" height="4.3" fill="#606060"/><rect x="263.1" y="469.9" width="4.3" height="4.3" fill="#5b5b5b"/><rect x="267.1" y="469.9" width="4.3" height="4.3" fill="#565656"/><rect x="271.1" y="469.9" width="4.3" height="4.3" fill="#525252"/><rect x="275.1" y="469.9" width="4.3" height="4.3" fill="#4e4e4e"/><rect x="279.1" y="469.9" width="4.3" height="4.3" fill="#4a4a4a"/><rect x="283.1" y="469.9" width="4.3" height="4.3" fill="#464646"/><rect x="287.1" y="469.9" width="4.3" height="4.3" fill="#434343"/><rect x="291.1" y="469.9" width="4.3" height="4.3" fill="#3e3e3e"/><rect x="295.1" y="469.9" width="4.3" height="4.3" fill="#363636"/><rect x="299.1" y="469.9" width="4.3" height="4.3" fill="#323232"/><rect x="303.1" y="469.9" width="4.3" height="4.3" fill="#2e2e2e"/><rect x="307.1" y="469.9" width="4.3" height="4.3" fill="#292929"/><rect x="311.1" y="469.9" width="4.3" height="4.3" fill="#252525"/><rect x="175.1" y="473.9" width="4.3" height="4.3" fill="#2a2a2a"/><rect x="179.1" y="473.9" width="4.3" height="4.3" fill="#2f2f2f"/><rect x="183.1" y="473.9" width="4.3" height="4.3" fill="#333333"/><rect x="187.1" y="473.9" width="4.3" height="4.3" fill="#373737"/><rect x="191.1" y="473.9" width="4.3" height="4.3" fill="#3b3b3b"/><rect x="195.1" y="473.9" width="4.3" height="4.3" fill="#3e3e3e"/><rect x="199.1" y="473.9" width="4.3" height="4.3" fill="#434343"/><rect x="203.1" y="473.9" width="4.3" height="4.3" fill="#474747"/><rect x="207.1" y="473.9" width="4.3" height="4.3" fill="#4a4a4a"/><rect x="211.1" y="473.9" width="4.3" height="4.3" fill="#4e4e4e"/><rect x="215.1" y="473.9" width="4.3" height="4.3" fill="#535353"/><rect x="219.1" y="473.9" width="4.3" height="4.3" fill="#575757"/><rect x="223.1" y="473.9" width="4.3" height="4.3" fill="#5c5c5c"/><rect x="227.1" y="473.9" width="4.3" height="4.3" fill="#616161"/><rect x="231.1" y="473.9" width="4.3" height="4.3" fill="#666666"/><rect x="235.1" y="473.9" width="4.3" height="4.3" fill="#696969"/><rect x="239.1" y="473.9" width="4.3" height="4.3" fill="#6b6b6b"/><rect x="243.1" y="473.9" width="4.3" height="4.3" fill="#6d6d6d"/><rect x="247.1" y="473.9" width="4.3" height="4.3" fill="#6c6c6c"/><rect x="251.1" y="473.9" width="4.3" height="4.3" fill="#6a6a6a"/><rect x="255.1" y="473.9" width="4.3" height="4.3" fill="#676767"/><rect x="259.1" y="473.9" width="4.3" height="4.3" fill="#636363"/><rect x="263.1" y="473.9" width="4.3" height="4.3" fill="#5e5e5e"/><rect x="267.1" y="473.9" width="4.3" height="4.3" fill="#595959"/><rect x="271.1" y="473.9" width="4.3" height="4.3" fill="#545454"/><rect x="275.1" y="473.9" width="4.3" height="4.3" fill="#505050"/><rect x="279.1" y="473.9" width="4.3" height="4.3" fill="#4c4c4c"/><rect x="283.1" y="473.9" width="4.3" height="4.3" fill="#484848"/><rect x="287.1" y="473.9" width="4.3" height="4.3" fill="#444444"/><rect x="291.1" y="473.9" width="4.3" height="4.3" fill="#404040"/><rect x="295.1" y="473.9" width="4.3" height="4.3" fill="#393939"/><rect x="299.1" y="473.9" width="4.3" height="4.3" fill="#353535"/><rect x="303.1" y="473.9" width="4.3" height="4.3" fill="#303030"/><rect x="307.1" y="473.9" width="4.3" height="4.3" fill="#2c2c2c"/><rect x="311.1" y="473.9" width="4.3" height="4.3" fill="#282828"/><rect x="175.1" y="477.9" width="4.3" height="4.3" fill="#282828"/><rect x="179.1" y="477.9" width="4.3" height="4.3" fill="#2c2c2c"/><rect x="183.1" y="477.9" width="4.3" height="4.3" fill="#313131"/><rect x="187.1" y="477.9" width="4.3" height="4.3" fill="#353535"/><rect x="191.1" y="477.9" width="4.3" height="4.3" fill="#393939"/><rect x="195.1" y="477.9" width="4.3" height="4.3" fill="#3c3c3c"/><rect x="199.1" y="477.9" width="4.3" height="4.3" fill="#424242"/><rect x="203.1" y="477.9" width="4.3" height="4.3" fill="#464646"/><rect x="207.1" y="477.9" width="4.3" height="4.3" fill="#494949"/><rect x="211.1" y="477.9" width="4.3" height="4.3" fill="#4d4d4d"/><rect x="215.1" y="477.9" width="4.3" height="4.3" fill="#525252"/><rect x="219.1" y="477.9" width="4.3" height="4.3" fill="#565656"/><rect x="223.1" y="477.9" width="4.3" height="4.3" fill="#5b5b5b"/><rect x="227.1" y="477.9" width="4.3" height="4.3" fill="#606060"/><rect x="231.1" y="477.9" width="4.3" height="4.3" fill="#656565"/><rect x="235.1" y="477.9" width="4.3" height="4.3" fill="#686868"/><rect x="239.1" y="477.9" width="4.3" height="4.3" fill="#6b6b6b"/><rect x="243.1" y="477.9" width="8.3" height="4.3" fill="#6e6e6e"/><rect x="251.1" y="477.9" width="4.3" height="4.3" fill="#6b6b6b"/><rect x="255.1" y="477.9" width="4.3" height="4.3" fill="#686868"/><rect x="259.1" y="477.9" width="4.3" height="4.3" fill="#656565"/><rect x="263.1" y="477.9" width="4.3" height="4.3" fill="#606060"/><rect x="267.1" y="477.9" width="4.3" height="4.3" fill="#5b5b5b"/><rect x="271.1" y="477.9" width="4.3" height="4.3" fill="#565656"/><rect x="275.1" y="477.9" width="4.3" height="4.3" fill="#515151"/><rect x="279.1" y="477.9" width="4.3" height="4.3" fill="#4d4d4d"/><rect x="283.1" y="477.9" width="4.3" height="4.3" fill="#494949"/><rect x="287.1" y="477.9" width="4.3" height="4.3" fill="#464646"/><rect x="291.1" y="477.9" width="4.3" height="4.3" fill="#424242"/><rect x="295.1" y="477.9" width="4.3" height="4.3" fill="#3c3c3c"/><rect x="299.1" y="477.9" width="4.3" height="4.3" fill="#373737"/><rect x="303.1" y="477.9" width="4.3" height="4.3" fill="#333333"/><rect x="307.1" y="477.9" width="4.3" height="4.3" fill="#2e2e2e"/><rect x="311.1" y="477.9" width="4.3" height="4.3" fill="#2a2a2a"/><rect x="175.1" y="481.9" width="4.3" height="4.3" fill="#262626"/><rect x="179.1" y="481.9" width="4.3" height="4.3" fill="#2a2a2a"/><rect x="183.1" y="481.9" width="4.3" height="4.3" fill="#2e2e2e"/><rect x="187.1" y="481.9" width="4.3" height="4.3" fill="#333333"/><rect x="191.1" y="481.9" width="4.3" height="4.3" fill="#373737"/><rect x="195.1" y="481.9" width="4.3" height="4.3" fill="#3a3a3a"/><rect x="199.1" y="481.9" width="4.3" height="4.3" fill="#414141"/><rect x="203.1" y="481.9" width="4.3" height="4.3" fill="#444444"/><rect x="207.1" y="481.9" width="4.3" height="4.3" fill="#484848"/><rect x="211.1" y="481.9" width="4.3" height="4.3" fill="#4c4c4c"/><rect x="215.1" y="481.9" width="4.3" height="4.3" fill="#505050"/><rect x="219.1" y="481.9" width="4.3" height="4.3" fill="#545454"/><rect x="223.1" y="481.9" width="4.3" height="4.3" fill="#595959"/><rect x="227.1" y="481.9" width="4.3" height="4.3" fill="#5e5e5e"/><rect x="231.1" y="481.9" width="4.3" height="4.3" fill="#636363"/><rect x="235.1" y="481.9" width="4.3" height="4.3" fill="#676767"/><rect x="239.1" y="481.9" width="4.3" height="4.3" fill="#6a6a6a"/><rect x="243.1" y="481.9" width="4.3" height="4.3" fill="#6c6c6c"/><rect x="247.1" y="481.9" width="4.3" height="4.3" fill="#6d6d6d"/><rect x="251.1" y="481.9" width="4.3" height="4.3" fill="#6b6b6b"/><rect x="255.1" y="481.9" width="4.3" height="4.3" fill="#696969"/><rect x="259.1" y="481.9" width="4.3" height="4.3" fill="#666666"/><rect x="263.1" y="481.9" width="4.3" height="4.3" fill="#616161"/><rect x="267.1" y="481.9" width="4.3" height="4.3" fill="#5c5c5c"/><rect x="271.1" y="481.9" width="4.3" height="4.3" fill="#575757"/><rect x="275.1" y="481.9" width="4.3" height="4.3" fill="#535353"/><rect x="279.1" y="481.9" width="4.3" height="4.3" fill="#4e4e4e"/><rect x="283.1" y="481.9" width="4.3" height="4.3" fill="#4a4a4a"/><rect x="287.1" y="481.9" width="4.3" height="4.3" fill="#474747"/><rect x="291.1" y="481.9" width="4.3" height="4.3" fill="#434343"/><rect x="295.1" y="481.9" width="4.3" height="4.3" fill="#3e3e3e"/><rect x="299.1" y="481.9" width="4.3" height="4.3" fill="#393939"/><rect x="303.1" y="481.9" width="4.3" height="4.3" fill="#353535"/><rect x="307.1" y="481.9" width="4.3" height="4.3" fill="#313131"/><rect x="311.1" y="481.9" width="4.3" height="4.3" fill="#2c2c2c"/><rect x="175.1" y="485.9" width="4.3" height="4.3" fill="#242424"/><rect x="179.1" y="485.9" width="4.3" height="4.3" fill="#272727"/><rect x="183.1" y="485.9" width="4.3" height="4.3" fill="#2b2b2b"/><rect x="187.1" y="485.9" width="4.3" height="4.3" fill="#303030"/><rect x="191.1" y="485.9" width="4.3" height="4.3" fill="#343434"/><rect x="195.1" y="485.9" width="4.3" height="4.3" fill="#383838"/><rect x="199.1" y="485.9" width="4.3" height="4.3" fill="#3e3e3e"/><rect x="203.1" y="485.9" width="4.3" height="4.3" fill="#434343"/><rect x="207.1" y="485.9" width="4.3" height="4.3" fill="#464646"/><rect x="211.1" y="485.9" width="4.3" height="4.3" fill="#4a4a4a"/><rect x="215.1" y="485.9" width="4.3" height="4.3" fill="#4e4e4e"/><rect x="219.1" y="485.9" width="4.3" height="4.3" fill="#525252"/><rect x="223.1" y="485.9" width="4.3" height="4.3" fill="#575757"/><rect x="227.1" y="485.9" width="4.3" height="4.3" fill="#5b5b5b"/><rect x="231.1" y="485.9" width="4.3" height="4.3" fill="#606060"/><rect x="235.1" y="485.9" width="4.3" height="4.3" fill="#646464"/><rect x="239.1" y="485.9" width="4.3" height="4.3" fill="#676767"/><rect x="243.1" y="485.9" width="4.3" height="4.3" fill="#696969"/><rect x="247.1" y="485.9" width="8.3" height="4.3" fill="#6a6a6a"/><rect x="255.1" y="485.9" width="4.3" height="4.3" fill="#686868"/><rect x="259.1" y="485.9" width="4.3" height="4.3" fill="#656565"/><rect x="263.1" y="485.9" width="4.3" height="4.3" fill="#616161"/><rect x="267.1" y="485.9" width="4.3" height="4.3" fill="#5c5c5c"/><rect x="271.1" y="485.9" width="4.3" height="4.3" fill="#585858"/><rect x="275.1" y="485.9" width="4.3" height="4.3" fill="#535353"/><rect x="279.1" y="485.9" width="4.3" height="4.3" fill="#4f4f4f"/><rect x="283.1" y="485.9" width="4.3" height="4.3" fill="#4b4b4b"/><rect x="287.1" y="485.9" width="4.3" height="4.3" fill="#474747"/><rect x="291.1" y="485.9" width="4.3" height="4.3" fill="#444444"/><rect x="295.1" y="485.9" width="4.3" height="4.3" fill="#404040"/><rect x="299.1" y="485.9" width="4.3" height="4.3" fill="#3b3b3b"/><rect x="303.1" y="485.9" width="4.3" height="4.3" fill="#373737"/><rect x="307.1" y="485.9" width="4.3" height="4.3" fill="#333333"/><rect x="311.1" y="485.9" width="4.3" height="4.3" fill="#2f2f2f"/><rect x="175.1" y="489.9" width="4.3" height="4.3" fill="#212121"/><rect x="179.1" y="489.9" width="4.3" height="4.3" fill="#252525"/><rect x="183.1" y="489.9" width="4.3" height="4.3" fill="#292929"/><rect x="187.1" y="489.9" width="4.3" height="4.3" fill="#2d2d2d"/><rect x="191.1" y="489.9" width="4.3" height="4.3" fill="#313131"/><rect x="195.1" y="489.9" width="4.3" height="4.3" fill="#363636"/><rect x="199.1" y="489.9" width="4.3" height="4.3" fill="#3a3a3a"/><rect x="203.1" y="489.9" width="4.3" height="4.3" fill="#414141"/><rect x="207.1" y="489.9" width="4.3" height="4.3" fill="#444444"/><rect x="211.1" y="489.9" width="4.3" height="4.3" fill="#484848"/><rect x="215.1" y="489.9" width="4.3" height="4.3" fill="#4c4c4c"/><rect x="219.1" y="489.9" width="4.3" height="4.3" fill="#4f4f4f"/><rect x="223.1" y="489.9" width="4.3" height="4.3" fill="#545454"/><rect x="227.1" y="489.9" width="4.3" height="4.3" fill="#585858"/><rect x="231.1" y="489.9" width="4.3" height="4.3" fill="#5c5c5c"/><rect x="235.1" y="489.9" width="4.3" height="4.3" fill="#606060"/><rect x="239.1" y="489.9" width="4.3" height="4.3" fill="#646464"/><rect x="243.1" y="489.9" width="4.3" height="4.3" fill="#666666"/><rect x="247.1" y="489.9" width="8.3" height="4.3" fill="#676767"/><rect x="255.1" y="489.9" width="4.3" height="4.3" fill="#666666"/><rect x="259.1" y="489.9" width="4.3" height="4.3" fill="#636363"/><rect x="263.1" y="489.9" width="4.3" height="4.3" fill="#606060"/><rect x="267.1" y="489.9" width="4.3" height="4.3" fill="#5b5b5b"/><rect x="271.1" y="489.9" width="4.3" height="4.3" fill="#575757"/><rect x="275.1" y="489.9" width="4.3" height="4.3" fill="#535353"/><rect x="279.1" y="489.9" width="4.3" height="4.3" fill="#4f4f4f"/><rect x="283.1" y="489.9" width="4.3" height="4.3" fill="#4b4b4b"/><rect x="287.1" y="489.9" width="4.3" height="4.3" fill="#484848"/><rect x="291.1" y="489.9" width="4.3" height="4.3" fill="#444444"/><rect x="295.1" y="489.9" width="4.3" height="4.3" fill="#404040"/><rect x="299.1" y="489.9" width="4.3" height="4.3" fill="#3c3c3c"/><rect x="303.1" y="489.9" width="4.3" height="4.3" fill="#393939"/><rect x="307.1" y="489.9" width="4.3" height="4.3" fill="#353535"/><rect x="311.1" y="489.9" width="4.3" height="4.3" fill="#313131"/><rect x="175.1" y="493.9" width="4.3" height="4.3" fill="#1f1f1f"/><rect x="179.1" y="493.9" width="4.3" height="4.3" fill="#232323"/><rect x="183.1" y="493.9" width="4.3" height="4.3" fill="#262626"/><rect x="187.1" y="493.9" width="4.3" height="4.3" fill="#2a2a2a"/><rect x="191.1" y="493.9" width="4.3" height="4.3" fill="#2e2e2e"/><rect x="195.1" y="493.9" width="4.3" height="4.3" fill="#333333"/><rect x="199.1" y="493.9" width="4.3" height="4.3" fill="#373737"/><rect x="203.1" y="493.9" width="4.3" height="4.3" fill="#3e3e3e"/><rect x="207.1" y="493.9" width="4.3" height="4.3" fill="#424242"/><rect x="211.1" y="493.9" width="4.3" height="4.3" fill="#464646"/><rect x="215.1" y="493.9" width="4.3" height="4.3" fill="#494949"/><rect x="219.1" y="493.9" width="4.3" height="4.3" fill="#4d4d4d"/><rect x="223.1" y="493.9" width="4.3" height="4.3" fill="#505050"/><rect x="227.1" y="493.9" width="4.3" height="4.3" fill="#545454"/><rect x="231.1" y="493.9" width="4.3" height="4.3" fill="#585858"/><rect x="235.1" y="493.9" width="4.3" height="4.3" fill="#5c5c5c"/><rect x="239.1" y="493.9" width="4.3" height="4.3" fill="#5f5f5f"/><rect x="243.1" y="493.9" width="4.3" height="4.3" fill="#626262"/><rect x="247.1" y="493.9" width="4.3" height="4.3" fill="#636363"/><rect x="251.1" y="493.9" width="4.3" height="4.3" fill="#646464"/><rect x="255.1" y="493.9" width="4.3" height="4.3" fill="#636363"/><rect x="259.1" y="493.9" width="4.3" height="4.3" fill="#606060"/><rect x="263.1" y="493.9" width="4.3" height="4.3" fill="#5d5d5d"/><rect x="267.1" y="493.9" width="4.3" height="4.3" fill="#5a5a5a"/><rect x="271.1" y="493.9" width="4.3" height="4.3" fill="#565656"/><rect x="275.1" y="493.9" width="4.3" height="4.3" fill="#525252"/><rect x="279.1" y="493.9" width="4.3" height="4.3" fill="#4e4e4e"/><rect x="283.1" y="493.9" width="4.3" height="4.3" fill="#4b4b4b"/><rect x="287.1" y="493.9" width="4.3" height="4.3" fill="#474747"/><rect x="291.1" y="493.9" width="4.3" height="4.3" fill="#444444"/><rect x="295.1" y="493.9" width="4.3" height="4.3" fill="#404040"/><rect x="299.1" y="493.9" width="4.3" height="4.3" fill="#3d3d3d"/><rect x="303.1" y="493.9" width="4.3" height="4.3" fill="#3a3a3a"/><rect x="307.1" y="493.9" width="4.3" height="4.3" fill="#373737"/><rect x="311.1" y="493.9" width="4.3" height="4.3" fill="#323232"/><rect x="175.1" y="497.9" width="4.3" height="4.3" fill="#1f1f1f"/><rect x="179.1" y="497.9" width="4.3" height="4.3" fill="#202020"/><rect x="183.1" y="497.9" width="4.3" height="4.3" fill="#242424"/><rect x="187.1" y="497.9" width="4.3" height="4.3" fill="#272727"/><rect x="191.1" y="497.9" width="4.3" height="4.3" fill="#2b2b2b"/><rect x="195.1" y="497.9" width="4.3" height="4.3" fill="#2f2f2f"/><rect x="199.1" y="497.9" width="4.3" height="4.3" fill="#343434"/><rect x="203.1" y="497.9" width="4.3" height="4.3" fill="#393939"/><rect x="207.1" y="497.9" width="4.3" height="4.3" fill="#404040"/><rect x="211.1" y="497.9" width="4.3" height="4.3" fill="#434343"/><rect x="215.1" y="497.9" width="4.3" height="4.3" fill="#474747"/><rect x="219.1" y="497.9" width="4.3" height="4.3" fill="#4a4a4a"/><rect x="223.1" y="497.9" width="4.3" height="4.3" fill="#4d4d4d"/><rect x="227.1" y="497.9" width="4.3" height="4.3" fill="#515151"/><rect x="231.1" y="497.9" width="4.3" height="4.3" fill="#545454"/><rect x="235.1" y="497.9" width="4.3" height="4.3" fill="#575757"/><rect x="239.1" y="497.9" width="4.3" height="4.3" fill="#5a5a5a"/><rect x="243.1" y="497.9" width="4.3" height="4.3" fill="#5d5d5d"/><rect x="247.1" y="497.9" width="4.3" height="4.3" fill="#5e5e5e"/><rect x="251.1" y="497.9" width="4.3" height="4.3" fill="#5f5f5f"/><rect x="255.1" y="497.9" width="4.3" height="4.3" fill="#5e5e5e"/><rect x="259.1" y="497.9" width="4.3" height="4.3" fill="#5d5d5d"/><rect x="263.1" y="497.9" width="4.3" height="4.3" fill="#5a5a5a"/><rect x="267.1" y="497.9" width="4.3" height="4.3" fill="#585858"/><rect x="271.1" y="497.9" width="4.3" height="4.3" fill="#545454"/><rect x="275.1" y="497.9" width="4.3" height="4.3" fill="#515151"/><rect x="279.1" y="497.9" width="4.3" height="4.3" fill="#4d4d4d"/><rect x="283.1" y="497.9" width="4.3" height="4.3" fill="#4a4a4a"/><rect x="287.1" y="497.9" width="4.3" height="4.3" fill="#474747"/><rect x="291.1" y="497.9" width="4.3" height="4.3" fill="#444444"/><rect x="295.1" y="497.9" width="4.3" height="4.3" fill="#414141"/><rect x="299.1" y="497.9" width="4.3" height="4.3" fill="#3e3e3e"/><rect x="303.1" y="497.9" width="4.3" height="4.3" fill="#3b3b3b"/><rect x="307.1" y="497.9" width="4.3" height="4.3" fill="#383838"/><rect x="311.1" y="497.9" width="4.3" height="4.3" fill="#343434"/><rect x="175.1" y="501.9" width="4.3" height="4.3" fill="#1e1e1e"/><rect x="179.1" y="501.9" width="4.3" height="4.3" fill="#1f1f1f"/><rect x="183.1" y="501.9" width="4.3" height="4.3" fill="#212121"/><rect x="187.1" y="501.9" width="4.3" height="4.3" fill="#242424"/><rect x="191.1" y="501.9" width="4.3" height="4.3" fill="#282828"/><rect x="195.1" y="501.9" width="4.3" height="4.3" fill="#2c2c2c"/><rect x="199.1" y="501.9" width="4.3" height="4.3" fill="#303030"/><rect x="203.1" y="501.9" width="4.3" height="4.3" fill="#343434"/><rect x="207.1" y="501.9" width="4.3" height="4.3" fill="#3b3b3b"/><rect x="211.1" y="501.9" width="4.3" height="4.3" fill="#414141"/><rect x="215.1" y="501.9" width="4.3" height="4.3" fill="#444444"/><rect x="219.1" y="501.9" width="4.3" height="4.3" fill="#474747"/><rect x="223.1" y="501.9" width="4.3" height="4.3" fill="#4a4a4a"/><rect x="227.1" y="501.9" width="4.3" height="4.3" fill="#4d4d4d"/><rect x="231.1" y="501.9" width="4.3" height="4.3" fill="#505050"/><rect x="235.1" y="501.9" width="4.3" height="4.3" fill="#535353"/><rect x="239.1" y="501.9" width="4.3" height="4.3" fill="#565656"/><rect x="243.1" y="501.9" width="4.3" height="4.3" fill="#585858"/><rect x="247.1" y="501.9" width="4.3" height="4.3" fill="#595959"/><rect x="251.1" y="501.9" width="8.3" height="4.3" fill="#5a5a5a"/><rect x="259.1" y="501.9" width="4.3" height="4.3" fill="#595959"/><rect x="263.1" y="501.9" width="4.3" height="4.3" fill="#575757"/><rect x="267.1" y="501.9" width="4.3" height="4.3" fill="#555555"/><rect x="271.1" y="501.9" width="4.3" height="4.3" fill="#525252"/><rect x="275.1" y="501.9" width="4.3" height="4.3" fill="#4f4f4f"/><rect x="279.1" y="501.9" width="4.3" height="4.3" fill="#4c4c4c"/><rect x="283.1" y="501.9" width="4.3" height="4.3" fill="#494949"/><rect x="287.1" y="501.9" width="4.3" height="4.3" fill="#464646"/><rect x="291.1" y="501.9" width="4.3" height="4.3" fill="#434343"/><rect x="295.1" y="501.9" width="4.3" height="4.3" fill="#414141"/><rect x="299.1" y="501.9" width="4.3" height="4.3" fill="#3f3f3f"/><rect x="303.1" y="501.9" width="4.3" height="4.3" fill="#3c3c3c"/><rect x="307.1" y="501.9" width="4.3" height="4.3" fill="#393939"/><rect x="311.1" y="501.9" width="4.3" height="4.3" fill="#353535"/><rect x="175.1" y="505.9" width="4.3" height="4.3" fill="#1d1d1d"/><rect x="179.1" y="505.9" width="4.3" height="4.3" fill="#1e1e1e"/><rect x="183.1" y="505.9" width="4.3" height="4.3" fill="#1f1f1f"/><rect x="187.1" y="505.9" width="4.3" height="4.3" fill="#212121"/><rect x="191.1" y="505.9" width="4.3" height="4.3" fill="#252525"/><rect x="195.1" y="505.9" width="4.3" height="4.3" fill="#282828"/><rect x="199.1" y="505.9" width="4.3" height="4.3" fill="#2c2c2c"/><rect x="203.1" y="505.9" width="4.3" height="4.3" fill="#313131"/><rect x="207.1" y="505.9" width="4.3" height="4.3" fill="#353535"/><rect x="211.1" y="505.9" width="4.3" height="4.3" fill="#3c3c3c"/><rect x="215.1" y="505.9" width="4.3" height="4.3" fill="#414141"/><rect x="219.1" y="505.9" width="4.3" height="4.3" fill="#444444"/><rect x="223.1" y="505.9" width="4.3" height="4.3" fill="#474747"/><rect x="227.1" y="505.9" width="4.3" height="4.3" fill="#4a4a4a"/><rect x="231.1" y="505.9" width="4.3" height="4.3" fill="#4c4c4c"/><rect x="235.1" y="505.9" width="4.3" height="4.3" fill="#4f4f4f"/><rect x="239.1" y="505.9" width="4.3" height="4.3" fill="#515151"/><rect x="243.1" y="505.9" width="4.3" height="4.3" fill="#535353"/><rect x="247.1" y="505.9" width="16.3" height="4.3" fill="#555555"/><rect x="263.1" y="505.9" width="4.3" height="4.3" fill="#545454"/><rect x="267.1" y="505.9" width="4.3" height="4.3" fill="#525252"/><rect x="271.1" y="505.9" width="4.3" height="4.3" fill="#505050"/><rect x="275.1" y="505.9" width="4.3" height="4.3" fill="#4d4d4d"/><rect x="279.1" y="505.9" width="4.3" height="4.3" fill="#4b4b4b"/><rect x="283.1" y="505.9" width="4.3" height="4.3" fill="#484848"/><rect x="287.1" y="505.9" width="4.3" height="4.3" fill="#454545"/><rect x="291.1" y="505.9" width="4.3" height="4.3" fill="#434343"/><rect x="295.1" y="505.9" width="4.3" height="4.3" fill="#414141"/><rect x="299.1" y="505.9" width="4.3" height="4.3" fill="#3f3f3f"/><rect x="303.1" y="505.9" width="4.3" height="4.3" fill="#3c3c3c"/><rect x="307.1" y="505.9" width="4.3" height="4.3" fill="#393939"/><rect x="311.1" y="505.9" width="4.3" height="4.3" fill="#363636"/><rect x="175.1" y="509.9" width="4.3" height="4.3" fill="#1c1c1c"/><rect x="179.1" y="509.9" width="4.3" height="4.3" fill="#1d1d1d"/><rect x="183.1" y="509.9" width="4.3" height="4.3" fill="#1e1e1e"/><rect x="187.1" y="509.9" width="4.3" height="4.3" fill="#1f1f1f"/><rect x="191.1" y="509.9" width="4.3" height="4.3" fill="#222222"/><rect x="195.1" y="509.9" width="4.3" height="4.3" fill="#252525"/><rect x="199.1" y="509.9" width="4.3" height="4.3" fill="#292929"/><rect x="203.1" y="509.9" width="4.3" height="4.3" fill="#2d2d2d"/><rect x="207.1" y="509.9" width="4.3" height="4.3" fill="#313131"/><rect x="211.1" y="509.9" width="4.3" height="4.3" fill="#363636"/><rect x="215.1" y="509.9" width="4.3" height="4.3" fill="#3c3c3c"/><rect x="219.1" y="509.9" width="4.3" height="4.3" fill="#414141"/><rect x="223.1" y="509.9" width="4.3" height="4.3" fill="#444444"/><rect x="227.1" y="509.9" width="4.3" height="4.3" fill="#464646"/><rect x="231.1" y="509.9" width="4.3" height="4.3" fill="#494949"/><rect x="235.1" y="509.9" width="4.3" height="4.3" fill="#4b4b4b"/><rect x="239.1" y="509.9" width="4.3" height="4.3" fill="#4d4d4d"/><rect x="243.1" y="509.9" width="4.3" height="4.3" fill="#4e4e4e"/><rect x="247.1" y="509.9" width="4.3" height="4.3" fill="#505050"/><rect x="251.1" y="509.9" width="12.3" height="4.3" fill="#515151"/><rect x="263.1" y="509.9" width="4.3" height="4.3" fill="#505050"/><rect x="267.1" y="509.9" width="4.3" height="4.3" fill="#4e4e4e"/><rect x="271.1" y="509.9" width="4.3" height="4.3" fill="#4d4d4d"/><rect x="275.1" y="509.9" width="4.3" height="4.3" fill="#4b4b4b"/><rect x="279.1" y="509.9" width="4.3" height="4.3" fill="#494949"/><rect x="283.1" y="509.9" width="4.3" height="4.3" fill="#464646"/><rect x="287.1" y="509.9" width="4.3" height="4.3" fill="#444444"/><rect x="291.1" y="509.9" width="4.3" height="4.3" fill="#424242"/><rect x="295.1" y="509.9" width="4.3" height="4.3" fill="#414141"/><rect x="299.1" y="509.9" width="4.3" height="4.3" fill="#3f3f3f"/><rect x="303.1" y="509.9" width="4.3" height="4.3" fill="#3d3d3d"/><rect x="307.1" y="509.9" width="4.3" height="4.3" fill="#3a3a3a"/><rect x="311.1" y="509.9" width="4.3" height="4.3" fill="#373737"/><rect x="175.1" y="513.9" width="4.3" height="4.3" fill="#1b1b1b"/><rect x="179.1" y="513.9" width="4.3" height="4.3" fill="#1c1c1c"/><rect x="183.1" y="513.9" width="4.3" height="4.3" fill="#1d1d1d"/><rect x="187.1" y="513.9" width="4.3" height="4.3" fill="#1e1e1e"/><rect x="191.1" y="513.9" width="4.3" height="4.3" fill="#1f1f1f"/><rect x="195.1" y="513.9" width="4.3" height="4.3" fill="#222222"/><rect x="199.1" y="513.9" width="4.3" height="4.3" fill="#262626"/><rect x="203.1" y="513.9" width="4.3" height="4.3" fill="#292929"/><rect x="207.1" y="513.9" width="4.3" height="4.3" fill="#2d2d2d"/><rect x="211.1" y="513.9" width="4.3" height="4.3" fill="#313131"/><rect x="215.1" y="513.9" width="4.3" height="4.3" fill="#363636"/><rect x="219.1" y="513.9" width="4.3" height="4.3" fill="#3b3b3b"/><rect x="223.1" y="513.9" width="4.3" height="4.3" fill="#404040"/><rect x="227.1" y="513.9" width="4.3" height="4.3" fill="#434343"/><rect x="231.1" y="513.9" width="4.3" height="4.3" fill="#454545"/><rect x="235.1" y="513.9" width="4.3" height="4.3" fill="#474747"/><rect x="239.1" y="513.9" width="4.3" height="4.3" fill="#494949"/><rect x="243.1" y="513.9" width="4.3" height="4.3" fill="#4b4b4b"/><rect x="247.1" y="513.9" width="4.3" height="4.3" fill="#4c4c4c"/><rect x="251.1" y="513.9" width="12.3" height="4.3" fill="#4d4d4d"/><rect x="263.1" y="513.9" width="4.3" height="4.3" fill="#4c4c4c"/><rect x="267.1" y="513.9" width="4.3" height="4.3" fill="#4b4b4b"/><rect x="271.1" y="513.9" width="4.3" height="4.3" fill="#4a4a4a"/><rect x="275.1" y="513.9" width="4.3" height="4.3" fill="#484848"/><rect x="279.1" y="513.9" width="4.3" height="4.3" fill="#474747"/><rect x="283.1" y="513.9" width="4.3" height="4.3" fill="#444444"/><rect x="287.1" y="513.9" width="4.3" height="4.3" fill="#434343"/><rect x="291.1" y="513.9" width="4.3" height="4.3" fill="#424242"/><rect x="295.1" y="513.9" width="4.3" height="4.3" fill="#414141"/><rect x="299.1" y="513.9" width="4.3" height="4.3" fill="#3f3f3f"/><rect x="303.1" y="513.9" width="4.3" height="4.3" fill="#3c3c3c"/><rect x="307.1" y="513.9" width="4.3" height="4.3" fill="#3a3a3a"/><rect x="311.1" y="513.9" width="4.3" height="4.3" fill="#373737"/><rect x="175.1" y="517.9" width="4.3" height="4.3" fill="#191919"/><rect x="179.1" y="517.9" width="4.3" height="4.3" fill="#1b1b1b"/><rect x="183.1" y="517.9" width="4.3" height="4.3" fill="#1c1c1c"/><rect x="187.1" y="517.9" width="4.3" height="4.3" fill="#1d1d1d"/><rect x="191.1" y="517.9" width="4.3" height="4.3" fill="#1e1e1e"/><rect x="195.1" y="517.9" width="4.3" height="4.3" fill="#1f1f1f"/><rect x="199.1" y="517.9" width="4.3" height="4.3" fill="#232323"/><rect x="203.1" y="517.9" width="4.3" height="4.3" fill="#262626"/><rect x="207.1" y="517.9" width="4.3" height="4.3" fill="#292929"/><rect x="211.1" y="517.9" width="4.3" height="4.3" fill="#2d2d2d"/><rect x="215.1" y="517.9" width="4.3" height="4.3" fill="#313131"/><rect x="219.1" y="517.9" width="4.3" height="4.3" fill="#353535"/><rect x="223.1" y="517.9" width="4.3" height="4.3" fill="#3a3a3a"/><rect x="227.1" y="517.9" width="4.3" height="4.3" fill="#3f3f3f"/><rect x="231.1" y="517.9" width="4.3" height="4.3" fill="#424242"/><rect x="235.1" y="517.9" width="4.3" height="4.3" fill="#444444"/><rect x="239.1" y="517.9" width="4.3" height="4.3" fill="#464646"/><rect x="243.1" y="517.9" width="4.3" height="4.3" fill="#474747"/><rect x="247.1" y="517.9" width="4.3" height="4.3" fill="#484848"/><rect x="251.1" y="517.9" width="16.3" height="4.3" fill="#494949"/><rect x="267.1" y="517.9" width="4.3" height="4.3" fill="#484848"/><rect x="271.1" y="517.9" width="4.3" height="4.3" fill="#474747"/><rect x="275.1" y="517.9" width="4.3" height="4.3" fill="#464646"/><rect x="279.1" y="517.9" width="4.3" height="4.3" fill="#444444"/><rect x="283.1" y="517.9" width="8.3" height="4.3" fill="#434343"/><rect x="291.1" y="517.9" width="4.3" height="4.3" fill="#414141"/><rect x="295.1" y="517.9" width="4.3" height="4.3" fill="#404040"/><rect x="299.1" y="517.9" width="4.3" height="4.3" fill="#3f3f3f"/><rect x="303.1" y="517.9" width="4.3" height="4.3" fill="#3c3c3c"/><rect x="307.1" y="517.9" width="4.3" height="4.3" fill="#3a3a3a"/><rect x="311.1" y="517.9" width="4.3" height="4.3" fill="#373737"/><rect x="175.1" y="521.9" width="4.3" height="4.3" fill="#181818"/><rect x="179.1" y="521.9" width="4.3" height="4.3" fill="#191919"/><rect x="183.1" y="521.9" width="4.3" height="4.3" fill="#1b1b1b"/><rect x="187.1" y="521.9" width="4.3" height="4.3" fill="#1c1c1c"/><rect x="191.1" y="521.9" width="4.3" height="4.3" fill="#1d1d1d"/><rect x="195.1" y="521.9" width="4.3" height="4.3" fill="#1e1e1e"/><rect x="199.1" y="521.9" width="4.3" height="4.3" fill="#1f1f1f"/><rect x="203.1" y="521.9" width="4.3" height="4.3" fill="#232323"/><rect x="207.1" y="521.9" width="4.3" height="4.3" fill="#262626"/><rect x="211.1" y="521.9" width="4.3" height="4.3" fill="#292929"/><rect x="215.1" y="521.9" width="4.3" height="4.3" fill="#2c2c2c"/><rect x="219.1" y="521.9" width="4.3" height="4.3" fill="#303030"/><rect x="223.1" y="521.9" width="4.3" height="4.3" fill="#343434"/><rect x="227.1" y="521.9" width="4.3" height="4.3" fill="#383838"/><rect x="231.1" y="521.9" width="4.3" height="4.3" fill="#3c3c3c"/><rect x="235.1" y="521.9" width="4.3" height="4.3" fill="#404040"/><rect x="239.1" y="521.9" width="4.3" height="4.3" fill="#424242"/><rect x="243.1" y="521.9" width="4.3" height="4.3" fill="#434343"/><rect x="247.1" y="521.9" width="4.3" height="4.3" fill="#444444"/><rect x="251.1" y="521.9" width="4.3" height="4.3" fill="#454545"/><rect x="255.1" y="521.9" width="12.3" height="4.3" fill="#464646"/><rect x="267.1" y="521.9" width="4.3" height="4.3" fill="#454545"/><rect x="271.1" y="521.9" width="4.3" height="4.3" fill="#444444"/><rect x="275.1" y="521.9" width="8.3" height="4.3" fill="#434343"/><rect x="283.1" y="521.9" width="8.3" height="4.3" fill="#424242"/><rect x="291.1" y="521.9" width="4.3" height="4.3" fill="#414141"/><rect x="295.1" y="521.9" width="4.3" height="4.3" fill="#404040"/><rect x="299.1" y="521.9" width="4.3" height="4.3" fill="#3e3e3e"/><rect x="303.1" y="521.9" width="4.3" height="4.3" fill="#3c3c3c"/><rect x="307.1" y="521.9" width="4.3" height="4.3" fill="#393939"/><rect x="311.1" y="521.9" width="4.3" height="4.3" fill="#373737"/><rect x="175.1" y="525.9" width="4.3" height="4.3" fill="#171717"/><rect x="179.1" y="525.9" width="4.3" height="4.3" fill="#181818"/><rect x="183.1" y="525.9" width="4.3" height="4.3" fill="#191919"/><rect x="187.1" y="525.9" width="4.3" height="4.3" fill="#1b1b1b"/><rect x="191.1" y="525.9" width="4.3" height="4.3" fill="#1c1c1c"/><rect x="195.1" y="525.9" width="4.3" height="4.3" fill="#1d1d1d"/><rect x="199.1" y="525.9" width="4.3" height="4.3" fill="#1e1e1e"/><rect x="203.1" y="525.9" width="4.3" height="4.3" fill="#1f1f1f"/><rect x="207.1" y="525.9" width="4.3" height="4.3" fill="#222222"/><rect x="211.1" y="525.9" width="4.3" height="4.3" fill="#252525"/><rect x="215.1" y="525.9" width="4.3" height="4.3" fill="#282828"/><rect x="219.1" y="525.9" width="4.3" height="4.3" fill="#2c2c2c"/><rect x="223.1" y="525.9" width="4.3" height="4.3" fill="#2f2f2f"/><rect x="227.1" y="525.9" width="4.3" height="4.3" fill="#333333"/><rect x="231.1" y="525.9" width="4.3" height="4.3" fill="#363636"/><rect x="235.1" y="525.9" width="4.3" height="4.3" fill="#393939"/><rect x="239.1" y="525.9" width="4.3" height="4.3" fill="#3c3c3c"/><rect x="243.1" y="525.9" width="4.3" height="4.3" fill="#3f3f3f"/><rect x="247.1" y="525.9" width="8.3" height="4.3" fill="#414141"/><rect x="255.1" y="525.9" width="28.3" height="4.3" fill="#424242"/><rect x="283.1" y="525.9" width="8.3" height="4.3" fill="#414141"/><rect x="291.1" y="525.9" width="4.3" height="4.3" fill="#404040"/><rect x="295.1" y="525.9" width="4.3" height="4.3" fill="#3f3f3f"/><rect x="299.1" y="525.9" width="4.3" height="4.3" fill="#3d3d3d"/><rect x="303.1" y="525.9" width="4.3" height="4.3" fill="#3b3b3b"/><rect x="307.1" y="525.9" width="4.3" height="4.3" fill="#383838"/><rect x="311.1" y="525.9" width="4.3" height="4.3" fill="#363636"/><rect x="175.1" y="529.9" width="4.3" height="4.3" fill="#161616"/><rect x="179.1" y="529.9" width="4.3" height="4.3" fill="#171717"/><rect x="183.1" y="529.9" width="4.3" height="4.3" fill="#181818"/><rect x="187.1" y="529.9" width="4.3" height="4.3" fill="#191919"/><rect x="191.1" y="529.9" width="4.3" height="4.3" fill="#1b1b1b"/><rect x="195.1" y="529.9" width="4.3" height="4.3" fill="#1c1c1c"/><rect x="199.1" y="529.9" width="4.3" height="4.3" fill="#1d1d1d"/><rect x="203.1" y="529.9" width="4.3" height="4.3" fill="#1e1e1e"/><rect x="207.1" y="529.9" width="4.3" height="4.3" fill="#1f1f1f"/><rect x="211.1" y="529.9" width="4.3" height="4.3" fill="#222222"/><rect x="215.1" y="529.9" width="4.3" height="4.3" fill="#252525"/><rect x="219.1" y="529.9" width="4.3" height="4.3" fill="#282828"/><rect x="223.1" y="529.9" width="4.3" height="4.3" fill="#2b2b2b"/><rect x="227.1" y="529.9" width="4.3" height="4.3" fill="#2e2e2e"/><rect x="231.1" y="529.9" width="4.3" height="4.3" fill="#323232"/><rect x="235.1" y="529.9" width="4.3" height="4.3" fill="#353535"/><rect x="239.1" y="529.9" width="4.3" height="4.3" fill="#373737"/><rect x="243.1" y="529.9" width="4.3" height="4.3" fill="#393939"/><rect x="247.1" y="529.9" width="4.3" height="4.3" fill="#3b3b3b"/><rect x="251.1" y="529.9" width="4.3" height="4.3" fill="#3d3d3d"/><rect x="255.1" y="529.9" width="4.3" height="4.3" fill="#3e3e3e"/><rect x="259.1" y="529.9" width="12.3" height="4.3" fill="#404040"/><rect x="271.1" y="529.9" width="12.3" height="4.3" fill="#414141"/><rect x="283.1" y="529.9" width="8.3" height="4.3" fill="#404040"/><rect x="291.1" y="529.9" width="4.3" height="4.3" fill="#3e3e3e"/><rect x="295.1" y="529.9" width="4.3" height="4.3" fill="#3d3d3d"/><rect x="299.1" y="529.9" width="4.3" height="4.3" fill="#3b3b3b"/><rect x="303.1" y="529.9" width="4.3" height="4.3" fill="#3a3a3a"/><rect x="307.1" y="529.9" width="4.3" height="4.3" fill="#383838"/><rect x="311.1" y="529.9" width="4.3" height="4.3" fill="#353535"/><rect x="175.1" y="533.9" width="4.3" height="4.3" fill="#151515"/><rect x="179.1" y="533.9" width="4.3" height="4.3" fill="#161616"/><rect x="183.1" y="533.9" width="4.3" height="4.3" fill="#171717"/><rect x="187.1" y="533.9" width="4.3" height="4.3" fill="#181818"/><rect x="191.1" y="533.9" width="4.3" height="4.3" fill="#191919"/><rect x="195.1" y="533.9" width="4.3" height="4.3" fill="#1a1a1a"/><rect x="199.1" y="533.9" width="4.3" height="4.3" fill="#1c1c1c"/><rect x="203.1" y="533.9" width="4.3" height="4.3" fill="#1d1d1d"/><rect x="207.1" y="533.9" width="4.3" height="4.3" fill="#1e1e1e"/><rect x="211.1" y="533.9" width="4.3" height="4.3" fill="#1f1f1f"/><rect x="215.1" y="533.9" width="4.3" height="4.3" fill="#222222"/><rect x="219.1" y="533.9" width="4.3" height="4.3" fill="#242424"/><rect x="223.1" y="533.9" width="4.3" height="4.3" fill="#272727"/><rect x="227.1" y="533.9" width="4.3" height="4.3" fill="#2a2a2a"/><rect x="231.1" y="533.9" width="4.3" height="4.3" fill="#2d2d2d"/><rect x="235.1" y="533.9" width="4.3" height="4.3" fill="#303030"/><rect x="239.1" y="533.9" width="4.3" height="4.3" fill="#333333"/><rect x="243.1" y="533.9" width="4.3" height="4.3" fill="#363636"/><rect x="247.1" y="533.9" width="4.3" height="4.3" fill="#383838"/><rect x="251.1" y="533.9" width="4.3" height="4.3" fill="#3a3a3a"/><rect x="255.1" y="533.9" width="4.3" height="4.3" fill="#3b3b3b"/><rect x="259.1" y="533.9" width="4.3" height="4.3" fill="#3c3c3c"/><rect x="263.1" y="533.9" width="4.3" height="4.3" fill="#3d3d3d"/><rect x="267.1" y="533.9" width="4.3" height="4.3" fill="#3e3e3e"/><rect x="271.1" y="533.9" width="12.3" height="4.3" fill="#3f3f3f"/><rect x="283.1" y="533.9" width="4.3" height="4.3" fill="#3e3e3e"/><rect x="287.1" y="533.9" width="8.3" height="4.3" fill="#3d3d3d"/><rect x="295.1" y="533.9" width="4.3" height="4.3" fill="#3b3b3b"/><rect x="299.1" y="533.9" width="4.3" height="4.3" fill="#3a3a3a"/><rect x="303.1" y="533.9" width="4.3" height="4.3" fill="#383838"/><rect x="307.1" y="533.9" width="4.3" height="4.3" fill="#363636"/><rect x="311.1" y="533.9" width="4.3" height="4.3" fill="#343434"/><rect x="175.1" y="537.9" width="4.3" height="4.3" fill="#141414"/><rect x="179.1" y="537.9" width="4.3" height="4.3" fill="#151515"/><rect x="183.1" y="537.9" width="4.3" height="4.3" fill="#161616"/><rect x="187.1" y="537.9" width="4.3" height="4.3" fill="#171717"/><rect x="191.1" y="537.9" width="4.3" height="4.3" fill="#181818"/><rect x="195.1" y="537.9" width="4.3" height="4.3" fill="#191919"/><rect x="199.1" y="537.9" width="4.3" height="4.3" fill="#1a1a1a"/><rect x="203.1" y="537.9" width="4.3" height="4.3" fill="#1c1c1c"/><rect x="207.1" y="537.9" width="4.3" height="4.3" fill="#1d1d1d"/><rect x="211.1" y="537.9" width="4.3" height="4.3" fill="#1e1e1e"/><rect x="215.1" y="537.9" width="4.3" height="4.3" fill="#1f1f1f"/><rect x="219.1" y="537.9" width="4.3" height="4.3" fill="#212121"/><rect x="223.1" y="537.9" width="4.3" height="4.3" fill="#242424"/><rect x="227.1" y="537.9" width="4.3" height="4.3" fill="#262626"/><rect x="231.1" y="537.9" width="4.3" height="4.3" fill="#292929"/><rect x="235.1" y="537.9" width="4.3" height="4.3" fill="#2c2c2c"/><rect x="239.1" y="537.9" width="4.3" height="4.3" fill="#2f2f2f"/><rect x="243.1" y="537.9" width="4.3" height="4.3" fill="#313131"/><rect x="247.1" y="537.9" width="4.3" height="4.3" fill="#343434"/><rect x="251.1" y="537.9" width="4.3" height="4.3" fill="#363636"/><rect x="255.1" y="537.9" width="4.3" height="4.3" fill="#383838"/><rect x="259.1" y="537.9" width="4.3" height="4.3" fill="#393939"/><rect x="263.1" y="537.9" width="4.3" height="4.3" fill="#3a3a3a"/><rect x="267.1" y="537.9" width="4.3" height="4.3" fill="#3b3b3b"/><rect x="271.1" y="537.9" width="16.3" height="4.3" fill="#3c3c3c"/><rect x="287.1" y="537.9" width="4.3" height="4.3" fill="#3b3b3b"/><rect x="291.1" y="537.9" width="4.3" height="4.3" fill="#3a3a3a"/><rect x="295.1" y="537.9" width="4.3" height="4.3" fill="#393939"/><rect x="299.1" y="537.9" width="4.3" height="4.3" fill="#383838"/><rect x="303.1" y="537.9" width="4.3" height="4.3" fill="#373737"/><rect x="307.1" y="537.9" width="4.3" height="4.3" fill="#353535"/><rect x="311.1" y="537.9" width="4.3" height="4.3" fill="#323232"/><rect x="175.1" y="541.9" width="4.3" height="4.3" fill="#131313"/><rect x="179.1" y="541.9" width="4.3" height="4.3" fill="#141414"/><rect x="183.1" y="541.9" width="4.3" height="4.3" fill="#151515"/><rect x="187.1" y="541.9" width="4.3" height="4.3" fill="#161616"/><rect x="191.1" y="541.9" width="4.3" height="4.3" fill="#171717"/><rect x="195.1" y="541.9" width="4.3" height="4.3" fill="#181818"/><rect x="199.1" y="541.9" width="4.3" height="4.3" fill="#191919"/><rect x="203.1" y="541.9" width="4.3" height="4.3" fill="#1a1a1a"/><rect x="207.1" y="541.9" width="4.3" height="4.3" fill="#1c1c1c"/><rect x="211.1" y="541.9" width="4.3" height="4.3" fill="#1d1d1d"/><rect x="215.1" y="541.9" width="4.3" height="4.3" fill="#1e1e1e"/><rect x="219.1" y="541.9" width="4.3" height="4.3" fill="#1f1f1f"/><rect x="223.1" y="541.9" width="4.3" height="4.3" fill="#202020"/><rect x="227.1" y="541.9" width="4.3" height="4.3" fill="#232323"/><rect x="231.1" y="541.9" width="4.3" height="4.3" fill="#252525"/><rect x="235.1" y="541.9" width="4.3" height="4.3" fill="#282828"/><rect x="239.1" y="541.9" width="4.3" height="4.3" fill="#2a2a2a"/><rect x="243.1" y="541.9" width="4.3" height="4.3" fill="#2d2d2d"/><rect x="247.1" y="541.9" width="4.3" height="4.3" fill="#2f2f2f"/><rect x="251.1" y="541.9" width="4.3" height="4.3" fill="#323232"/><rect x="255.1" y="541.9" width="4.3" height="4.3" fill="#343434"/><rect x="259.1" y="541.9" width="4.3" height="4.3" fill="#363636"/><rect x="263.1" y="541.9" width="4.3" height="4.3" fill="#373737"/><rect x="267.1" y="541.9" width="8.3" height="4.3" fill="#383838"/><rect x="275.1" y="541.9" width="16.3" height="4.3" fill="#393939"/><rect x="291.1" y="541.9" width="4.3" height="4.3" fill="#383838"/><rect x="295.1" y="541.9" width="4.3" height="4.3" fill="#373737"/><rect x="299.1" y="541.9" width="4.3" height="4.3" fill="#363636"/><rect x="303.1" y="541.9" width="4.3" height="4.3" fill="#353535"/><rect x="307.1" y="541.9" width="4.3" height="4.3" fill="#333333"/><rect x="311.1" y="541.9" width="4.3" height="4.3" fill="#303030"/><rect x="175.1" y="545.9" width="8.3" height="4.3" fill="#131313"/><rect x="183.1" y="545.9" width="4.3" height="4.3" fill="#141414"/><rect x="187.1" y="545.9" width="4.3" height="4.3" fill="#151515"/><rect x="191.1" y="545.9" width="4.3" height="4.3" fill="#161616"/><rect x="195.1" y="545.9" width="4.3" height="4.3" fill="#171717"/><rect x="199.1" y="545.9" width="4.3" height="4.3" fill="#181818"/><rect x="203.1" y="545.9" width="4.3" height="4.3" fill="#191919"/><rect x="207.1" y="545.9" width="4.3" height="4.3" fill="#1a1a1a"/><rect x="211.1" y="545.9" width="4.3" height="4.3" fill="#1b1b1b"/><rect x="215.1" y="545.9" width="4.3" height="4.3" fill="#1d1d1d"/><rect x="219.1" y="545.9" width="4.3" height="4.3" fill="#1e1e1e"/><rect x="223.1" y="545.9" width="8.3" height="4.3" fill="#1f1f1f"/><rect x="231.1" y="545.9" width="4.3" height="4.3" fill="#222222"/><rect x="235.1" y="545.9" width="4.3" height="4.3" fill="#242424"/><rect x="239.1" y="545.9" width="4.3" height="4.3" fill="#262626"/><rect x="243.1" y="545.9" width="4.3" height="4.3" fill="#292929"/><rect x="247.1" y="545.9" width="4.3" height="4.3" fill="#2b2b2b"/><rect x="251.1" y="545.9" width="4.3" height="4.3" fill="#2d2d2d"/><rect x="255.1" y="545.9" width="4.3" height="4.3" fill="#2f2f2f"/><rect x="259.1" y="545.9" width="4.3" height="4.3" fill="#313131"/><rect x="263.1" y="545.9" width="4.3" height="4.3" fill="#333333"/><rect x="267.1" y="545.9" width="4.3" height="4.3" fill="#343434"/><rect x="271.1" y="545.9" width="4.3" height="4.3" fill="#353535"/><rect x="275.1" y="545.9" width="20.3" height="4.3" fill="#363636"/><rect x="295.1" y="545.9" width="4.3" height="4.3" fill="#353535"/><rect x="299.1" y="545.9" width="4.3" height="4.3" fill="#333333"/><rect x="303.1" y="545.9" width="4.3" height="4.3" fill="#323232"/><rect x="307.1" y="545.9" width="4.3" height="4.3" fill="#303030"/><rect x="311.1" y="545.9" width="4.3" height="4.3" fill="#2e2e2e"/><rect x="175.1" y="549.9" width="12.3" height="4.3" fill="#131313"/><rect x="187.1" y="549.9" width="4.3" height="4.3" fill="#141414"/><rect x="191.1" y="549.9" width="4.3" height="4.3" fill="#151515"/><rect x="195.1" y="549.9" width="4.3" height="4.3" fill="#161616"/><rect x="199.1" y="549.9" width="4.3" height="4.3" fill="#171717"/><rect x="203.1" y="549.9" width="4.3" height="4.3" fill="#181818"/><rect x="207.1" y="549.9" width="4.3" height="4.3" fill="#191919"/><rect x="211.1" y="549.9" width="4.3" height="4.3" fill="#1a1a1a"/><rect x="215.1" y="549.9" width="4.3" height="4.3" fill="#1b1b1b"/><rect x="219.1" y="549.9" width="4.3" height="4.3" fill="#1c1c1c"/><rect x="223.1" y="549.9" width="4.3" height="4.3" fill="#1e1e1e"/><rect x="227.1" y="549.9" width="8.3" height="4.3" fill="#1f1f1f"/><rect x="235.1" y="549.9" width="4.3" height="4.3" fill="#212121"/><rect x="239.1" y="549.9" width="4.3" height="4.3" fill="#232323"/><rect x="243.1" y="549.9" width="4.3" height="4.3" fill="#252525"/><rect x="247.1" y="549.9" width="4.3" height="4.3" fill="#272727"/><rect x="251.1" y="549.9" width="4.3" height="4.3" fill="#292929"/><rect x="255.1" y="549.9" width="4.3" height="4.3" fill="#2b2b2b"/><rect x="259.1" y="549.9" width="4.3" height="4.3" fill="#2d2d2d"/><rect x="263.1" y="549.9" width="4.3" height="4.3" fill="#2e2e2e"/><rect x="267.1" y="549.9" width="4.3" height="4.3" fill="#303030"/><rect x="271.1" y="549.9" width="4.3" height="4.3" fill="#313131"/><rect x="275.1" y="549.9" width="8.3" height="4.3" fill="#323232"/><rect x="283.1" y="549.9" width="4.3" height="4.3" fill="#333333"/><rect x="287.1" y="549.9" width="8.3" height="4.3" fill="#323232"/><rect x="295.1" y="549.9" width="8.3" height="4.3" fill="#313131"/><rect x="303.1" y="549.9" width="4.3" height="4.3" fill="#2f2f2f"/><rect x="307.1" y="549.9" width="4.3" height="4.3" fill="#2e2e2e"/><rect x="311.1" y="549.9" width="4.3" height="4.3" fill="#2c2c2c"/><rect x="175.1" y="553.9" width="8.3" height="4.3" fill="#121212"/><rect x="183.1" y="553.9" width="8.3" height="4.3" fill="#131313"/><rect x="191.1" y="553.9" width="4.3" height="4.3" fill="#141414"/><rect x="195.1" y="553.9" width="4.3" height="4.3" fill="#151515"/><rect x="199.1" y="553.9" width="4.3" height="4.3" fill="#161616"/><rect x="203.1" y="553.9" width="4.3" height="4.3" fill="#171717"/><rect x="207.1" y="553.9" width="4.3" height="4.3" fill="#181818"/><rect x="211.1" y="553.9" width="4.3" height="4.3" fill="#191919"/><rect x="215.1" y="553.9" width="4.3" height="4.3" fill="#1a1a1a"/><rect x="219.1" y="553.9" width="4.3" height="4.3" fill="#1b1b1b"/><rect x="223.1" y="553.9" width="4.3" height="4.3" fill="#1c1c1c"/><rect x="227.1" y="553.9" width="4.3" height="4.3" fill="#1d1d1d"/><rect x="231.1" y="553.9" width="12.3" height="4.3" fill="#1f1f1f"/><rect x="243.1" y="553.9" width="4.3" height="4.3" fill="#212121"/><rect x="247.1" y="553.9" width="4.3" height="4.3" fill="#232323"/><rect x="251.1" y="553.9" width="4.3" height="4.3" fill="#252525"/><rect x="255.1" y="553.9" width="4.3" height="4.3" fill="#272727"/><rect x="259.1" y="553.9" width="4.3" height="4.3" fill="#282828"/><rect x="263.1" y="553.9" width="4.3" height="4.3" fill="#2a2a2a"/><rect x="267.1" y="553.9" width="4.3" height="4.3" fill="#2b2b2b"/><rect x="271.1" y="553.9" width="4.3" height="4.3" fill="#2d2d2d"/><rect x="275.1" y="553.9" width="8.3" height="4.3" fill="#2e2e2e"/><rect x="283.1" y="553.9" width="12.3" height="4.3" fill="#2f2f2f"/><rect x="295.1" y="553.9" width="4.3" height="4.3" fill="#2e2e2e"/><rect x="299.1" y="553.9" width="4.3" height="4.3" fill="#2d2d2d"/><rect x="303.1" y="553.9" width="4.3" height="4.3" fill="#2c2c2c"/><rect x="307.1" y="553.9" width="4.3" height="4.3" fill="#2b2b2b"/><rect x="311.1" y="553.9" width="4.3" height="4.3" fill="#2a2a2a"/><rect x="175.1" y="557.9" width="12.3" height="4.3" fill="#121212"/><rect x="187.1" y="557.9" width="8.3" height="4.3" fill="#131313"/><rect x="195.1" y="557.9" width="4.3" height="4.3" fill="#141414"/><rect x="199.1" y="557.9" width="4.3" height="4.3" fill="#151515"/><rect x="203.1" y="557.9" width="4.3" height="4.3" fill="#161616"/><rect x="207.1" y="557.9" width="4.3" height="4.3" fill="#171717"/><rect x="211.1" y="557.9" width="4.3" height="4.3" fill="#181818"/><rect x="215.1" y="557.9" width="4.3" height="4.3" fill="#191919"/><rect x="219.1" y="557.9" width="4.3" height="4.3" fill="#1a1a1a"/><rect x="223.1" y="557.9" width="4.3" height="4.3" fill="#1b1b1b"/><rect x="227.1" y="557.9" width="4.3" height="4.3" fill="#1c1c1c"/><rect x="231.1" y="557.9" width="4.3" height="4.3" fill="#1d1d1d"/><rect x="235.1" y="557.9" width="4.3" height="4.3" fill="#1e1e1e"/><rect x="239.1" y="557.9" width="8.3" height="4.3" fill="#1f1f1f"/><rect x="247.1" y="557.9" width="4.3" height="4.3" fill="#202020"/><rect x="251.1" y="557.9" width="4.3" height="4.3" fill="#222222"/><rect x="255.1" y="557.9" width="4.3" height="4.3" fill="#232323"/><rect x="259.1" y="557.9" width="4.3" height="4.3" fill="#252525"/><rect x="263.1" y="557.9" width="4.3" height="4.3" fill="#262626"/><rect x="267.1" y="557.9" width="4.3" height="4.3" fill="#282828"/><rect x="271.1" y="557.9" width="8.3" height="4.3" fill="#292929"/><rect x="279.1" y="557.9" width="4.3" height="4.3" fill="#2a2a2a"/><rect x="283.1" y="557.9" width="16.3" height="4.3" fill="#2b2b2b"/><rect x="299.1" y="557.9" width="4.3" height="4.3" fill="#2a2a2a"/><rect x="303.1" y="557.9" width="8.3" height="4.3" fill="#292929"/><rect x="311.1" y="557.9" width="4.3" height="4.3" fill="#272727"/><rect x="175.1" y="561.9" width="16.3" height="4.3" fill="#121212"/><rect x="191.1" y="561.9" width="8.3" height="4.3" fill="#131313"/><rect x="199.1" y="561.9" width="4.3" height="4.3" fill="#141414"/><rect x="203.1" y="561.9" width="4.3" height="4.3" fill="#151515"/><rect x="207.1" y="561.9" width="4.3" height="4.3" fill="#161616"/><rect x="211.1" y="561.9" width="4.3" height="4.3" fill="#171717"/><rect x="215.1" y="561.9" width="4.3" height="4.3" fill="#181818"/><rect x="219.1" y="561.9" width="4.3" height="4.3" fill="#191919"/><rect x="223.1" y="561.9" width="4.3" height="4.3" fill="#1a1a1a"/><rect x="227.1" y="561.9" width="4.3" height="4.3" fill="#1b1b1b"/><rect x="231.1" y="561.9" width="4.3" height="4.3" fill="#1c1c1c"/><rect x="235.1" y="561.9" width="4.3" height="4.3" fill="#1d1d1d"/><rect x="239.1" y="561.9" width="4.3" height="4.3" fill="#1e1e1e"/><rect x="243.1" y="561.9" width="12.3" height="4.3" fill="#1f1f1f"/><rect x="255.1" y="561.9" width="4.3" height="4.3" fill="#202020"/><rect x="259.1" y="561.9" width="4.3" height="4.3" fill="#212121"/><rect x="263.1" y="561.9" width="4.3" height="4.3" fill="#232323"/><rect x="267.1" y="561.9" width="4.3" height="4.3" fill="#242424"/><rect x="271.1" y="561.9" width="4.3" height="4.3" fill="#252525"/><rect x="275.1" y="561.9" width="4.3" height="4.3" fill="#262626"/><rect x="279.1" y="561.9" width="8.3" height="4.3" fill="#272727"/><rect x="287.1" y="561.9" width="12.3" height="4.3" fill="#282828"/><rect x="299.1" y="561.9" width="8.3" height="4.3" fill="#272727"/><rect x="307.1" y="561.9" width="4.3" height="4.3" fill="#262626"/><rect x="311.1" y="561.9" width="4.3" height="4.3" fill="#252525"/><rect x="175.1" y="565.9" width="20.3" height="4.3" fill="#121212"/><rect x="195.1" y="565.9" width="8.3" height="4.3" fill="#131313"/><rect x="203.1" y="565.9" width="4.3" height="4.3" fill="#141414"/><rect x="207.1" y="565.9" width="4.3" height="4.3" fill="#151515"/><rect x="211.1" y="565.9" width="4.3" height="4.3" fill="#161616"/><rect x="215.1" y="565.9" width="8.3" height="4.3" fill="#171717"/><rect x="223.1" y="565.9" width="4.3" height="4.3" fill="#191919"/><rect x="227.1" y="565.9" width="4.3" height="4.3" fill="#1a1a1a"/><rect x="231.1" y="565.9" width="4.3" height="4.3" fill="#1b1b1b"/><rect x="235.1" y="565.9" width="4.3" height="4.3" fill="#1c1c1c"/><rect x="239.1" y="565.9" width="4.3" height="4.3" fill="#1d1d1d"/><rect x="243.1" y="565.9" width="4.3" height="4.3" fill="#1e1e1e"/><rect x="247.1" y="565.9" width="20.3" height="4.3" fill="#1f1f1f"/><rect x="267.1" y="565.9" width="4.3" height="4.3" fill="#212121"/><rect x="271.1" y="565.9" width="4.3" height="4.3" fill="#222222"/><rect x="275.1" y="565.9" width="8.3" height="4.3" fill="#232323"/><rect x="283.1" y="565.9" width="8.3" height="4.3" fill="#242424"/><rect x="291.1" y="565.9" width="12.3" height="4.3" fill="#252525"/><rect x="303.1" y="565.9" width="8.3" height="4.3" fill="#242424"/><rect x="311.1" y="565.9" width="4.3" height="4.3" fill="#232323"/><rect x="175.1" y="569.9" width="24.3" height="4.3" fill="#121212"/><rect x="199.1" y="569.9" width="8.3" height="4.3" fill="#131313"/><rect x="207.1" y="569.9" width="4.3" height="4.3" fill="#141414"/><rect x="211.1" y="569.9" width="4.3" height="4.3" fill="#151515"/><rect x="215.1" y="569.9" width="8.3" height="4.3" fill="#161616"/><rect x="223.1" y="569.9" width="4.3" height="4.3" fill="#171717"/><rect x="227.1" y="569.9" width="4.3" height="4.3" fill="#191919"/><rect x="231.1" y="569.9" width="4.3" height="4.3" fill="#1a1a1a"/><rect x="235.1" y="569.9" width="4.3" height="4.3" fill="#1b1b1b"/><rect x="239.1" y="569.9" width="4.3" height="4.3" fill="#1c1c1c"/><rect x="243.1" y="569.9" width="4.3" height="4.3" fill="#1d1d1d"/><rect x="247.1" y="569.9" width="4.3" height="4.3" fill="#1e1e1e"/><rect x="251.1" y="569.9" width="28.3" height="4.3" fill="#1f1f1f"/><rect x="279.1" y="569.9" width="4.3" height="4.3" fill="#202020"/><rect x="283.1" y="569.9" width="8.3" height="4.3" fill="#212121"/><rect x="291.1" y="569.9" width="12.3" height="4.3" fill="#222222"/><rect x="303.1" y="569.9" width="8.3" height="4.3" fill="#212121"/><rect x="311.1" y="569.9" width="4.3" height="4.3" fill="#202020"/><rect x="175.1" y="573.9" width="28.3" height="4.3" fill="#121212"/><rect x="203.1" y="573.9" width="8.3" height="4.3" fill="#131313"/><rect x="211.1" y="573.9" width="4.3" height="4.3" fill="#141414"/><rect x="215.1" y="573.9" width="8.3" height="4.3" fill="#151515"/><rect x="223.1" y="573.9" width="4.3" height="4.3" fill="#161616"/><rect x="227.1" y="573.9" width="4.3" height="4.3" fill="#171717"/><rect x="231.1" y="573.9" width="4.3" height="4.3" fill="#191919"/><rect x="235.1" y="573.9" width="4.3" height="4.3" fill="#1a1a1a"/><rect x="239.1" y="573.9" width="4.3" height="4.3" fill="#1b1b1b"/><rect x="243.1" y="573.9" width="4.3" height="4.3" fill="#1c1c1c"/><rect x="247.1" y="573.9" width="4.3" height="4.3" fill="#1d1d1d"/><rect x="251.1" y="573.9" width="4.3" height="4.3" fill="#1e1e1e"/><rect x="255.1" y="573.9" width="60.3" height="4.3" fill="#1f1f1f"/><rect x="175.1" y="577.9" width="32.3" height="4.3" fill="#121212"/><rect x="207.1" y="577.9" width="8.3" height="4.3" fill="#131313"/><rect x="215.1" y="577.9" width="8.3" height="4.3" fill="#141414"/><rect x="223.1" y="577.9" width="4.3" height="4.3" fill="#151515"/><rect x="227.1" y="577.9" width="4.3" height="4.3" fill="#161616"/><rect x="231.1" y="577.9" width="4.3" height="4.3" fill="#171717"/><rect x="235.1" y="577.9" width="4.3" height="4.3" fill="#181818"/><rect x="239.1" y="577.9" width="4.3" height="4.3" fill="#1a1a1a"/><rect x="243.1" y="577.9" width="4.3" height="4.3" fill="#1b1b1b"/><rect x="247.1" y="577.9" width="4.3" height="4.3" fill="#1c1c1c"/><rect x="251.1" y="577.9" width="4.3" height="4.3" fill="#1d1d1d"/><rect x="255.1" y="577.9" width="4.3" height="4.3" fill="#1e1e1e"/><rect x="259.1" y="577.9" width="56.3" height="4.3" fill="#1f1f1f"/><rect x="175.1" y="581.9" width="36.3" height="4.3" fill="#121212"/><rect x="211.1" y="581.9" width="8.3" height="4.3" fill="#131313"/><rect x="219.1" y="581.9" width="8.3" height="4.3" fill="#141414"/><rect x="227.1" y="581.9" width="4.3" height="4.3" fill="#151515"/><rect x="231.1" y="581.9" width="4.3" height="4.3" fill="#161616"/><rect x="235.1" y="581.9" width="4.3" height="4.3" fill="#171717"/><rect x="239.1" y="581.9" width="4.3" height="4.3" fill="#181818"/><rect x="243.1" y="581.9" width="4.3" height="4.3" fill="#1a1a1a"/><rect x="247.1" y="581.9" width="4.3" height="4.3" fill="#1b1b1b"/><rect x="251.1" y="581.9" width="4.3" height="4.3" fill="#1c1c1c"/><rect x="255.1" y="581.9" width="4.3" height="4.3" fill="#1d1d1d"/><rect x="259.1" y="581.9" width="4.3" height="4.3" fill="#1e1e1e"/><rect x="263.1" y="581.9" width="52.3" height="4.3" fill="#1f1f1f"/><rect x="175.1" y="585.9" width="40.3" height="4.3" fill="#121212"/><rect x="215.1" y="585.9" width="8.3" height="4.3" fill="#131313"/><rect x="223.1" y="585.9" width="8.3" height="4.3" fill="#141414"/><rect x="231.1" y="585.9" width="4.3" height="4.3" fill="#151515"/><rect x="235.1" y="585.9" width="4.3" height="4.3" fill="#161616"/><rect x="239.1" y="585.9" width="4.3" height="4.3" fill="#171717"/><rect x="243.1" y="585.9" width="4.3" height="4.3" fill="#181818"/><rect x="247.1" y="585.9" width="4.3" height="4.3" fill="#1a1a1a"/><rect x="251.1" y="585.9" width="4.3" height="4.3" fill="#1b1b1b"/><rect x="255.1" y="585.9" width="4.3" height="4.3" fill="#1c1c1c"/><rect x="259.1" y="585.9" width="4.3" height="4.3" fill="#1d1d1d"/><rect x="263.1" y="585.9" width="4.3" height="4.3" fill="#1e1e1e"/><rect x="267.1" y="585.9" width="48.3" height="4.3" fill="#1f1f1f"/><rect x="175.1" y="589.9" width="44.3" height="4.3" fill="#121212"/><rect x="219.1" y="589.9" width="8.3" height="4.3" fill="#131313"/><rect x="227.1" y="589.9" width="8.3" height="4.3" fill="#141414"/><rect x="235.1" y="589.9" width="4.3" height="4.3" fill="#151515"/><rect x="239.1" y="589.9" width="4.3" height="4.3" fill="#161616"/><rect x="243.1" y="589.9" width="4.3" height="4.3" fill="#171717"/><rect x="247.1" y="589.9" width="4.3" height="4.3" fill="#181818"/><rect x="251.1" y="589.9" width="4.3" height="4.3" fill="#1a1a1a"/><rect x="255.1" y="589.9" width="4.3" height="4.3" fill="#1b1b1b"/><rect x="259.1" y="589.9" width="4.3" height="4.3" fill="#1c1c1c"/><rect x="263.1" y="589.9" width="4.3" height="4.3" fill="#1d1d1d"/><rect x="267.1" y="589.9" width="4.3" height="4.3" fill="#1e1e1e"/><rect x="271.1" y="589.9" width="44.3" height="4.3" fill="#1f1f1f"/><rect x="175.1" y="593.9" width="48.3" height="4.3" fill="#121212"/><rect x="223.1" y="593.9" width="8.3" height="4.3" fill="#131313"/><rect x="231.1" y="593.9" width="8.3" height="4.3" fill="#141414"/><rect x="239.1" y="593.9" width="4.3" height="4.3" fill="#151515"/><rect x="243.1" y="593.9" width="4.3" height="4.3" fill="#161616"/><rect x="247.1" y="593.9" width="4.3" height="4.3" fill="#171717"/><rect x="251.1" y="593.9" width="4.3" height="4.3" fill="#181818"/><rect x="255.1" y="593.9" width="4.3" height="4.3" fill="#191919"/><rect x="259.1" y="593.9" width="4.3" height="4.3" fill="#1b1b1b"/><rect x="263.1" y="593.9" width="4.3" height="4.3" fill="#1c1c1c"/><rect x="267.1" y="593.9" width="4.3" height="4.3" fill="#1d1d1d"/><rect x="271.1" y="593.9" width="4.3" height="4.3" fill="#1e1e1e"/><rect x="275.1" y="593.9" width="40.3" height="4.3" fill="#1f1f1f"/><rect x="175.1" y="597.9" width="52.3" height="4.3" fill="#121212"/><rect x="227.1" y="597.9" width="8.3" height="4.3" fill="#131313"/><rect x="235.1" y="597.9" width="8.3" height="4.3" fill="#141414"/><rect x="243.1" y="597.9" width="4.3" height="4.3" fill="#151515"/><rect x="247.1" y="597.9" width="4.3" height="4.3" fill="#161616"/><rect x="251.1" y="597.9" width="4.3" height="4.3" fill="#171717"/><rect x="255.1" y="597.9" width="4.3" height="4.3" fill="#181818"/><rect x="259.1" y="597.9" width="4.3" height="4.3" fill="#191919"/><rect x="263.1" y="597.9" width="4.3" height="4.3" fill="#1b1b1b"/><rect x="267.1" y="597.9" width="4.3" height="4.3" fill="#1c1c1c"/><rect x="271.1" y="597.9" width="4.3" height="4.3" fill="#1d1d1d"/><rect x="275.1" y="597.9" width="4.3" height="4.3" fill="#1e1e1e"/><rect x="279.1" y="597.9" width="36.3" height="4.3" fill="#1f1f1f"/><rect x="175.1" y="601.9" width="56.3" height="4.3" fill="#121212"/><rect x="231.1" y="601.9" width="8.3" height="4.3" fill="#131313"/><rect x="239.1" y="601.9" width="8.3" height="4.3" fill="#141414"/><rect x="247.1" y="601.9" width="4.3" height="4.3" fill="#151515"/><rect x="251.1" y="601.9" width="4.3" height="4.3" fill="#161616"/><rect x="255.1" y="601.9" width="4.3" height="4.3" fill="#171717"/><rect x="259.1" y="601.9" width="4.3" height="4.3" fill="#181818"/><rect x="263.1" y="601.9" width="4.3" height="4.3" fill="#191919"/><rect x="267.1" y="601.9" width="4.3" height="4.3" fill="#1b1b1b"/><rect x="271.1" y="601.9" width="4.3" height="4.3" fill="#1c1c1c"/><rect x="275.1" y="601.9" width="4.3" height="4.3" fill="#1d1d1d"/><rect x="279.1" y="601.9" width="4.3" height="4.3" fill="#1e1e1e"/><rect x="283.1" y="601.9" width="32.3" height="4.3" fill="#1f1f1f"/><rect x="175.1" y="605.9" width="60.3" height="4.3" fill="#121212"/><rect x="235.1" y="605.9" width="8.3" height="4.3" fill="#131313"/><rect x="243.1" y="605.9" width="8.3" height="4.3" fill="#141414"/><rect x="251.1" y="605.9" width="4.3" height="4.3" fill="#151515"/><rect x="255.1" y="605.9" width="4.3" height="4.3" fill="#161616"/><rect x="259.1" y="605.9" width="4.3" height="4.3" fill="#171717"/><rect x="263.1" y="605.9" width="4.3" height="4.3" fill="#181818"/><rect x="267.1" y="605.9" width="4.3" height="4.3" fill="#191919"/><rect x="271.1" y="605.9" width="4.3" height="4.3" fill="#1b1b1b"/><rect x="275.1" y="605.9" width="4.3" height="4.3" fill="#1c1c1c"/><rect x="279.1" y="605.9" width="4.3" height="4.3" fill="#1d1d1d"/><rect x="283.1" y="605.9" width="4.3" height="4.3" fill="#1e1e1e"/><rect x="287.1" y="605.9" width="28.3" height="4.3" fill="#1f1f1f"/><rect x="175.1" y="609.9" width="64.3" height="4.3" fill="#121212"/><rect x="239.1" y="609.9" width="12.3" height="4.3" fill="#131313"/><rect x="251.1" y="609.9" width="4.3" height="4.3" fill="#141414"/><rect x="255.1" y="609.9" width="4.3" height="4.3" fill="#151515"/><rect x="259.1" y="609.9" width="4.3" height="4.3" fill="#161616"/><rect x="263.1" y="609.9" width="4.3" height="4.3" fill="#171717"/><rect x="267.1" y="609.9" width="4.3" height="4.3" fill="#181818"/><rect x="271.1" y="609.9" width="4.3" height="4.3" fill="#191919"/><rect x="275.1" y="609.9" width="4.3" height="4.3" fill="#1a1a1a"/><rect x="279.1" y="609.9" width="4.3" height="4.3" fill="#1c1c1c"/><rect x="283.1" y="609.9" width="4.3" height="4.3" fill="#1d1d1d"/><rect x="287.1" y="609.9" width="4.3" height="4.3" fill="#1e1e1e"/><rect x="291.1" y="609.9" width="24.3" height="4.3" fill="#1f1f1f"/><rect x="175.1" y="613.9" width="68.3" height="4.3" fill="#121212"/><rect x="243.1" y="613.9" width="12.3" height="4.3" fill="#131313"/><rect x="255.1" y="613.9" width="4.3" height="4.3" fill="#141414"/><rect x="259.1" y="613.9" width="4.3" height="4.3" fill="#151515"/><rect x="263.1" y="613.9" width="4.3" height="4.3" fill="#161616"/><rect x="267.1" y="613.9" width="4.3" height="4.3" fill="#171717"/><rect x="271.1" y="613.9" width="4.3" height="4.3" fill="#181818"/><rect x="275.1" y="613.9" width="4.3" height="4.3" fill="#191919"/><rect x="279.1" y="613.9" width="4.3" height="4.3" fill="#1a1a1a"/><rect x="283.1" y="613.9" width="4.3" height="4.3" fill="#1c1c1c"/><rect x="287.1" y="613.9" width="4.3" height="4.3" fill="#1d1d1d"/><rect x="291.1" y="613.9" width="4.3" height="4.3" fill="#1e1e1e"/><rect x="295.1" y="613.9" width="20.3" height="4.3" fill="#1f1f1f"/><rect x="175.1" y="617.9" width="72.3" height="4.3" fill="#121212"/><rect x="247.1" y="617.9" width="12.3" height="4.3" fill="#131313"/><rect x="259.1" y="617.9" width="4.3" height="4.3" fill="#141414"/><rect x="263.1" y="617.9" width="4.3" height="4.3" fill="#151515"/><rect x="267.1" y="617.9" width="4.3" height="4.3" fill="#161616"/><rect x="271.1" y="617.9" width="4.3" height="4.3" fill="#171717"/><rect x="275.1" y="617.9" width="4.3" height="4.3" fill="#181818"/><rect x="279.1" y="617.9" width="4.3" height="4.3" fill="#191919"/><rect x="283.1" y="617.9" width="4.3" height="4.3" fill="#1a1a1a"/><rect x="287.1" y="617.9" width="4.3" height="4.3" fill="#1c1c1c"/><rect x="291.1" y="617.9" width="4.3" height="4.3" fill="#1d1d1d"/><rect x="295.1" y="617.9" width="4.3" height="4.3" fill="#1e1e1e"/><rect x="299.1" y="617.9" width="16.3" height="4.3" fill="#1f1f1f"/><rect x="175.1" y="621.9" width="76.3" height="4.3" fill="#121212"/><rect x="251.1" y="621.9" width="12.3" height="4.3" fill="#131313"/><rect x="263.1" y="621.9" width="4.3" height="4.3" fill="#141414"/><rect x="267.1" y="621.9" width="4.3" height="4.3" fill="#151515"/><rect x="271.1" y="621.9" width="4.3" height="4.3" fill="#161616"/><rect x="275.1" y="621.9" width="4.3" height="4.3" fill="#171717"/><rect x="279.1" y="621.9" width="4.3" height="4.3" fill="#181818"/><rect x="283.1" y="621.9" width="4.3" height="4.3" fill="#191919"/><rect x="287.1" y="621.9" width="4.3" height="4.3" fill="#1a1a1a"/><rect x="291.1" y="621.9" width="4.3" height="4.3" fill="#1c1c1c"/><rect x="295.1" y="621.9" width="4.3" height="4.3" fill="#1d1d1d"/><rect x="299.1" y="621.9" width="4.3" height="4.3" fill="#1e1e1e"/><rect x="303.1" y="621.9" width="12.3" height="4.3" fill="#1f1f1f"/><rect x="175.1" y="625.9" width="80.3" height="4.3" fill="#121212"/><rect x="255.1" y="625.9" width="12.3" height="4.3" fill="#131313"/><rect x="267.1" y="625.9" width="4.3" height="4.3" fill="#141414"/><rect x="271.1" y="625.9" width="4.3" height="4.3" fill="#151515"/><rect x="275.1" y="625.9" width="4.3" height="4.3" fill="#161616"/><rect x="279.1" y="625.9" width="4.3" height="4.3" fill="#171717"/><rect x="283.1" y="625.9" width="4.3" height="4.3" fill="#181818"/><rect x="287.1" y="625.9" width="4.3" height="4.3" fill="#191919"/><rect x="291.1" y="625.9" width="4.3" height="4.3" fill="#1a1a1a"/><rect x="295.1" y="625.9" width="4.3" height="4.3" fill="#1b1b1b"/><rect x="299.1" y="625.9" width="4.3" height="4.3" fill="#1c1c1c"/><rect x="303.1" y="625.9" width="4.3" height="4.3" fill="#1e1e1e"/><rect x="307.1" y="625.9" width="8.3" height="4.3" fill="#1f1f1f"/><rect x="175.1" y="629.9" width="88.3" height="4.3" fill="#121212"/><rect x="263.1" y="629.9" width="8.3" height="4.3" fill="#131313"/><rect x="271.1" y="629.9" width="4.3" height="4.3" fill="#141414"/><rect x="275.1" y="629.9" width="4.3" height="4.3" fill="#151515"/><rect x="279.1" y="629.9" width="4.3" height="4.3" fill="#161616"/><rect x="283.1" y="629.9" width="4.3" height="4.3" fill="#171717"/><rect x="287.1" y="629.9" width="4.3" height="4.3" fill="#181818"/><rect x="291.1" y="629.9" width="4.3" height="4.3" fill="#191919"/><rect x="295.1" y="629.9" width="4.3" height="4.3" fill="#1a1a1a"/><rect x="299.1" y="629.9" width="4.3" height="4.3" fill="#1b1b1b"/><rect x="303.1" y="629.9" width="4.3" height="4.3" fill="#1c1c1c"/><rect x="307.1" y="629.9" width="4.3" height="4.3" fill="#1d1d1d"/><rect x="311.1" y="629.9" width="4.3" height="4.3" fill="#1f1f1f"/><rect x="175.1" y="633.9" width="92.3" height="4.3" fill="#121212"/><rect x="267.1" y="633.9" width="8.3" height="4.3" fill="#131313"/><rect x="275.1" y="633.9" width="4.3" height="4.3" fill="#141414"/><rect x="279.1" y="633.9" width="4.3" height="4.3" fill="#151515"/><rect x="283.1" y="633.9" width="4.3" height="4.3" fill="#161616"/><rect x="287.1" y="633.9" width="4.3" height="4.3" fill="#171717"/><rect x="291.1" y="633.9" width="4.3" height="4.3" fill="#181818"/><rect x="295.1" y="633.9" width="4.3" height="4.3" fill="#191919"/><rect x="299.1" y="633.9" width="4.3" height="4.3" fill="#1a1a1a"/><rect x="303.1" y="633.9" width="4.3" height="4.3" fill="#1b1b1b"/><rect x="307.1" y="633.9" width="4.3" height="4.3" fill="#1c1c1c"/><rect x="311.1" y="633.9" width="4.3" height="4.3" fill="#1d1d1d"/><rect x="175.1" y="637.9" width="96.3" height="4.3" fill="#121212"/><rect x="271.1" y="637.9" width="8.3" height="4.3" fill="#131313"/><rect x="279.1" y="637.9" width="4.3" height="4.3" fill="#141414"/><rect x="283.1" y="637.9" width="4.3" height="4.3" fill="#151515"/><rect x="287.1" y="637.9" width="4.3" height="4.3" fill="#161616"/><rect x="291.1" y="637.9" width="4.3" height="4.3" fill="#171717"/><rect x="295.1" y="637.9" width="4.3" height="4.3" fill="#181818"/><rect x="299.1" y="637.9" width="4.3" height="4.3" fill="#191919"/><rect x="303.1" y="637.9" width="4.3" height="4.3" fill="#1a1a1a"/><rect x="307.1" y="637.9" width="4.3" height="4.3" fill="#1b1b1b"/><rect x="311.1" y="637.9" width="4.3" height="4.3" fill="#1c1c1c"/><rect x="175.1" y="641.9" width="100.3" height="4.3" fill="#121212"/><rect x="275.1" y="641.9" width="8.3" height="4.3" fill="#131313"/><rect x="283.1" y="641.9" width="4.3" height="4.3" fill="#141414"/><rect x="287.1" y="641.9" width="4.3" height="4.3" fill="#151515"/><rect x="291.1" y="641.9" width="4.3" height="4.3" fill="#161616"/><rect x="295.1" y="641.9" width="8.3" height="4.3" fill="#171717"/><rect x="303.1" y="641.9" width="4.3" height="4.3" fill="#191919"/><rect x="307.1" y="641.9" width="4.3" height="4.3" fill="#1a1a1a"/><rect x="311.1" y="641.9" width="4.3" height="4.3" fill="#1b1b1b"/><rect x="175.1" y="645.9" width="104.3" height="4.3" fill="#121212"/><rect x="279.1" y="645.9" width="8.3" height="4.3" fill="#131313"/><rect x="287.1" y="645.9" width="4.3" height="4.3" fill="#141414"/><rect x="291.1" y="645.9" width="4.3" height="4.3" fill="#151515"/><rect x="295.1" y="645.9" width="8.3" height="4.3" fill="#161616"/><rect x="303.1" y="645.9" width="4.3" height="4.3" fill="#171717"/><rect x="307.1" y="645.9" width="4.3" height="4.3" fill="#191919"/><rect x="311.1" y="645.9" width="4.3" height="4.3" fill="#1a1a1a"/><rect x="175.1" y="649.9" width="108.3" height="4.3" fill="#121212"/><rect x="283.1" y="649.9" width="8.3" height="4.3" fill="#131313"/><rect x="291.1" y="649.9" width="4.3" height="4.3" fill="#141414"/><rect x="295.1" y="649.9" width="8.3" height="4.3" fill="#151515"/><rect x="303.1" y="649.9" width="4.3" height="4.3" fill="#161616"/><rect x="307.1" y="649.9" width="4.3" height="4.3" fill="#171717"/><rect x="311.1" y="649.9" width="4.3" height="4.3" fill="#191919"/><rect x="175.1" y="653.9" width="112.3" height="4.3" fill="#121212"/><rect x="287.1" y="653.9" width="8.3" height="4.3" fill="#131313"/><rect x="295.1" y="653.9" width="8.3" height="4.3" fill="#141414"/><rect x="303.1" y="653.9" width="4.3" height="4.3" fill="#151515"/><rect x="307.1" y="653.9" width="4.3" height="4.3" fill="#161616"/><rect x="311.1" y="653.9" width="4.3" height="4.3" fill="#171717"/><rect x="175.1" y="657.9" width="116.3" height="4.3" fill="#121212"/><rect x="291.1" y="657.9" width="8.3" height="4.3" fill="#131313"/><rect x="299.1" y="657.9" width="8.3" height="4.3" fill="#141414"/><rect x="307.1" y="657.9" width="4.3" height="4.3" fill="#151515"/><rect x="311.1" y="657.9" width="4.3" height="4.3" fill="#161616"/><rect x="175.1" y="661.9" width="120.3" height="4.3" fill="#121212"/><rect x="295.1" y="661.9" width="8.3" height="4.3" fill="#131313"/><rect x="303.1" y="661.9" width="8.3" height="4.3" fill="#141414"/><rect x="311.1" y="661.9" width="4.3" height="4.3" fill="#151515"/><rect x="175.1" y="665.9" width="124.3" height="4.3" fill="#121212"/><rect x="299.1" y="665.9" width="8.3" height="4.3" fill="#131313"/><rect x="307.1" y="665.9" width="8.3" height="4.3" fill="#141414"/><rect x="175.1" y="669.9" width="128.3" height="4.3" fill="#121212"/><rect x="303.1" y="669.9" width="8.3" height="4.3" fill="#131313"/><rect x="311.1" y="669.9" width="4.3" height="4.3" fill="#141414"/><rect x="175.1" y="673.9" width="132.3" height="4.3" fill="#121212"/><rect x="307.1" y="673.9" width="8.3" height="4.3" fill="#131313"/><rect x="175.1" y="677.9" width="136.3" height="4.3" fill="#121212"/><rect x="311.1" y="677.9" width="4.3" height="4.3" fill="#131313"/><rect x="175.1" y="681.9" width="140.3" height="4.3" fill="#121212"/><rect x="175.1" y="685.9" width="140.3" height="4.3" fill="#121212"/><rect x="175.1" y="689.9" width="140.3" height="4.3" fill="#121212"/><rect x="175.1" y="693.9" width="140.3" height="4.3" fill="#121212"/><rect x="175.1" y="697.9" width="140.3" height="4.3" fill="#121212"/><rect x="175.1" y="701.9" width="140.3" height="4.3" fill="#121212"/><rect x="175.1" y="705.9" width="140.3" height="4.3" fill="#121212"/><rect x="175.1" y="709.9" width="140.3" height="4.3" fill="#121212"/><rect x="175.1" y="713.9" width="140.3" height="4.3" fill="#121212"/><rect x="175.1" y="717.9" width="140.3" height="4.3" fill="#121212"/><rect x="175.1" y="721.9" width="140.3" height="4.3" fill="#121212"/><rect x="175.1" y="725.9" width="140.3" height="4.3" fill="#121212"/><rect x="175.1" y="729.9" width="140.3" height="4.3" fill="#121212"/><rect x="175.1" y="733.9" width="140.3" height="4.3" fill="#121212"/><rect x="175.1" y="737.9" width="140.3" height="4.3" fill="#121212"/></g>
<polyline points="236.90,409.90 240.70,443.00 245.20,479.00 253.60,569.00 258.00,600.00 264.60,680.00 268.20,729.50" fill="none" stroke="url(#an_c)" stroke-width="1.4" style="mix-blend-mode:lighten"/>
<rect x="244.70" y="409.9" width="1.20" height="319.0" fill="url(#ctr_c)" style="mix-blend-mode:lighten"/>
<g filter="url(#blur05)" style="mix-blend-mode:lighten">
<ellipse cx="245.30" cy="414.5" rx="0.90" ry="3.5" fill="#535353"/>
<ellipse cx="245.30" cy="423.0" rx="1.30" ry="3.5" fill="#737373"/>
<ellipse cx="245.30" cy="433.5" rx="1.80" ry="5.0" fill="#a3a3a3"/>
<ellipse cx="245.30" cy="446.5" rx="1.60" ry="4.5" fill="#9f9f9f"/>
<ellipse cx="245.30" cy="458.0" rx="1.90" ry="5.0" fill="#c6c6c6"/>
<ellipse cx="245.30" cy="468.0" rx="1.80" ry="5.0" fill="#b9b9b9"/>
<ellipse cx="245.30" cy="499.0" rx="1.80" ry="20.0" fill="#b2b2b2"/>
<ellipse cx="245.30" cy="530.0" rx="1.80" ry="4.5" fill="#a6a6a6"/>
<ellipse cx="245.30" cy="541.3" rx="1.80" ry="4.5" fill="#9f9f9f"/>
<ellipse cx="245.30" cy="556.0" rx="1.70" ry="4.5" fill="#898989"/>
<ellipse cx="245.30" cy="567.2" rx="1.70" ry="4.5" fill="#797979"/>
<ellipse cx="245.30" cy="583.4" rx="1.70" ry="4.5" fill="#696969"/>
<ellipse cx="245.30" cy="594.6" rx="1.70" ry="4.5" fill="#636363"/>
<ellipse cx="245.30" cy="611.3" rx="1.80" ry="4.5" fill="#565656"/>
<ellipse cx="245.30" cy="623.0" rx="1.70" ry="3.5" fill="#393939"/>
<ellipse cx="245.30" cy="638.0" rx="2.20" ry="4.5" fill="#404040"/>
<ellipse cx="245.30" cy="649.0" rx="1.70" ry="3.5" fill="#333333"/>
<ellipse cx="245.30" cy="664.6" rx="2.20" ry="4.5" fill="#3d3d3d"/>
<ellipse cx="245.30" cy="676.0" rx="1.70" ry="3.5" fill="#2d2d2d"/>
<ellipse cx="245.30" cy="691.2" rx="2.20" ry="4.5" fill="#393939"/>
<ellipse cx="245.30" cy="705.5" rx="1.70" ry="3.5" fill="#2d2d2d"/>
<ellipse cx="245.30" cy="718.0" rx="2.20" ry="4.5" fill="#333333"/>
</g>
<defs><linearGradient id="cs_c" gradientUnits="userSpaceOnUse" x1="253.20" y1="456.0" x2="237.60" y2="503.0"><stop offset="0" stop-color="#535353"/><stop offset="0.25" stop-color="#939393"/><stop offset="0.5" stop-color="#acacac"/><stop offset="0.75" stop-color="#8c8c8c"/><stop offset="1" stop-color="#4d4d4d"/></linearGradient></defs>
<line x1="253.20" y1="456.0" x2="237.60" y2="503.0" stroke="url(#cs_c)" stroke-width="1.5" stroke-linecap="round" style="mix-blend-mode:lighten"/>
<rect x="215.4" y="439.5" width="60.0" height="80.0" fill="url(#glow_c)" style="mix-blend-mode:lighten"/>
<rect x="230.4" y="459.5" width="30.0" height="40.0" fill="url(#pk_c)" style="mix-blend-mode:lighten"/>
<g filter="url(#blur05)" style="mix-blend-mode:lighten">
<ellipse cx="236.50" cy="472.5" rx="6.00" ry="1.60" fill="#969696"/>
<ellipse cx="253.00" cy="488.0" rx="4.00" ry="1.30" fill="#868686"/>
</g>
</g>
<defs><linearGradient id="sg1_c" gradientUnits="userSpaceOnUse" x1="0" y1="409" x2="0" y2="729"><stop offset="0" stop-color="#4650bc"/><stop offset="0.35" stop-color="#4c5ac0"/><stop offset="0.6" stop-color="#5c66c6"/><stop offset="1" stop-color="#6a72cc"/></linearGradient>
<linearGradient id="sg2_c" gradientUnits="userSpaceOnUse" x1="0" y1="409" x2="0" y2="729"><stop offset="0" stop-color="#4a56c0"/><stop offset="0.35" stop-color="#5462c4"/><stop offset="0.6" stop-color="#7a84d2"/><stop offset="1" stop-color="#8c94d8"/></linearGradient></defs>
<polygon points="182.65,405.00 183.67,415.00 184.69,425.00 185.71,435.00 186.73,445.00 187.75,455.00 188.77,465.00 189.79,475.00 190.81,485.00 191.83,495.00 192.85,505.00 193.87,515.00 194.89,525.00 195.91,535.00 196.93,545.00 197.95,555.00 198.97,565.00 199.99,575.00 201.01,585.00 202.03,595.00 203.05,605.00 204.07,615.00 205.09,625.00 206.11,635.00 207.13,645.00 208.15,655.00 209.17,665.00 210.19,675.00 211.21,685.00 212.23,695.00 213.25,705.00 214.27,715.00 215.29,725.00 216.31,735.00 219.11,735.00 218.09,725.00 217.07,715.00 216.05,705.00 215.03,695.00 214.01,685.00 212.99,675.00 211.97,665.00 210.95,655.00 209.93,645.00 208.91,635.00 207.89,625.00 206.87,615.00 205.85,605.00 204.83,595.00 203.81,585.00 202.79,575.00 201.77,565.00 200.75,555.00 199.73,545.00 198.71,535.00 197.69,525.00 196.67,515.00 195.65,505.00 194.63,495.00 193.61,485.00 192.59,475.00 191.57,465.00 190.55,455.00 189.53,445.00 188.51,435.00 187.49,425.00 186.47,415.00 185.45,405.00" fill="url(#sg1_c)"/>
<polygon points="185.45,405.00 186.47,415.00 187.49,425.00 188.51,435.00 189.53,445.00 190.55,455.00 191.57,465.00 192.59,475.00 193.61,485.00 194.63,495.00 195.65,505.00 196.67,515.00 197.69,525.00 198.71,535.00 199.73,545.00 200.75,555.00 201.77,565.00 202.79,575.00 203.81,585.00 204.83,595.00 205.85,605.00 206.87,615.00 207.89,625.00 208.91,635.00 209.93,645.00 210.95,655.00 211.97,665.00 212.99,675.00 214.01,685.00 215.03,695.00 216.05,705.00 217.07,715.00 218.09,725.00 219.11,735.00 221.31,735.00 220.29,725.00 219.27,715.00 218.25,705.00 217.23,695.00 216.21,685.00 215.19,675.00 214.17,665.00 213.15,655.00 212.13,645.00 211.11,635.00 210.09,625.00 209.07,615.00 208.05,605.00 207.03,595.00 206.01,585.00 204.99,575.00 203.97,565.00 202.95,555.00 201.93,545.00 200.91,535.00 199.89,525.00 198.87,515.00 197.85,505.00 196.83,495.00 195.81,485.00 194.79,475.00 193.77,465.00 192.75,455.00 191.73,445.00 190.71,435.00 189.69,425.00 188.67,415.00 187.65,405.00" fill="url(#sg2_c)" opacity="0.85"/>
<polygon points="187.65,405.00 188.67,415.00 189.69,425.00 190.71,435.00 191.73,445.00 192.75,455.00 193.77,465.00 194.79,475.00 195.81,485.00 196.83,495.00 197.85,505.00 198.87,515.00 199.89,525.00 200.91,535.00 201.93,545.00 202.95,555.00 203.97,565.00 204.99,575.00 206.01,585.00 207.03,595.00 208.05,605.00 209.07,615.00 210.09,625.00 211.11,635.00 212.13,645.00 213.15,655.00 214.17,665.00 215.19,675.00 216.21,685.00 217.23,695.00 218.25,705.00 219.27,715.00 220.29,725.00 221.31,735.00 223.51,735.00 222.49,725.00 221.47,715.00 220.45,705.00 219.43,695.00 218.41,685.00 217.39,675.00 216.37,665.00 215.35,655.00 214.33,645.00 213.31,635.00 212.29,625.00 211.27,615.00 210.25,605.00 209.23,595.00 208.21,585.00 207.19,575.00 206.17,565.00 205.15,555.00 204.13,545.00 203.11,535.00 202.09,525.00 201.07,515.00 200.05,505.00 199.03,495.00 198.01,485.00 196.99,475.00 195.97,465.00 194.95,455.00 193.93,445.00 192.91,435.00 191.89,425.00 190.87,415.00 189.85,405.00" fill="url(#sg2_c)" opacity="0.45"/>
</g></g>
<rect x="75.3" y="409.9" width="229.7" height="319" fill="none" stroke="#000" stroke-width="1.4"/>
<path d="M190.4,409.9V728.9" stroke="#000" stroke-width="1.4"/>
<text x="66.2" y="415.30" font-family='"Liberation Sans", sans-serif' font-size="15.2" text-anchor="end">4.50</text>
<text x="315.6" y="415.30" font-family='"Liberation Sans", sans-serif' font-size="15.2">4.50</text>
<text x="66.2" y="479.10" font-family='"Liberation Sans", sans-serif' font-size="15.2" text-anchor="end">4.45</text>
<text x="315.6" y="479.10" font-family='"Liberation Sans", sans-serif' font-size="15.2">4.45</text>
<text x="66.2" y="542.90" font-family='"Liberation Sans", sans-serif' font-size="15.2" text-anchor="end">4.40</text>
<text x="315.6" y="542.90" font-family='"Liberation Sans", sans-serif' font-size="15.2">4.40</text>
<text x="66.2" y="606.70" font-family='"Liberation Sans", sans-serif' font-size="15.2" text-anchor="end">4.35</text>
<text x="315.6" y="606.70" font-family='"Liberation Sans", sans-serif' font-size="15.2">4.35</text>
<text x="66.2" y="670.50" font-family='"Liberation Sans", sans-serif' font-size="15.2" text-anchor="end">4.30</text>
<text x="315.6" y="670.50" font-family='"Liberation Sans", sans-serif' font-size="15.2">4.30</text>
<text x="66.2" y="734.30" font-family='"Liberation Sans", sans-serif' font-size="15.2" text-anchor="end">4.25</text>
<text x="315.6" y="734.30" font-family='"Liberation Sans", sans-serif' font-size="15.2">4.25</text>
<path d="M67.5,409.90H75.3M305,409.90H311M67.5,473.70H75.3M305,473.70H311M67.5,537.50H75.3M305,537.50H311M67.5,601.30H75.3M305,601.30H311M67.5,665.10H75.3M305,665.10H311M67.5,728.90H75.3M305,728.90H311M75.30,728.9V735.9M138.70,728.9V735.9M190.40,728.9V735.9M253.80,728.9V735.9" stroke="#000" stroke-width="1.3"/>
<text x="75.30" y="751.2" font-family='"Liberation Sans", sans-serif' font-size="15" text-anchor="middle">3.10</text>
<text x="138.70" y="751.2" font-family='"Liberation Sans", sans-serif' font-size="15" text-anchor="middle">3.15</text>
<text x="190.40" y="751.2" font-family='"Liberation Sans", sans-serif' font-size="15" text-anchor="middle">3.10</text>
<text x="253.80" y="751.2" font-family='"Liberation Sans", sans-serif' font-size="15" text-anchor="middle">3.15</text>
<text x="162.6" y="777.7" font-family='"Liberation Sans", sans-serif' font-size="16">q<tspan dy="4.9">x</tspan><tspan dy="-4.9"> (Å</tspan><tspan dy="-7.7" font-size="13">-1</tspan><tspan dy="7.7">)</tspan></text>
<text transform="translate(19.3,598.2) rotate(-90)" font-family='"Liberation Sans", sans-serif' font-size="16">q<tspan dy="4.9">z</tspan><tspan dy="-4.9"> (Å</tspan><tspan dy="-7.7" font-size="13">-1</tspan><tspan dy="7.7">)</tspan></text>
<text x="87.4" y="442.2" font-family='"Liberation Sans", sans-serif' font-size="20.5" fill="#fff">(b)</text>
<text x="203.3" y="442.2" font-family='"Liberation Sans", sans-serif' font-size="20.5" fill="#fff">(c)</text>
<text x="172.6" y="598.1" font-family='"Liberation Sans", sans-serif' font-size="17.5" fill="#fff">CTR</text>
<path d="M162,591.6L136.5,586.2" stroke="#fff" stroke-width="1.4"/>
<path d="M131.2,585.1L138.2,582.3L136.9,589.3Z" fill="#fff"/>
<path d="M213.1,593L236.6,586.9" stroke="#fff" stroke-width="1.4"/>
<path d="M242,585.4L235.8,583.4L237.6,590.4Z" fill="#fff"/>
<rect x="157.9" y="687.6" width="65.8" height="36.2" fill="#fff" stroke="#000" stroke-width="1.5"/>
<text x="190.2" y="713.6" font-family='"Liberation Sans", sans-serif' font-size="22" text-anchor="middle">224</text>
</svg>
</body></html>
